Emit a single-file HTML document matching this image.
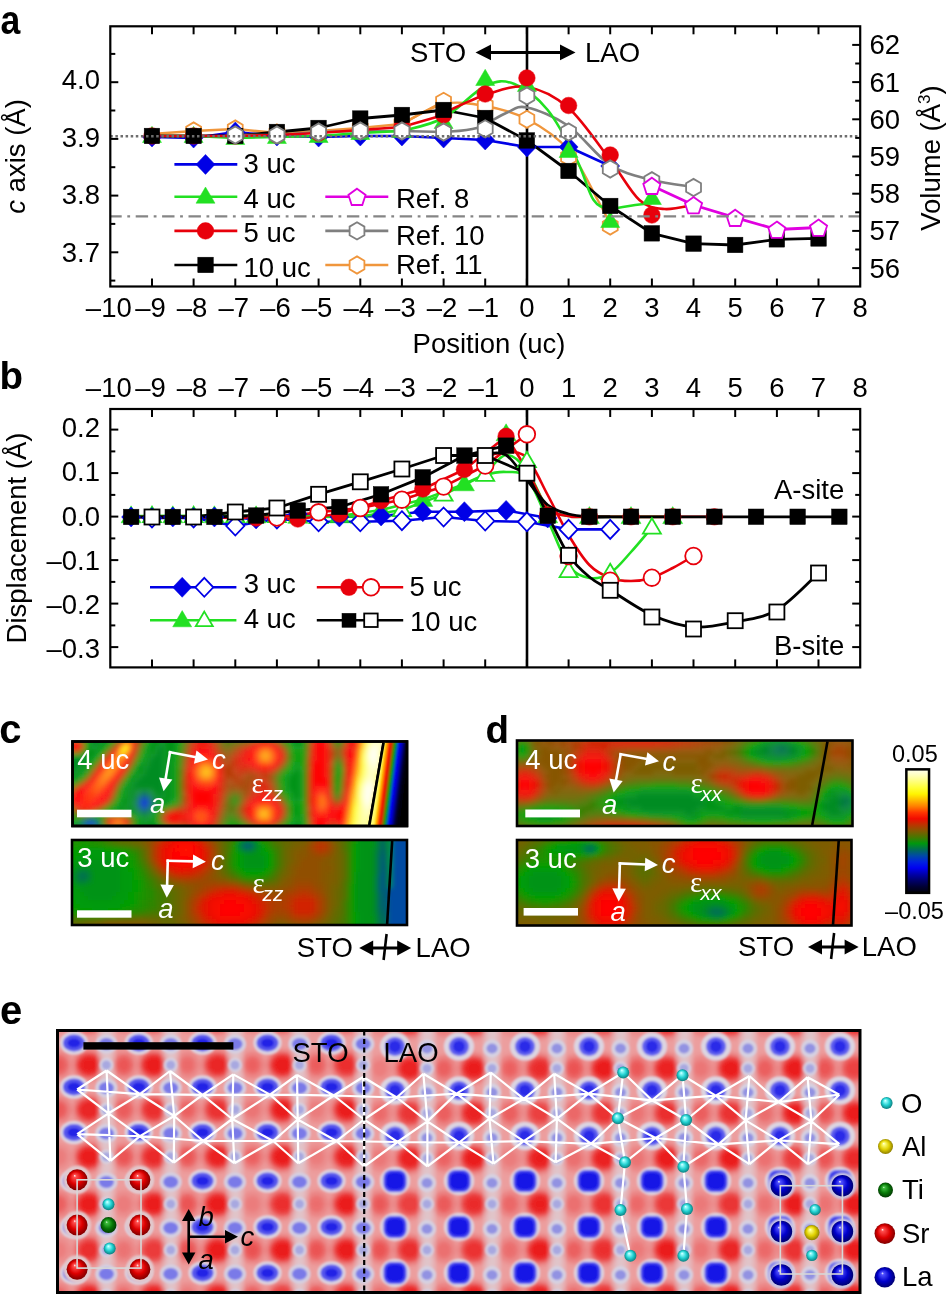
<!DOCTYPE html>
<html><head><meta charset="utf-8"><style>
html,body{margin:0;padding:0;background:#fff;overflow:hidden;}
svg{display:block;font-family:"Liberation Sans", sans-serif;will-change:transform;}
</style></head><body>
<svg width="946" height="1294" viewBox="0 0 946 1294">
<text transform="translate(0.6,34) scale(0.89,1)" font-size="40" font-weight="bold">a</text>
<line x1="527.0" y1="26.3" x2="527.0" y2="286.5" stroke="#000" stroke-width="2.6" />
<polyline points="152.0,134.0 193.6,131.0 235.3,129.0 276.9,133.0 318.6,131.0 360.3,128.0 401.9,124.0 443.6,101.3" fill="none" stroke="#f0963c" stroke-width="2.4" stroke-linejoin="round"/>
<path d="M401.9,124.0 C408.9,120.7 429.7,107.0 443.6,104.0 C457.5,101.0 471.4,103.5 485.2,106.0 C499.1,108.5 513.0,111.7 526.9,119.0 C540.8,126.3 556.8,136.5 568.6,150.0 C580.4,163.5 590.8,187.7 597.7,200.0 C604.7,212.3 608.1,220.0 610.2,224.0" fill="none" stroke="#f0963c" stroke-width="2.4" stroke-linejoin="round"/>
<polyline points="152.0,137.0 193.6,138.0 235.3,132.0 276.9,136.0 318.6,137.0 360.3,136.0 401.9,136.0 443.6,138.0 485.2,140.0 526.9,147.0 568.6,147.0 610.2,166.0" fill="none" stroke="#0000e6" stroke-width="2.6" stroke-linejoin="round"/>
<polyline points="152.0,136.0 193.6,136.0 235.3,136.0 276.9,132.0 318.6,128.0 360.3,118.5 401.9,115.0 443.6,110.0 485.2,118.0 526.9,140.4 568.6,171.0 610.2,206.0 651.9,233.3 693.5,243.7 735.2,245.0 776.9,239.3 818.5,238.4" fill="none" stroke="#000" stroke-width="2.8" stroke-linejoin="round"/>
<polyline points="235.3,135.0 276.9,135.0 318.6,132.0 360.3,131.0 401.9,131.0 443.6,132.0" fill="none" stroke="#7f7f7f" stroke-width="2.6" stroke-linejoin="round"/>
<path d="M443.6,132.0 C449.1,131.3 466.5,131.2 476.9,128.0 C487.3,124.8 497.7,116.4 506.1,113.0 C514.4,109.6 516.5,105.3 526.9,107.5 C537.3,109.7 554.7,116.4 568.6,126.0 C582.4,135.6 596.3,156.0 610.2,165.0 C624.1,174.0 638.0,176.3 651.9,180.0 C665.8,183.7 686.6,185.8 693.5,187.0" fill="none" stroke="#7f7f7f" stroke-width="2.6" stroke-linejoin="round"/>
<polyline points="152.0,136.0 193.6,136.0 235.3,138.0 276.9,137.0 318.6,136.0 360.3,133.0 401.9,131.0" fill="none" stroke="#22e022" stroke-width="2.6" stroke-linejoin="round"/>
<path d="M401.9,131.0 C408.9,128.8 429.7,125.5 443.6,118.0 C457.5,110.5 473.4,91.7 485.2,86.0 C497.0,80.3 504.0,80.0 514.4,84.0 C524.8,88.0 537.3,97.3 547.7,110.0 C558.1,122.7 569.3,145.0 576.9,160.0 C584.5,175.0 588.0,192.0 593.6,200.0 C599.1,208.0 603.3,207.2 610.2,208.0 C617.2,208.8 628.3,205.8 635.2,205.0 C642.2,204.2 649.1,203.3 651.9,203.0" fill="none" stroke="#22e022" stroke-width="2.6" stroke-linejoin="round"/>
<polyline points="152.0,136.0 193.6,136.0 235.3,136.0 276.9,135.0 318.6,133.0 360.3,130.0 401.9,127.0 443.6,115.0" fill="none" stroke="#e8000b" stroke-width="2.6" stroke-linejoin="round"/>
<path d="M443.6,113.0 C450.5,110.0 471.4,99.3 485.2,95.0 C499.1,90.7 513.0,84.8 526.9,87.0 C540.8,89.2 554.7,95.8 568.6,108.0 C582.4,120.2 598.4,144.7 610.2,160.0 C622.0,175.3 630.4,191.8 639.4,200.0 C648.4,208.2 655.4,208.2 664.4,209.0 C673.4,209.8 688.7,205.7 693.5,205.0" fill="none" stroke="#e8000b" stroke-width="2.6" stroke-linejoin="round"/>
<polyline points="651.9,185.7 693.5,205.0 735.2,217.7 776.9,229.5 818.5,227.5" fill="none" stroke="#e000e0" stroke-width="2.8" stroke-linejoin="round"/>
<polygon points="193.6,122.4 201.1,126.7 201.1,135.3 193.6,139.6 186.2,135.3 186.2,126.7" fill="#fff" stroke="#f0963c" stroke-width="1.8"/>
<polygon points="235.3,120.4 242.7,124.7 242.7,133.3 235.3,137.6 227.8,133.3 227.8,124.7" fill="#fff" stroke="#f0963c" stroke-width="1.8"/>
<polygon points="276.9,124.4 284.4,128.7 284.4,137.3 276.9,141.6 269.5,137.3 269.5,128.7" fill="#fff" stroke="#f0963c" stroke-width="1.8"/>
<polygon points="318.6,122.4 326.0,126.7 326.0,135.3 318.6,139.6 311.2,135.3 311.2,126.7" fill="#fff" stroke="#f0963c" stroke-width="1.8"/>
<polygon points="360.3,119.4 367.7,123.7 367.7,132.3 360.3,136.6 352.8,132.3 352.8,123.7" fill="#fff" stroke="#f0963c" stroke-width="1.8"/>
<polygon points="401.9,115.4 409.4,119.7 409.4,128.3 401.9,132.6 394.5,128.3 394.5,119.7" fill="#fff" stroke="#f0963c" stroke-width="1.8"/>
<polygon points="443.6,92.7 451.0,97.0 451.0,105.6 443.6,109.9 436.1,105.6 436.1,97.0" fill="#fff" stroke="#f0963c" stroke-width="1.8"/>
<polygon points="485.2,96.9 492.7,101.2 492.7,109.8 485.2,114.1 477.8,109.8 477.8,101.2" fill="#fff" stroke="#f0963c" stroke-width="1.8"/>
<polygon points="526.9,110.7 534.3,115.0 534.3,123.6 526.9,127.9 519.5,123.6 519.5,115.0" fill="#fff" stroke="#f0963c" stroke-width="1.8"/>
<polygon points="568.6,148.4 576.0,152.7 576.0,161.3 568.6,165.6 561.1,161.3 561.1,152.7" fill="#fff" stroke="#f0963c" stroke-width="1.8"/>
<polygon points="610.2,217.4 617.7,221.7 617.7,230.3 610.2,234.6 602.8,230.3 602.8,221.7" fill="#fff" stroke="#f0963c" stroke-width="1.8"/>
<polygon points="152.0,127.0 161.5,137.0 152.0,147.0 142.5,137.0" fill="#0000e6" stroke="#0000e6" stroke-width="0.5"/>
<polygon points="193.6,128.0 203.1,138.0 193.6,148.0 184.1,138.0" fill="#0000e6" stroke="#0000e6" stroke-width="0.5"/>
<polygon points="235.3,122.0 244.8,132.0 235.3,142.0 225.8,132.0" fill="#0000e6" stroke="#0000e6" stroke-width="0.5"/>
<polygon points="276.9,126.0 286.4,136.0 276.9,146.0 267.4,136.0" fill="#0000e6" stroke="#0000e6" stroke-width="0.5"/>
<polygon points="318.6,127.0 328.1,137.0 318.6,147.0 309.1,137.0" fill="#0000e6" stroke="#0000e6" stroke-width="0.5"/>
<polygon points="360.3,126.0 369.8,136.0 360.3,146.0 350.8,136.0" fill="#0000e6" stroke="#0000e6" stroke-width="0.5"/>
<polygon points="401.9,126.0 411.4,136.0 401.9,146.0 392.4,136.0" fill="#0000e6" stroke="#0000e6" stroke-width="0.5"/>
<polygon points="443.6,128.0 453.1,138.0 443.6,148.0 434.1,138.0" fill="#0000e6" stroke="#0000e6" stroke-width="0.5"/>
<polygon points="485.2,130.0 494.7,140.0 485.2,150.0 475.7,140.0" fill="#0000e6" stroke="#0000e6" stroke-width="0.5"/>
<polygon points="526.9,137.0 536.4,147.0 526.9,157.0 517.4,147.0" fill="#0000e6" stroke="#0000e6" stroke-width="0.5"/>
<polygon points="568.6,137.0 578.1,147.0 568.6,157.0 559.1,147.0" fill="#0000e6" stroke="#0000e6" stroke-width="0.5"/>
<polygon points="610.2,156.0 619.7,166.0 610.2,176.0 600.7,166.0" fill="#0000e6" stroke="#0000e6" stroke-width="0.5"/>
<polygon points="152.0,126.3 161.5,142.5 142.5,142.5" fill="#22e022" stroke="#22e022" stroke-width="0.5"/>
<polygon points="193.6,126.3 203.1,142.5 184.1,142.5" fill="#22e022" stroke="#22e022" stroke-width="0.5"/>
<polygon points="235.3,128.3 244.8,144.5 225.8,144.5" fill="#22e022" stroke="#22e022" stroke-width="0.5"/>
<polygon points="276.9,127.3 286.4,143.5 267.4,143.5" fill="#22e022" stroke="#22e022" stroke-width="0.5"/>
<polygon points="318.6,126.3 328.1,142.5 309.1,142.5" fill="#22e022" stroke="#22e022" stroke-width="0.5"/>
<polygon points="360.3,123.3 369.8,139.5 350.8,139.5" fill="#22e022" stroke="#22e022" stroke-width="0.5"/>
<polygon points="401.9,121.3 411.4,137.5 392.4,137.5" fill="#22e022" stroke="#22e022" stroke-width="0.5"/>
<polygon points="443.6,112.3 453.1,128.5 434.1,128.5" fill="#22e022" stroke="#22e022" stroke-width="0.5"/>
<polygon points="485.2,69.3 494.7,85.5 475.7,85.5" fill="#22e022" stroke="#22e022" stroke-width="0.5"/>
<polygon points="526.9,75.3 536.4,91.5 517.4,91.5" fill="#22e022" stroke="#22e022" stroke-width="0.5"/>
<polygon points="568.6,141.3 578.1,157.5 559.1,157.5" fill="#22e022" stroke="#22e022" stroke-width="0.5"/>
<polygon points="610.2,211.3 619.7,227.5 600.7,227.5" fill="#22e022" stroke="#22e022" stroke-width="0.5"/>
<polygon points="651.9,188.3 661.4,204.5 642.4,204.5" fill="#22e022" stroke="#22e022" stroke-width="0.5"/>
<circle cx="152.0" cy="136.0" r="8.3" fill="#e8000b" stroke="#e8000b" stroke-width="0.5"/>
<circle cx="193.6" cy="136.0" r="8.3" fill="#e8000b" stroke="#e8000b" stroke-width="0.5"/>
<circle cx="235.3" cy="136.0" r="8.3" fill="#e8000b" stroke="#e8000b" stroke-width="0.5"/>
<circle cx="276.9" cy="135.0" r="8.3" fill="#e8000b" stroke="#e8000b" stroke-width="0.5"/>
<circle cx="318.6" cy="133.0" r="8.3" fill="#e8000b" stroke="#e8000b" stroke-width="0.5"/>
<circle cx="360.3" cy="130.0" r="8.3" fill="#e8000b" stroke="#e8000b" stroke-width="0.5"/>
<circle cx="401.9" cy="127.0" r="8.3" fill="#e8000b" stroke="#e8000b" stroke-width="0.5"/>
<circle cx="443.6" cy="115.0" r="8.3" fill="#e8000b" stroke="#e8000b" stroke-width="0.5"/>
<circle cx="485.2" cy="94.0" r="8.3" fill="#e8000b" stroke="#e8000b" stroke-width="0.5"/>
<circle cx="526.9" cy="78.0" r="8.3" fill="#e8000b" stroke="#e8000b" stroke-width="0.5"/>
<circle cx="568.6" cy="105.5" r="8.3" fill="#e8000b" stroke="#e8000b" stroke-width="0.5"/>
<circle cx="610.2" cy="155.0" r="8.3" fill="#e8000b" stroke="#e8000b" stroke-width="0.5"/>
<circle cx="651.9" cy="215.0" r="8.3" fill="#e8000b" stroke="#e8000b" stroke-width="0.5"/>
<rect x="144.2" y="128.2" width="15.5" height="15.5" fill="#000" stroke="#000" stroke-width="0.5"/>
<rect x="185.9" y="128.2" width="15.5" height="15.5" fill="#000" stroke="#000" stroke-width="0.5"/>
<rect x="227.5" y="128.2" width="15.5" height="15.5" fill="#000" stroke="#000" stroke-width="0.5"/>
<rect x="269.2" y="124.2" width="15.5" height="15.5" fill="#000" stroke="#000" stroke-width="0.5"/>
<rect x="310.8" y="120.2" width="15.5" height="15.5" fill="#000" stroke="#000" stroke-width="0.5"/>
<rect x="352.5" y="110.8" width="15.5" height="15.5" fill="#000" stroke="#000" stroke-width="0.5"/>
<rect x="394.2" y="107.2" width="15.5" height="15.5" fill="#000" stroke="#000" stroke-width="0.5"/>
<rect x="435.8" y="102.2" width="15.5" height="15.5" fill="#000" stroke="#000" stroke-width="0.5"/>
<rect x="477.5" y="110.2" width="15.5" height="15.5" fill="#000" stroke="#000" stroke-width="0.5"/>
<rect x="519.1" y="132.7" width="15.5" height="15.5" fill="#000" stroke="#000" stroke-width="0.5"/>
<rect x="560.8" y="163.2" width="15.5" height="15.5" fill="#000" stroke="#000" stroke-width="0.5"/>
<rect x="602.5" y="198.2" width="15.5" height="15.5" fill="#000" stroke="#000" stroke-width="0.5"/>
<rect x="644.1" y="225.6" width="15.5" height="15.5" fill="#000" stroke="#000" stroke-width="0.5"/>
<rect x="685.8" y="235.9" width="15.5" height="15.5" fill="#000" stroke="#000" stroke-width="0.5"/>
<rect x="727.4" y="237.2" width="15.5" height="15.5" fill="#000" stroke="#000" stroke-width="0.5"/>
<rect x="769.1" y="231.6" width="15.5" height="15.5" fill="#000" stroke="#000" stroke-width="0.5"/>
<rect x="810.8" y="230.7" width="15.5" height="15.5" fill="#000" stroke="#000" stroke-width="0.5"/>
<polygon points="235.3,126.4 242.7,130.7 242.7,139.3 235.3,143.6 227.8,139.3 227.8,130.7" fill="#fff" stroke="#7f7f7f" stroke-width="1.8"/>
<polygon points="276.9,126.4 284.4,130.7 284.4,139.3 276.9,143.6 269.5,139.3 269.5,130.7" fill="#fff" stroke="#7f7f7f" stroke-width="1.8"/>
<polygon points="318.6,123.4 326.0,127.7 326.0,136.3 318.6,140.6 311.2,136.3 311.2,127.7" fill="#fff" stroke="#7f7f7f" stroke-width="1.8"/>
<polygon points="360.3,122.4 367.7,126.7 367.7,135.3 360.3,139.6 352.8,135.3 352.8,126.7" fill="#fff" stroke="#7f7f7f" stroke-width="1.8"/>
<polygon points="401.9,122.4 409.4,126.7 409.4,135.3 401.9,139.6 394.5,135.3 394.5,126.7" fill="#fff" stroke="#7f7f7f" stroke-width="1.8"/>
<polygon points="443.6,123.4 451.0,127.7 451.0,136.3 443.6,140.6 436.1,136.3 436.1,127.7" fill="#fff" stroke="#7f7f7f" stroke-width="1.8"/>
<polygon points="485.2,120.2 492.7,124.5 492.7,133.1 485.2,137.4 477.8,133.1 477.8,124.5" fill="#fff" stroke="#7f7f7f" stroke-width="1.8"/>
<polygon points="526.9,87.4 534.3,91.7 534.3,100.3 526.9,104.6 519.5,100.3 519.5,91.7" fill="#fff" stroke="#7f7f7f" stroke-width="1.8"/>
<polygon points="568.6,123.4 576.0,127.7 576.0,136.3 568.6,140.6 561.1,136.3 561.1,127.7" fill="#fff" stroke="#7f7f7f" stroke-width="1.8"/>
<polygon points="610.2,160.4 617.7,164.7 617.7,173.3 610.2,177.6 602.8,173.3 602.8,164.7" fill="#fff" stroke="#7f7f7f" stroke-width="1.8"/>
<polygon points="651.9,172.1 659.3,176.4 659.3,185.0 651.9,189.3 644.4,185.0 644.4,176.4" fill="#fff" stroke="#7f7f7f" stroke-width="1.8"/>
<polygon points="693.5,178.9 701.0,183.2 701.0,191.8 693.5,196.1 686.1,191.8 686.1,183.2" fill="#fff" stroke="#7f7f7f" stroke-width="1.8"/>
<polygon points="651.9,177.7 660.4,183.9 657.2,194.0 646.6,194.0 643.3,183.9" fill="#fff" stroke="#e000e0" stroke-width="1.8"/>
<polygon points="693.5,197.0 702.1,203.2 698.8,213.3 688.2,213.3 685.0,203.2" fill="#fff" stroke="#e000e0" stroke-width="1.8"/>
<polygon points="735.2,209.7 743.8,215.9 740.5,226.0 729.9,226.0 726.6,215.9" fill="#fff" stroke="#e000e0" stroke-width="1.8"/>
<polygon points="776.9,221.5 785.4,227.7 782.2,237.8 771.6,237.8 768.3,227.7" fill="#fff" stroke="#e000e0" stroke-width="1.8"/>
<polygon points="818.5,219.5 827.1,225.7 823.8,235.8 813.2,235.8 810.0,225.7" fill="#fff" stroke="#e000e0" stroke-width="1.8"/>
<line x1="110.3" y1="136.2" x2="860.2" y2="136.2" stroke="#6e6e6e" stroke-width="2.5" stroke-dasharray="2.5 2.6"/>
<line x1="110.3" y1="216.4" x2="860.2" y2="216.4" stroke="#858585" stroke-width="2.4" stroke-dasharray="12.4 5.6 2.8 5.6" stroke-dashoffset="1"/>
<rect x="110.3" y="26.3" width="749.9" height="260.2" fill="none" stroke="#000" stroke-width="2.2"/>
<line x1="152.0" y1="286.5" x2="152.0" y2="278.5" stroke="#000" stroke-width="2" />
<line x1="152.0" y1="26.3" x2="152.0" y2="34.3" stroke="#000" stroke-width="2" />
<line x1="193.6" y1="286.5" x2="193.6" y2="278.5" stroke="#000" stroke-width="2" />
<line x1="193.6" y1="26.3" x2="193.6" y2="34.3" stroke="#000" stroke-width="2" />
<line x1="235.3" y1="286.5" x2="235.3" y2="278.5" stroke="#000" stroke-width="2" />
<line x1="235.3" y1="26.3" x2="235.3" y2="34.3" stroke="#000" stroke-width="2" />
<line x1="276.9" y1="286.5" x2="276.9" y2="278.5" stroke="#000" stroke-width="2" />
<line x1="276.9" y1="26.3" x2="276.9" y2="34.3" stroke="#000" stroke-width="2" />
<line x1="318.6" y1="286.5" x2="318.6" y2="278.5" stroke="#000" stroke-width="2" />
<line x1="318.6" y1="26.3" x2="318.6" y2="34.3" stroke="#000" stroke-width="2" />
<line x1="360.3" y1="286.5" x2="360.3" y2="278.5" stroke="#000" stroke-width="2" />
<line x1="360.3" y1="26.3" x2="360.3" y2="34.3" stroke="#000" stroke-width="2" />
<line x1="401.9" y1="286.5" x2="401.9" y2="278.5" stroke="#000" stroke-width="2" />
<line x1="401.9" y1="26.3" x2="401.9" y2="34.3" stroke="#000" stroke-width="2" />
<line x1="443.6" y1="286.5" x2="443.6" y2="278.5" stroke="#000" stroke-width="2" />
<line x1="443.6" y1="26.3" x2="443.6" y2="34.3" stroke="#000" stroke-width="2" />
<line x1="485.2" y1="286.5" x2="485.2" y2="278.5" stroke="#000" stroke-width="2" />
<line x1="485.2" y1="26.3" x2="485.2" y2="34.3" stroke="#000" stroke-width="2" />
<line x1="526.9" y1="286.5" x2="526.9" y2="278.5" stroke="#000" stroke-width="2" />
<line x1="526.9" y1="26.3" x2="526.9" y2="34.3" stroke="#000" stroke-width="2" />
<line x1="568.6" y1="286.5" x2="568.6" y2="278.5" stroke="#000" stroke-width="2" />
<line x1="568.6" y1="26.3" x2="568.6" y2="34.3" stroke="#000" stroke-width="2" />
<line x1="610.2" y1="286.5" x2="610.2" y2="278.5" stroke="#000" stroke-width="2" />
<line x1="610.2" y1="26.3" x2="610.2" y2="34.3" stroke="#000" stroke-width="2" />
<line x1="651.9" y1="286.5" x2="651.9" y2="278.5" stroke="#000" stroke-width="2" />
<line x1="651.9" y1="26.3" x2="651.9" y2="34.3" stroke="#000" stroke-width="2" />
<line x1="693.5" y1="286.5" x2="693.5" y2="278.5" stroke="#000" stroke-width="2" />
<line x1="693.5" y1="26.3" x2="693.5" y2="34.3" stroke="#000" stroke-width="2" />
<line x1="735.2" y1="286.5" x2="735.2" y2="278.5" stroke="#000" stroke-width="2" />
<line x1="735.2" y1="26.3" x2="735.2" y2="34.3" stroke="#000" stroke-width="2" />
<line x1="776.9" y1="286.5" x2="776.9" y2="278.5" stroke="#000" stroke-width="2" />
<line x1="776.9" y1="26.3" x2="776.9" y2="34.3" stroke="#000" stroke-width="2" />
<line x1="818.5" y1="286.5" x2="818.5" y2="278.5" stroke="#000" stroke-width="2" />
<line x1="818.5" y1="26.3" x2="818.5" y2="34.3" stroke="#000" stroke-width="2" />
<text x="108.8" y="316.5" font-size="27.5" text-anchor="middle" fill="#000" >&#8211;10</text>
<text x="150.5" y="316.5" font-size="27.5" text-anchor="middle" fill="#000" >&#8211;9</text>
<text x="192.1" y="316.5" font-size="27.5" text-anchor="middle" fill="#000" >&#8211;8</text>
<text x="233.8" y="316.5" font-size="27.5" text-anchor="middle" fill="#000" >&#8211;7</text>
<text x="275.4" y="316.5" font-size="27.5" text-anchor="middle" fill="#000" >&#8211;6</text>
<text x="317.1" y="316.5" font-size="27.5" text-anchor="middle" fill="#000" >&#8211;5</text>
<text x="358.8" y="316.5" font-size="27.5" text-anchor="middle" fill="#000" >&#8211;4</text>
<text x="400.4" y="316.5" font-size="27.5" text-anchor="middle" fill="#000" >&#8211;3</text>
<text x="442.1" y="316.5" font-size="27.5" text-anchor="middle" fill="#000" >&#8211;2</text>
<text x="483.7" y="316.5" font-size="27.5" text-anchor="middle" fill="#000" >&#8211;1</text>
<text x="526.9" y="316.5" font-size="27.5" text-anchor="middle" fill="#000" >0</text>
<text x="568.6" y="316.5" font-size="27.5" text-anchor="middle" fill="#000" >1</text>
<text x="610.2" y="316.5" font-size="27.5" text-anchor="middle" fill="#000" >2</text>
<text x="651.9" y="316.5" font-size="27.5" text-anchor="middle" fill="#000" >3</text>
<text x="693.5" y="316.5" font-size="27.5" text-anchor="middle" fill="#000" >4</text>
<text x="735.2" y="316.5" font-size="27.5" text-anchor="middle" fill="#000" >5</text>
<text x="776.9" y="316.5" font-size="27.5" text-anchor="middle" fill="#000" >6</text>
<text x="818.5" y="316.5" font-size="27.5" text-anchor="middle" fill="#000" >7</text>
<text x="860.2" y="316.5" font-size="27.5" text-anchor="middle" fill="#000" >8</text>
<line x1="110.3" y1="82.2" x2="118.3" y2="82.2" stroke="#000" stroke-width="2" />
<text x="100.0" y="89.4" font-size="27.5" text-anchor="end" fill="#000" >4.0</text>
<line x1="110.3" y1="138.9" x2="118.3" y2="138.9" stroke="#000" stroke-width="2" />
<text x="100.0" y="146.6" font-size="27.5" text-anchor="end" fill="#000" >3.9</text>
<line x1="110.3" y1="195.6" x2="118.3" y2="195.6" stroke="#000" stroke-width="2" />
<text x="100.0" y="204.1" font-size="27.5" text-anchor="end" fill="#000" >3.8</text>
<line x1="110.3" y1="252.3" x2="118.3" y2="252.3" stroke="#000" stroke-width="2" />
<text x="100.0" y="261.8" font-size="27.5" text-anchor="end" fill="#000" >3.7</text>
<line x1="110.3" y1="53.9" x2="115.3" y2="53.9" stroke="#000" stroke-width="2" />
<line x1="110.3" y1="110.5" x2="115.3" y2="110.5" stroke="#000" stroke-width="2" />
<line x1="110.3" y1="167.2" x2="115.3" y2="167.2" stroke="#000" stroke-width="2" />
<line x1="110.3" y1="223.9" x2="115.3" y2="223.9" stroke="#000" stroke-width="2" />
<line x1="110.3" y1="280.6" x2="115.3" y2="280.6" stroke="#000" stroke-width="2" />
<line x1="860.2" y1="268.1" x2="852.2" y2="268.1" stroke="#000" stroke-width="2" />
<text x="869.5" y="277.6" font-size="27.5" text-anchor="start" fill="#000" >56</text>
<line x1="860.2" y1="230.9" x2="852.2" y2="230.9" stroke="#000" stroke-width="2" />
<text x="869.5" y="240.4" font-size="27.5" text-anchor="start" fill="#000" >57</text>
<line x1="860.2" y1="193.7" x2="852.2" y2="193.7" stroke="#000" stroke-width="2" />
<text x="869.5" y="203.2" font-size="27.5" text-anchor="start" fill="#000" >58</text>
<line x1="860.2" y1="156.5" x2="852.2" y2="156.5" stroke="#000" stroke-width="2" />
<text x="869.5" y="166.0" font-size="27.5" text-anchor="start" fill="#000" >59</text>
<line x1="860.2" y1="119.3" x2="852.2" y2="119.3" stroke="#000" stroke-width="2" />
<text x="869.5" y="128.8" font-size="27.5" text-anchor="start" fill="#000" >60</text>
<line x1="860.2" y1="82.1" x2="852.2" y2="82.1" stroke="#000" stroke-width="2" />
<text x="869.5" y="91.6" font-size="27.5" text-anchor="start" fill="#000" >61</text>
<line x1="860.2" y1="44.9" x2="852.2" y2="44.9" stroke="#000" stroke-width="2" />
<text x="869.5" y="54.4" font-size="27.5" text-anchor="start" fill="#000" >62</text>
<line x1="860.2" y1="249.5" x2="855.2" y2="249.5" stroke="#000" stroke-width="2" />
<line x1="860.2" y1="212.3" x2="855.2" y2="212.3" stroke="#000" stroke-width="2" />
<line x1="860.2" y1="175.1" x2="855.2" y2="175.1" stroke="#000" stroke-width="2" />
<line x1="860.2" y1="137.9" x2="855.2" y2="137.9" stroke="#000" stroke-width="2" />
<line x1="860.2" y1="100.7" x2="855.2" y2="100.7" stroke="#000" stroke-width="2" />
<line x1="860.2" y1="63.5" x2="855.2" y2="63.5" stroke="#000" stroke-width="2" />
<text x="489.0" y="352.5" font-size="27.5" text-anchor="middle" fill="#000" >Position (uc)</text>
<text transform="translate(25.2,156.5) rotate(-90)" font-size="27.5" text-anchor="middle"><tspan font-style="italic">c</tspan> axis (&#197;)</text>
<text transform="translate(939.5,158) rotate(-90)" font-size="27.5" text-anchor="middle">Volume (&#197;<tspan font-size="17" dy="-10">3</tspan><tspan dy="10">)</tspan></text>
<text x="410.0" y="61.7" font-size="27.5" text-anchor="start" fill="#000" >STO</text>
<text x="585.0" y="61.7" font-size="27.5" text-anchor="start" fill="#000" >LAO</text>
<line x1="488.0" y1="52.4" x2="563.0" y2="52.4" stroke="#000" stroke-width="3" />
<polygon points="475.5,52.4 491.0,44.5 491.0,60.3" fill="#000" stroke="none" stroke-width="1.8"/>
<polygon points="575.5,52.4 560.0,44.5 560.0,60.3" fill="#000" stroke="none" stroke-width="1.8"/>
<line x1="174.4" y1="164.4" x2="237.3" y2="164.4" stroke="#0000e6" stroke-width="2.6" />
<polygon points="205.5,154.4 215.0,164.4 205.5,174.4 196.0,164.4" fill="#0000e6" stroke="#0000e6" stroke-width="0.5"/>
<text x="243.5" y="173.4" font-size="27.5" text-anchor="start" fill="#000" >3 uc</text>
<line x1="174.4" y1="196.7" x2="237.3" y2="196.7" stroke="#22e022" stroke-width="2.6" />
<polygon points="205.5,187.0 215.0,203.2 196.0,203.2" fill="#22e022" stroke="#22e022" stroke-width="0.5"/>
<text x="243.5" y="207.5" font-size="27.5" text-anchor="start" fill="#000" >4 uc</text>
<line x1="174.4" y1="230.9" x2="237.3" y2="230.9" stroke="#e8000b" stroke-width="2.6" />
<circle cx="205.5" cy="230.9" r="8.3" fill="#e8000b" stroke="#e8000b" stroke-width="0.5"/>
<text x="243.5" y="241.8" font-size="27.5" text-anchor="start" fill="#000" >5 uc</text>
<line x1="174.4" y1="265.0" x2="237.3" y2="265.0" stroke="#000" stroke-width="2.6" />
<rect x="197.8" y="257.2" width="15.5" height="15.5" fill="#000" stroke="#000" stroke-width="0.5"/>
<text x="243.5" y="276.5" font-size="27.5" text-anchor="start" fill="#000" >10 uc</text>
<line x1="325.3" y1="196.7" x2="388.3" y2="196.7" stroke="#e000e0" stroke-width="2.6" />
<polygon points="357.0,188.7 365.6,194.9 362.3,205.0 351.7,205.0 348.4,194.9" fill="#fff" stroke="#e000e0" stroke-width="1.8"/>
<text x="396.0" y="207.5" font-size="27.5" text-anchor="start" fill="#000" >Ref. 8</text>
<line x1="325.3" y1="230.9" x2="388.3" y2="230.9" stroke="#7f7f7f" stroke-width="2.6" />
<polygon points="357.0,222.3 364.4,226.6 364.4,235.2 357.0,239.5 349.6,235.2 349.6,226.6" fill="#fff" stroke="#7f7f7f" stroke-width="1.8"/>
<text x="396.0" y="244.6" font-size="27.5" text-anchor="start" fill="#000" >Ref. 10</text>
<line x1="325.3" y1="265.0" x2="388.3" y2="265.0" stroke="#f0963c" stroke-width="2.6" />
<polygon points="357.0,256.4 364.4,260.7 364.4,269.3 357.0,273.6 349.6,269.3 349.6,260.7" fill="#fff" stroke="#f0963c" stroke-width="1.8"/>
<text x="396.0" y="273.5" font-size="27.5" text-anchor="start" fill="#000" >Ref. 11</text>
<text x="-0.5" y="388.8" font-size="38.5" text-anchor="start" fill="#000" font-weight="bold">b</text>
<line x1="527.0" y1="409.0" x2="527.0" y2="667.4" stroke="#000" stroke-width="2.6" />
<polyline points="152.0,518.0 193.6,518.0 235.3,526.0 276.9,519.0 318.6,521.8 360.3,521.8 401.9,520.7 443.6,517.0 485.2,521.0 526.9,521.8 568.6,529.4 610.2,529.4" fill="none" stroke="#0000e6" stroke-width="2.6" stroke-linejoin="round"/>
<polyline points="131.1,517.0 172.8,517.0 214.4,517.0 256.1,519.0 297.8,514.0 339.4,517.0 381.1,516.0 422.8,511.7 464.4,511.7 506.1,510.4 547.7,518.0" fill="none" stroke="#0000e6" stroke-width="2.6" stroke-linejoin="round"/>
<polyline points="152.0,516.0 193.6,516.0 235.3,516.0 276.9,516.0 318.6,517.0 360.3,516.5 401.9,510.0 443.6,494.6 485.2,474.7" fill="none" stroke="#22e022" stroke-width="2.6" stroke-linejoin="round"/>
<polyline points="131.1,516.0 172.8,516.0 214.4,516.0 256.1,516.0 297.8,516.5 339.4,516.0 381.1,510.0 422.8,499.6 464.4,484.0" fill="none" stroke="#22e022" stroke-width="2.6" stroke-linejoin="round"/>
<path d="M464.4,484.0 C467.9,482.5 478.3,477.0 485.2,475.0 C492.2,473.0 499.1,471.5 506.1,472.0 C513.0,472.5 520.0,470.0 526.9,478.0 C533.8,486.0 540.8,505.5 547.7,520.0 C554.7,534.5 561.6,555.3 568.6,565.0 C575.5,574.7 582.4,576.7 589.4,578.0 C596.3,579.3 603.3,577.3 610.2,573.0 C617.2,568.7 624.1,559.6 631.0,552.0 C638.0,544.4 648.4,531.6 651.9,527.5" fill="none" stroke="#22e022" stroke-width="2.6" stroke-linejoin="round"/>
<path d="M485.2,474.0 C488.7,470.8 499.1,455.7 506.1,455.0 C513.0,454.3 520.0,461.2 526.9,470.0 C533.8,478.8 540.8,500.3 547.7,508.0 C554.7,515.7 561.6,514.5 568.6,516.0 C575.5,517.5 572.0,516.7 589.4,516.8 C606.7,516.9 658.8,516.8 672.7,516.8" fill="none" stroke="#22e022" stroke-width="2.6" stroke-linejoin="round"/>
<polyline points="152.0,517.0 193.6,517.0 235.3,517.6 276.9,517.6 318.6,512.3 360.3,508.0 401.9,499.7 443.6,486.6 485.2,465.5 526.9,434.3" fill="none" stroke="#e8000b" stroke-width="2.6" stroke-linejoin="round"/>
<polyline points="131.1,517.0 172.8,517.0 214.4,517.0 256.1,518.0 297.8,519.0 339.4,514.0 381.1,500.7 422.8,489.0 464.4,469.5 506.1,436.4" fill="none" stroke="#e8000b" stroke-width="2.6" stroke-linejoin="round"/>
<path d="M485.2,457.0 C488.7,456.2 499.1,451.8 506.1,452.0 C513.0,452.2 520.0,450.8 526.9,458.0 C533.8,465.2 540.8,482.2 547.7,495.0 C554.7,507.8 561.6,523.3 568.6,535.0 C575.5,546.7 582.4,557.8 589.4,565.0 C596.3,572.2 603.3,575.3 610.2,578.0 C617.2,580.7 624.1,581.0 631.0,581.0 C638.0,581.0 644.9,579.9 651.9,577.7 C658.8,575.5 665.8,571.6 672.7,568.0 C679.7,564.4 690.1,558.0 693.5,556.0" fill="none" stroke="#e8000b" stroke-width="2.6" stroke-linejoin="round"/>
<path d="M506.1,436.0 C509.5,441.7 520.0,458.0 526.9,470.0 C533.8,482.0 540.8,500.3 547.7,508.0 C554.7,515.7 561.6,514.5 568.6,516.0 C575.5,517.5 565.1,516.7 589.4,516.8 C613.7,516.9 693.5,516.8 714.4,516.8" fill="none" stroke="#e8000b" stroke-width="2.6" stroke-linejoin="round"/>
<polyline points="152.0,517.0 193.6,517.0 235.3,512.0 276.9,508.0 318.6,494.3 360.3,481.8 401.9,469.0 443.6,455.5 485.2,455.5 526.9,473.2" fill="none" stroke="#000" stroke-width="2.8" stroke-linejoin="round"/>
<path d="M526.9,473.0 C530.4,480.0 540.8,501.3 547.7,515.0 C554.7,528.7 561.6,544.7 568.6,555.0 C575.5,565.3 582.4,571.2 589.4,577.0 C596.3,582.8 599.8,583.7 610.2,590.0 C620.6,596.3 638.0,608.8 651.9,615.0 C665.8,621.2 679.7,625.8 693.5,627.0 C707.4,628.2 721.3,624.8 735.2,622.0 C749.1,619.2 763.0,618.2 776.9,610.0 C790.7,601.8 811.6,579.2 818.5,573.0" fill="none" stroke="#000" stroke-width="2.8" stroke-linejoin="round"/>
<polyline points="131.1,517.0 172.8,517.0 214.4,517.0 256.1,515.5 297.8,510.5 339.4,507.0 381.1,494.3 422.8,477.4 464.4,455.5 506.1,445.7" fill="none" stroke="#000" stroke-width="2.8" stroke-linejoin="round"/>
<path d="M485.2,454.0 C488.7,454.2 499.1,450.7 506.1,455.0 C513.0,459.3 520.0,471.7 526.9,480.0 C533.8,488.3 540.8,499.3 547.7,505.0 C554.7,510.7 561.6,512.0 568.6,514.0 C575.5,516.0 582.4,516.3 589.4,516.8 C596.3,517.3 606.7,516.8 610.2,516.8" fill="none" stroke="#000" stroke-width="2.8" stroke-linejoin="round"/>
<line x1="589.4" y1="516.8" x2="839.3" y2="516.8" stroke="#000" stroke-width="2.8" />
<polygon points="131.1,505.8 141.1,522.8 121.1,522.8" fill="#22e022" stroke="#22e022" stroke-width="0.5"/>
<polygon points="172.8,505.8 182.8,522.8 162.8,522.8" fill="#22e022" stroke="#22e022" stroke-width="0.5"/>
<polygon points="214.4,505.8 224.4,522.8 204.4,522.8" fill="#22e022" stroke="#22e022" stroke-width="0.5"/>
<polygon points="256.1,505.8 266.1,522.8 246.1,522.8" fill="#22e022" stroke="#22e022" stroke-width="0.5"/>
<polygon points="297.8,506.3 307.8,523.3 287.8,523.3" fill="#22e022" stroke="#22e022" stroke-width="0.5"/>
<polygon points="339.4,505.8 349.4,522.8 329.4,522.8" fill="#22e022" stroke="#22e022" stroke-width="0.5"/>
<polygon points="381.1,499.8 391.1,516.8 371.1,516.8" fill="#22e022" stroke="#22e022" stroke-width="0.5"/>
<polygon points="422.8,489.4 432.8,506.4 412.8,506.4" fill="#22e022" stroke="#22e022" stroke-width="0.5"/>
<polygon points="464.4,473.8 474.4,490.8 454.4,490.8" fill="#22e022" stroke="#22e022" stroke-width="0.5"/>
<polygon points="506.1,423.8 516.1,440.8 496.1,440.8" fill="#22e022" stroke="#22e022" stroke-width="0.5"/>
<polygon points="547.7,505.8 557.7,522.8 537.7,522.8" fill="#22e022" stroke="#22e022" stroke-width="0.5"/>
<polygon points="589.4,506.6 599.4,523.6 579.4,523.6" fill="#22e022" stroke="#22e022" stroke-width="0.5"/>
<polygon points="631.0,506.6 641.0,523.6 621.0,523.6" fill="#22e022" stroke="#22e022" stroke-width="0.5"/>
<polygon points="672.7,506.6 682.7,523.6 662.7,523.6" fill="#22e022" stroke="#22e022" stroke-width="0.5"/>
<polygon points="152.0,506.8 161.0,522.1 143.0,522.1" fill="#fff" stroke="#22e022" stroke-width="1.8"/>
<polygon points="193.6,506.8 202.6,522.1 184.6,522.1" fill="#fff" stroke="#22e022" stroke-width="1.8"/>
<polygon points="235.3,506.8 244.3,522.1 226.3,522.1" fill="#fff" stroke="#22e022" stroke-width="1.8"/>
<polygon points="276.9,506.8 285.9,522.1 267.9,522.1" fill="#fff" stroke="#22e022" stroke-width="1.8"/>
<polygon points="318.6,507.8 327.6,523.1 309.6,523.1" fill="#fff" stroke="#22e022" stroke-width="1.8"/>
<polygon points="360.3,507.3 369.3,522.6 351.3,522.6" fill="#fff" stroke="#22e022" stroke-width="1.8"/>
<polygon points="401.9,500.8 410.9,516.1 392.9,516.1" fill="#fff" stroke="#22e022" stroke-width="1.8"/>
<polygon points="443.6,485.4 452.6,500.7 434.6,500.7" fill="#fff" stroke="#22e022" stroke-width="1.8"/>
<polygon points="485.2,465.5 494.2,480.8 476.2,480.8" fill="#fff" stroke="#22e022" stroke-width="1.8"/>
<polygon points="526.9,451.8 535.9,467.1 517.9,467.1" fill="#fff" stroke="#22e022" stroke-width="1.8"/>
<polygon points="568.6,561.8 577.6,577.1 559.6,577.1" fill="#fff" stroke="#22e022" stroke-width="1.8"/>
<polygon points="610.2,563.8 619.2,579.1 601.2,579.1" fill="#fff" stroke="#22e022" stroke-width="1.8"/>
<polygon points="651.9,518.3 660.9,533.6 642.9,533.6" fill="#fff" stroke="#22e022" stroke-width="1.8"/>
<polygon points="131.1,507.0 140.6,517.0 131.1,527.0 121.6,517.0" fill="#0000e6" stroke="#0000e6" stroke-width="0.5"/>
<polygon points="172.8,507.0 182.3,517.0 172.8,527.0 163.3,517.0" fill="#0000e6" stroke="#0000e6" stroke-width="0.5"/>
<polygon points="214.4,507.0 223.9,517.0 214.4,527.0 204.9,517.0" fill="#0000e6" stroke="#0000e6" stroke-width="0.5"/>
<polygon points="256.1,509.0 265.6,519.0 256.1,529.0 246.6,519.0" fill="#0000e6" stroke="#0000e6" stroke-width="0.5"/>
<polygon points="297.8,504.0 307.3,514.0 297.8,524.0 288.3,514.0" fill="#0000e6" stroke="#0000e6" stroke-width="0.5"/>
<polygon points="339.4,507.0 348.9,517.0 339.4,527.0 329.9,517.0" fill="#0000e6" stroke="#0000e6" stroke-width="0.5"/>
<polygon points="381.1,506.0 390.6,516.0 381.1,526.0 371.6,516.0" fill="#0000e6" stroke="#0000e6" stroke-width="0.5"/>
<polygon points="422.8,501.7 432.2,511.7 422.8,521.7 413.2,511.7" fill="#0000e6" stroke="#0000e6" stroke-width="0.5"/>
<polygon points="464.4,501.7 473.9,511.7 464.4,521.7 454.9,511.7" fill="#0000e6" stroke="#0000e6" stroke-width="0.5"/>
<polygon points="506.1,500.4 515.6,510.4 506.1,520.4 496.6,510.4" fill="#0000e6" stroke="#0000e6" stroke-width="0.5"/>
<polygon points="547.7,508.0 557.2,518.0 547.7,528.0 538.2,518.0" fill="#0000e6" stroke="#0000e6" stroke-width="0.5"/>
<polygon points="152.0,508.5 161.0,518.0 152.0,527.5 142.9,518.0" fill="#fff" stroke="#0000e6" stroke-width="1.8"/>
<polygon points="193.6,508.5 202.6,518.0 193.6,527.5 184.6,518.0" fill="#fff" stroke="#0000e6" stroke-width="1.8"/>
<polygon points="235.3,516.5 244.3,526.0 235.3,535.5 226.3,526.0" fill="#fff" stroke="#0000e6" stroke-width="1.8"/>
<polygon points="276.9,509.5 286.0,519.0 276.9,528.5 267.9,519.0" fill="#fff" stroke="#0000e6" stroke-width="1.8"/>
<polygon points="318.6,512.3 327.6,521.8 318.6,531.3 309.6,521.8" fill="#fff" stroke="#0000e6" stroke-width="1.8"/>
<polygon points="360.3,512.3 369.3,521.8 360.3,531.3 351.2,521.8" fill="#fff" stroke="#0000e6" stroke-width="1.8"/>
<polygon points="401.9,511.2 410.9,520.7 401.9,530.2 392.9,520.7" fill="#fff" stroke="#0000e6" stroke-width="1.8"/>
<polygon points="443.6,507.5 452.6,517.0 443.6,526.5 434.6,517.0" fill="#fff" stroke="#0000e6" stroke-width="1.8"/>
<polygon points="485.2,511.5 494.3,521.0 485.2,530.5 476.2,521.0" fill="#fff" stroke="#0000e6" stroke-width="1.8"/>
<polygon points="526.9,512.3 535.9,521.8 526.9,531.3 517.9,521.8" fill="#fff" stroke="#0000e6" stroke-width="1.8"/>
<polygon points="568.6,519.9 577.6,529.4 568.6,538.9 559.5,529.4" fill="#fff" stroke="#0000e6" stroke-width="1.8"/>
<polygon points="610.2,519.9 619.2,529.4 610.2,538.9 601.2,529.4" fill="#fff" stroke="#0000e6" stroke-width="1.8"/>
<circle cx="256.1" cy="518.0" r="8.3" fill="#e8000b" stroke="#e8000b" stroke-width="0.5"/>
<circle cx="297.8" cy="519.0" r="8.3" fill="#e8000b" stroke="#e8000b" stroke-width="0.5"/>
<circle cx="339.4" cy="514.0" r="8.3" fill="#e8000b" stroke="#e8000b" stroke-width="0.5"/>
<circle cx="381.1" cy="500.7" r="8.3" fill="#e8000b" stroke="#e8000b" stroke-width="0.5"/>
<circle cx="422.8" cy="489.0" r="8.3" fill="#e8000b" stroke="#e8000b" stroke-width="0.5"/>
<circle cx="464.4" cy="469.5" r="8.3" fill="#e8000b" stroke="#e8000b" stroke-width="0.5"/>
<circle cx="506.1" cy="436.4" r="8.3" fill="#e8000b" stroke="#e8000b" stroke-width="0.5"/>
<circle cx="547.7" cy="515.0" r="8.3" fill="#e8000b" stroke="#e8000b" stroke-width="0.5"/>
<circle cx="589.4" cy="516.8" r="8.3" fill="#e8000b" stroke="#e8000b" stroke-width="0.5"/>
<circle cx="631.0" cy="516.8" r="8.3" fill="#e8000b" stroke="#e8000b" stroke-width="0.5"/>
<circle cx="672.7" cy="516.8" r="8.3" fill="#e8000b" stroke="#e8000b" stroke-width="0.5"/>
<circle cx="714.4" cy="516.8" r="8.3" fill="#e8000b" stroke="#e8000b" stroke-width="0.5"/>
<circle cx="276.9" cy="517.6" r="8.3" fill="#fff" stroke="#e8000b" stroke-width="1.8"/>
<circle cx="318.6" cy="512.3" r="8.3" fill="#fff" stroke="#e8000b" stroke-width="1.8"/>
<circle cx="360.3" cy="508.0" r="8.3" fill="#fff" stroke="#e8000b" stroke-width="1.8"/>
<circle cx="401.9" cy="499.7" r="8.3" fill="#fff" stroke="#e8000b" stroke-width="1.8"/>
<circle cx="443.6" cy="486.6" r="8.3" fill="#fff" stroke="#e8000b" stroke-width="1.8"/>
<circle cx="485.2" cy="465.5" r="8.3" fill="#fff" stroke="#e8000b" stroke-width="1.8"/>
<circle cx="526.9" cy="434.3" r="8.3" fill="#fff" stroke="#e8000b" stroke-width="1.8"/>
<circle cx="568.6" cy="556.0" r="8.3" fill="#fff" stroke="#e8000b" stroke-width="1.8"/>
<circle cx="610.2" cy="580.7" r="8.3" fill="#fff" stroke="#e8000b" stroke-width="1.8"/>
<circle cx="651.9" cy="577.7" r="8.3" fill="#fff" stroke="#e8000b" stroke-width="1.8"/>
<circle cx="693.5" cy="556.0" r="8.3" fill="#fff" stroke="#e8000b" stroke-width="1.8"/>
<rect x="123.4" y="509.2" width="15.5" height="15.5" fill="#000" stroke="#000" stroke-width="0.5"/>
<rect x="165.0" y="509.2" width="15.5" height="15.5" fill="#000" stroke="#000" stroke-width="0.5"/>
<rect x="206.7" y="509.2" width="15.5" height="15.5" fill="#000" stroke="#000" stroke-width="0.5"/>
<rect x="248.4" y="507.8" width="15.5" height="15.5" fill="#000" stroke="#000" stroke-width="0.5"/>
<rect x="290.0" y="502.8" width="15.5" height="15.5" fill="#000" stroke="#000" stroke-width="0.5"/>
<rect x="331.7" y="499.2" width="15.5" height="15.5" fill="#000" stroke="#000" stroke-width="0.5"/>
<rect x="373.3" y="486.6" width="15.5" height="15.5" fill="#000" stroke="#000" stroke-width="0.5"/>
<rect x="415.0" y="469.6" width="15.5" height="15.5" fill="#000" stroke="#000" stroke-width="0.5"/>
<rect x="456.7" y="447.8" width="15.5" height="15.5" fill="#000" stroke="#000" stroke-width="0.5"/>
<rect x="498.3" y="437.9" width="15.5" height="15.5" fill="#000" stroke="#000" stroke-width="0.5"/>
<rect x="540.0" y="508.0" width="15.5" height="15.5" fill="#000" stroke="#000" stroke-width="0.5"/>
<rect x="581.6" y="509.0" width="15.5" height="15.5" fill="#000" stroke="#000" stroke-width="0.5"/>
<rect x="623.3" y="509.0" width="15.5" height="15.5" fill="#000" stroke="#000" stroke-width="0.5"/>
<rect x="665.0" y="509.0" width="15.5" height="15.5" fill="#000" stroke="#000" stroke-width="0.5"/>
<rect x="706.6" y="509.0" width="15.5" height="15.5" fill="#000" stroke="#000" stroke-width="0.5"/>
<rect x="748.3" y="509.0" width="15.5" height="15.5" fill="#000" stroke="#000" stroke-width="0.5"/>
<rect x="789.9" y="509.0" width="15.5" height="15.5" fill="#000" stroke="#000" stroke-width="0.5"/>
<rect x="831.6" y="509.0" width="15.5" height="15.5" fill="#000" stroke="#000" stroke-width="0.5"/>
<rect x="144.5" y="509.5" width="15" height="15" fill="#fff" stroke="#000" stroke-width="1.8"/>
<rect x="186.1" y="509.5" width="15" height="15" fill="#fff" stroke="#000" stroke-width="1.8"/>
<rect x="227.8" y="504.5" width="15" height="15" fill="#fff" stroke="#000" stroke-width="1.8"/>
<rect x="269.4" y="500.5" width="15" height="15" fill="#fff" stroke="#000" stroke-width="1.8"/>
<rect x="311.1" y="486.8" width="15" height="15" fill="#fff" stroke="#000" stroke-width="1.8"/>
<rect x="352.8" y="474.3" width="15" height="15" fill="#fff" stroke="#000" stroke-width="1.8"/>
<rect x="394.4" y="461.5" width="15" height="15" fill="#fff" stroke="#000" stroke-width="1.8"/>
<rect x="436.1" y="448.0" width="15" height="15" fill="#fff" stroke="#000" stroke-width="1.8"/>
<rect x="477.7" y="448.0" width="15" height="15" fill="#fff" stroke="#000" stroke-width="1.8"/>
<rect x="519.4" y="465.7" width="15" height="15" fill="#fff" stroke="#000" stroke-width="1.8"/>
<rect x="561.1" y="547.8" width="15" height="15" fill="#fff" stroke="#000" stroke-width="1.8"/>
<rect x="602.7" y="582.8" width="15" height="15" fill="#fff" stroke="#000" stroke-width="1.8"/>
<rect x="644.4" y="609.5" width="15" height="15" fill="#fff" stroke="#000" stroke-width="1.8"/>
<rect x="686.0" y="621.5" width="15" height="15" fill="#fff" stroke="#000" stroke-width="1.8"/>
<rect x="727.7" y="613.2" width="15" height="15" fill="#fff" stroke="#000" stroke-width="1.8"/>
<rect x="769.4" y="604.5" width="15" height="15" fill="#fff" stroke="#000" stroke-width="1.8"/>
<rect x="811.0" y="565.5" width="15" height="15" fill="#fff" stroke="#000" stroke-width="1.8"/>
<rect x="110.3" y="409.0" width="749.9" height="258.4" fill="none" stroke="#000" stroke-width="2.2"/>
<line x1="152.0" y1="667.4" x2="152.0" y2="659.4" stroke="#000" stroke-width="2" />
<line x1="152.0" y1="409.0" x2="152.0" y2="417.0" stroke="#000" stroke-width="2" />
<line x1="193.6" y1="667.4" x2="193.6" y2="659.4" stroke="#000" stroke-width="2" />
<line x1="193.6" y1="409.0" x2="193.6" y2="417.0" stroke="#000" stroke-width="2" />
<line x1="235.3" y1="667.4" x2="235.3" y2="659.4" stroke="#000" stroke-width="2" />
<line x1="235.3" y1="409.0" x2="235.3" y2="417.0" stroke="#000" stroke-width="2" />
<line x1="276.9" y1="667.4" x2="276.9" y2="659.4" stroke="#000" stroke-width="2" />
<line x1="276.9" y1="409.0" x2="276.9" y2="417.0" stroke="#000" stroke-width="2" />
<line x1="318.6" y1="667.4" x2="318.6" y2="659.4" stroke="#000" stroke-width="2" />
<line x1="318.6" y1="409.0" x2="318.6" y2="417.0" stroke="#000" stroke-width="2" />
<line x1="360.3" y1="667.4" x2="360.3" y2="659.4" stroke="#000" stroke-width="2" />
<line x1="360.3" y1="409.0" x2="360.3" y2="417.0" stroke="#000" stroke-width="2" />
<line x1="401.9" y1="667.4" x2="401.9" y2="659.4" stroke="#000" stroke-width="2" />
<line x1="401.9" y1="409.0" x2="401.9" y2="417.0" stroke="#000" stroke-width="2" />
<line x1="443.6" y1="667.4" x2="443.6" y2="659.4" stroke="#000" stroke-width="2" />
<line x1="443.6" y1="409.0" x2="443.6" y2="417.0" stroke="#000" stroke-width="2" />
<line x1="485.2" y1="667.4" x2="485.2" y2="659.4" stroke="#000" stroke-width="2" />
<line x1="485.2" y1="409.0" x2="485.2" y2="417.0" stroke="#000" stroke-width="2" />
<line x1="526.9" y1="667.4" x2="526.9" y2="659.4" stroke="#000" stroke-width="2" />
<line x1="526.9" y1="409.0" x2="526.9" y2="417.0" stroke="#000" stroke-width="2" />
<line x1="568.6" y1="667.4" x2="568.6" y2="659.4" stroke="#000" stroke-width="2" />
<line x1="568.6" y1="409.0" x2="568.6" y2="417.0" stroke="#000" stroke-width="2" />
<line x1="610.2" y1="667.4" x2="610.2" y2="659.4" stroke="#000" stroke-width="2" />
<line x1="610.2" y1="409.0" x2="610.2" y2="417.0" stroke="#000" stroke-width="2" />
<line x1="651.9" y1="667.4" x2="651.9" y2="659.4" stroke="#000" stroke-width="2" />
<line x1="651.9" y1="409.0" x2="651.9" y2="417.0" stroke="#000" stroke-width="2" />
<line x1="693.5" y1="667.4" x2="693.5" y2="659.4" stroke="#000" stroke-width="2" />
<line x1="693.5" y1="409.0" x2="693.5" y2="417.0" stroke="#000" stroke-width="2" />
<line x1="735.2" y1="667.4" x2="735.2" y2="659.4" stroke="#000" stroke-width="2" />
<line x1="735.2" y1="409.0" x2="735.2" y2="417.0" stroke="#000" stroke-width="2" />
<line x1="776.9" y1="667.4" x2="776.9" y2="659.4" stroke="#000" stroke-width="2" />
<line x1="776.9" y1="409.0" x2="776.9" y2="417.0" stroke="#000" stroke-width="2" />
<line x1="818.5" y1="667.4" x2="818.5" y2="659.4" stroke="#000" stroke-width="2" />
<line x1="818.5" y1="409.0" x2="818.5" y2="417.0" stroke="#000" stroke-width="2" />
<text x="108.8" y="396.5" font-size="27.5" text-anchor="middle" fill="#000" >&#8211;10</text>
<text x="150.5" y="396.5" font-size="27.5" text-anchor="middle" fill="#000" >&#8211;9</text>
<text x="192.1" y="396.5" font-size="27.5" text-anchor="middle" fill="#000" >&#8211;8</text>
<text x="233.8" y="396.5" font-size="27.5" text-anchor="middle" fill="#000" >&#8211;7</text>
<text x="275.4" y="396.5" font-size="27.5" text-anchor="middle" fill="#000" >&#8211;6</text>
<text x="317.1" y="396.5" font-size="27.5" text-anchor="middle" fill="#000" >&#8211;5</text>
<text x="358.8" y="396.5" font-size="27.5" text-anchor="middle" fill="#000" >&#8211;4</text>
<text x="400.4" y="396.5" font-size="27.5" text-anchor="middle" fill="#000" >&#8211;3</text>
<text x="442.1" y="396.5" font-size="27.5" text-anchor="middle" fill="#000" >&#8211;2</text>
<text x="483.7" y="396.5" font-size="27.5" text-anchor="middle" fill="#000" >&#8211;1</text>
<text x="526.9" y="396.5" font-size="27.5" text-anchor="middle" fill="#000" >0</text>
<text x="568.6" y="396.5" font-size="27.5" text-anchor="middle" fill="#000" >1</text>
<text x="610.2" y="396.5" font-size="27.5" text-anchor="middle" fill="#000" >2</text>
<text x="651.9" y="396.5" font-size="27.5" text-anchor="middle" fill="#000" >3</text>
<text x="693.5" y="396.5" font-size="27.5" text-anchor="middle" fill="#000" >4</text>
<text x="735.2" y="396.5" font-size="27.5" text-anchor="middle" fill="#000" >5</text>
<text x="776.9" y="396.5" font-size="27.5" text-anchor="middle" fill="#000" >6</text>
<text x="818.5" y="396.5" font-size="27.5" text-anchor="middle" fill="#000" >7</text>
<text x="860.2" y="396.5" font-size="27.5" text-anchor="middle" fill="#000" >8</text>
<line x1="110.3" y1="429.6" x2="118.3" y2="429.6" stroke="#000" stroke-width="2" />
<line x1="860.2" y1="429.6" x2="852.2" y2="429.6" stroke="#000" stroke-width="2" />
<text x="100.0" y="436.9" font-size="27.5" text-anchor="end" fill="#000" >0.2</text>
<line x1="110.3" y1="473.1" x2="118.3" y2="473.1" stroke="#000" stroke-width="2" />
<line x1="860.2" y1="473.1" x2="852.2" y2="473.1" stroke="#000" stroke-width="2" />
<text x="100.0" y="481.4" font-size="27.5" text-anchor="end" fill="#000" >0.1</text>
<line x1="110.3" y1="516.6" x2="118.3" y2="516.6" stroke="#000" stroke-width="2" />
<line x1="860.2" y1="516.6" x2="852.2" y2="516.6" stroke="#000" stroke-width="2" />
<text x="100.0" y="525.9" font-size="27.5" text-anchor="end" fill="#000" >0.0</text>
<line x1="110.3" y1="560.1" x2="118.3" y2="560.1" stroke="#000" stroke-width="2" />
<line x1="860.2" y1="560.1" x2="852.2" y2="560.1" stroke="#000" stroke-width="2" />
<text x="100.0" y="569.6" font-size="27.5" text-anchor="end" fill="#000" >&#8211;0.1</text>
<line x1="110.3" y1="603.6" x2="118.3" y2="603.6" stroke="#000" stroke-width="2" />
<line x1="860.2" y1="603.6" x2="852.2" y2="603.6" stroke="#000" stroke-width="2" />
<text x="100.0" y="613.6" font-size="27.5" text-anchor="end" fill="#000" >&#8211;0.2</text>
<line x1="110.3" y1="647.1" x2="118.3" y2="647.1" stroke="#000" stroke-width="2" />
<line x1="860.2" y1="647.1" x2="852.2" y2="647.1" stroke="#000" stroke-width="2" />
<text x="100.0" y="658.0" font-size="27.5" text-anchor="end" fill="#000" >&#8211;0.3</text>
<line x1="110.3" y1="451.4" x2="115.3" y2="451.4" stroke="#000" stroke-width="2" />
<line x1="860.2" y1="451.4" x2="855.2" y2="451.4" stroke="#000" stroke-width="2" />
<line x1="110.3" y1="494.9" x2="115.3" y2="494.9" stroke="#000" stroke-width="2" />
<line x1="860.2" y1="494.9" x2="855.2" y2="494.9" stroke="#000" stroke-width="2" />
<line x1="110.3" y1="538.4" x2="115.3" y2="538.4" stroke="#000" stroke-width="2" />
<line x1="860.2" y1="538.4" x2="855.2" y2="538.4" stroke="#000" stroke-width="2" />
<line x1="110.3" y1="581.9" x2="115.3" y2="581.9" stroke="#000" stroke-width="2" />
<line x1="860.2" y1="581.9" x2="855.2" y2="581.9" stroke="#000" stroke-width="2" />
<line x1="110.3" y1="625.4" x2="115.3" y2="625.4" stroke="#000" stroke-width="2" />
<line x1="860.2" y1="625.4" x2="855.2" y2="625.4" stroke="#000" stroke-width="2" />
<text transform="translate(25.5,538) rotate(-90)" font-size="27.5" text-anchor="middle">Displacement (&#197;)</text>
<text x="774.0" y="499.0" font-size="27.5" text-anchor="start" fill="#000" >A-site</text>
<text x="774.0" y="655.0" font-size="27.5" text-anchor="start" fill="#000" >B-site</text>
<line x1="150.0" y1="587.3" x2="236.4" y2="587.3" stroke="#0000e6" stroke-width="2.6" />
<polygon points="182.2,577.3 191.7,587.3 182.2,597.3 172.7,587.3" fill="#0000e6" stroke="#0000e6" stroke-width="0.5"/>
<polygon points="204.3,577.8 213.3,587.3 204.3,596.8 195.3,587.3" fill="#fff" stroke="#0000e6" stroke-width="1.8"/>
<text x="243.7" y="592.5" font-size="27.5" text-anchor="start" fill="#000" >3 uc</text>
<line x1="150.0" y1="620.3" x2="236.4" y2="620.3" stroke="#22e022" stroke-width="2.6" />
<polygon points="182.2,610.6 191.7,626.8 172.7,626.8" fill="#22e022" stroke="#22e022" stroke-width="0.5"/>
<polygon points="204.3,611.6 212.8,626.1 195.8,626.1" fill="#fff" stroke="#22e022" stroke-width="1.8"/>
<text x="243.7" y="628.1" font-size="27.5" text-anchor="start" fill="#000" >4 uc</text>
<line x1="316.8" y1="587.3" x2="403.2" y2="587.3" stroke="#e8000b" stroke-width="2.6" />
<circle cx="348.9" cy="587.3" r="8.3" fill="#e8000b" stroke="#e8000b" stroke-width="0.5"/>
<circle cx="371.0" cy="587.3" r="8.3" fill="#fff" stroke="#e8000b" stroke-width="1.8"/>
<text x="409.5" y="596.4" font-size="27.5" text-anchor="start" fill="#000" >5 uc</text>
<line x1="316.8" y1="620.3" x2="403.2" y2="620.3" stroke="#000" stroke-width="2.6" />
<rect x="342.0" y="613.3" width="14" height="14" fill="#000" stroke="#000" stroke-width="0.5"/>
<rect x="364.2" y="613.5" width="13.5" height="13.5" fill="#fff" stroke="#000" stroke-width="1.8"/>
<text x="410.0" y="630.8" font-size="27.5" text-anchor="start" fill="#000" >10 uc</text>
<defs>
<filter id="bl5" x="-20%" y="-50%" width="140%" height="200%"><feGaussianBlur stdDeviation="5"/></filter>
<filter id="bl3" x="-20%" y="-50%" width="140%" height="200%"><feGaussianBlur stdDeviation="3"/></filter>
<filter id="bl25" x="-10%" y="-20%" width="120%" height="140%"><feGaussianBlur stdDeviation="2.6"/></filter>
<filter id="bl2" x="-10%" y="-20%" width="120%" height="140%"><feGaussianBlur stdDeviation="2"/></filter>
<filter id="bl1" x="-5%" y="-5%" width="110%" height="110%"><feGaussianBlur stdDeviation="1.2"/></filter>
</defs>
<clipPath id="clp1"><rect x="72.5" y="741.5" width="334.5" height="84.5"/></clipPath>
<g clip-path="url(#clp1)"><g filter="url(#bl25)">
<path fill="#000022" d="M408.5 737.5h4v4h-4zM408.5 741.5h4v4h-4zM408.5 745.5h4v4h-4zM408.5 749.5h4v4h-4zM408.5 753.5h4v4h-4zM408.5 757.5h4v4h-4zM404.5 761.5h8v4h-8zM404.5 765.5h8v4h-8zM404.5 769.5h8v4h-8zM404.5 773.5h8v4h-8zM404.5 777.5h8v4h-8zM400.5 781.5h12v4h-12zM400.5 785.5h12v4h-12zM400.5 789.5h12v4h-12zM400.5 793.5h12v4h-12zM400.5 797.5h12v4h-12zM400.5 801.5h12v4h-12zM396.5 805.5h16v4h-16zM396.5 809.5h16v4h-16zM396.5 813.5h16v4h-16zM396.5 817.5h16v4h-16zM396.5 821.5h16v4h-16zM392.5 825.5h20v4h-20zM392.5 829.5h20v4h-20z"/>
<path fill="#00002b" d="M404.5 757.5h4v4h-4zM396.5 801.5h4v4h-4z"/>
<path fill="#000034" d="M400.5 777.5h4v4h-4z"/>
<path fill="#00003e" d="M404.5 753.5h4v4h-4zM392.5 821.5h4v4h-4z"/>
<path fill="#000047" d="M396.5 797.5h4v4h-4z"/>
<path fill="#000050" d="M400.5 773.5h4v4h-4zM392.5 817.5h4v4h-4z"/>
<path fill="#000059" d="M404.5 749.5h4v4h-4zM396.5 793.5h4v4h-4z"/>
<path fill="#000063" d="M400.5 769.5h4v4h-4z"/>
<path fill="#00006c" d="M392.5 813.5h4v4h-4z"/>
<path fill="#000075" d="M404.5 745.5h4v4h-4zM396.5 789.5h4v4h-4z"/>
<path fill="#00007e" d="M400.5 765.5h4v4h-4zM392.5 809.5h4v4h-4z"/>
<path fill="#000088" d="M404.5 741.5h4v4h-4zM396.5 785.5h4v4h-4z"/>
<path fill="#000092" d="M400.5 761.5h4v4h-4zM388.5 829.5h4v4h-4z"/>
<path fill="#00009e" d="M404.5 737.5h4v4h-4zM392.5 805.5h4v4h-4z"/>
<path fill="#0000ab" d="M396.5 781.5h4v4h-4zM388.5 825.5h4v4h-4z"/>
<path fill="#0000b7" d="M400.5 757.5h4v4h-4zM392.5 801.5h4v4h-4z"/>
<path fill="#0000c3" d="M396.5 777.5h4v4h-4zM388.5 821.5h4v4h-4z"/>
<path fill="#0000cf" d="M400.5 753.5h4v4h-4zM392.5 797.5h4v4h-4z"/>
<path fill="#0000db" d="M396.5 773.5h4v4h-4z"/>
<path fill="#0000e7" d="M400.5 749.5h4v4h-4zM388.5 817.5h4v4h-4z"/>
<path fill="#0000f3" d="M400.5 745.5h4v4h-4zM396.5 769.5h4v4h-4zM392.5 789.5h4v4h-4zM392.5 793.5h4v4h-4zM388.5 813.5h4v4h-4z"/>
<path fill="#0000ff" d="M400.5 737.5h4v4h-4zM400.5 741.5h4v4h-4zM396.5 761.5h4v4h-4zM396.5 765.5h4v4h-4zM392.5 781.5h4v4h-4zM392.5 785.5h4v4h-4zM388.5 805.5h4v4h-4zM388.5 809.5h4v4h-4zM384.5 829.5h4v4h-4z"/>
<path fill="#0007f8" d="M396.5 757.5h4v4h-4zM392.5 777.5h4v4h-4zM388.5 801.5h4v4h-4zM384.5 821.5h4v4h-4zM384.5 825.5h4v4h-4z"/>
<path fill="#000ef2" d="M396.5 753.5h4v4h-4zM388.5 797.5h4v4h-4z"/>
<path fill="#001de5" d="M392.5 773.5h4v4h-4z"/>
<path fill="#0024de" d="M384.5 817.5h4v4h-4z"/>
<path fill="#002bd7" d="M396.5 749.5h4v4h-4zM88.5 821.5h4v4h-4z"/>
<path fill="#0032d1" d="M388.5 793.5h4v4h-4zM140.5 801.5h8v4h-8z"/>
<path fill="#0040be" d="M392.5 769.5h4v4h-4zM140.5 797.5h8v4h-8zM84.5 821.5h4v4h-4zM92.5 821.5h4v4h-4z"/>
<path fill="#0045b0" d="M140.5 805.5h4v4h-4zM384.5 813.5h4v4h-4z"/>
<path fill="#004ba2" d="M396.5 745.5h4v4h-4zM144.5 805.5h4v4h-4z"/>
<path fill="#005194" d="M388.5 789.5h4v4h-4z"/>
<path fill="#005c78" d="M392.5 765.5h4v4h-4zM136.5 801.5h4v4h-4zM148.5 801.5h4v4h-4z"/>
<path fill="#00616a" d="M140.5 793.5h8v4h-8zM136.5 797.5h4v4h-4zM148.5 797.5h4v4h-4zM384.5 809.5h4v4h-4zM88.5 817.5h4v4h-4zM80.5 821.5h4v4h-4z"/>
<path fill="#00685e" d="M136.5 805.5h4v4h-4zM148.5 805.5h4v4h-4zM140.5 809.5h8v4h-8zM96.5 821.5h4v4h-4zM88.5 825.5h4v4h-4z"/>
<path fill="#006f52" d="M396.5 741.5h4v4h-4zM388.5 785.5h4v4h-4zM84.5 817.5h4v4h-4zM92.5 817.5h4v4h-4zM84.5 825.5h4v4h-4zM92.5 825.5h4v4h-4z"/>
<path fill="#007646" d="M136.5 793.5h4v4h-4zM148.5 793.5h4v4h-4zM380.5 829.5h4v4h-4z"/>
<path fill="#007d3a" d="M140.5 789.5h8v4h-8zM132.5 801.5h4v4h-4zM152.5 801.5h4v4h-4zM136.5 809.5h4v4h-4zM148.5 809.5h4v4h-4zM80.5 825.5h4v4h-4zM96.5 825.5h4v4h-4z"/>
<path fill="#00852d" d="M392.5 761.5h4v4h-4zM136.5 789.5h4v4h-4zM148.5 789.5h4v4h-4zM132.5 793.5h4v4h-4zM152.5 793.5h4v4h-4zM132.5 797.5h4v4h-4zM152.5 797.5h4v4h-4zM132.5 805.5h4v4h-4zM152.5 805.5h4v4h-4zM140.5 813.5h8v4h-8zM76.5 821.5h4v4h-4z"/>
<path fill="#008c21" d="M88.5 737.5h16v4h-16zM92.5 741.5h8v4h-8zM160.5 741.5h4v4h-4zM92.5 745.5h4v4h-4zM156.5 745.5h8v4h-8zM156.5 749.5h8v4h-8zM152.5 753.5h12v4h-12zM68.5 757.5h16v4h-16zM148.5 757.5h16v4h-16zM68.5 761.5h16v4h-16zM148.5 761.5h16v4h-16zM68.5 765.5h12v4h-12zM144.5 765.5h20v4h-20zM68.5 769.5h8v4h-8zM144.5 769.5h20v4h-20zM68.5 773.5h4v4h-4zM140.5 773.5h24v4h-24zM136.5 777.5h28v4h-28zM132.5 781.5h32v4h-32zM132.5 785.5h32v4h-32zM128.5 789.5h8v4h-8zM152.5 789.5h12v4h-12zM128.5 793.5h4v4h-4zM156.5 793.5h8v4h-8zM128.5 797.5h4v4h-4zM156.5 797.5h4v4h-4zM128.5 801.5h4v4h-4zM156.5 801.5h4v4h-4zM124.5 805.5h8v4h-8zM384.5 805.5h4v4h-4zM128.5 809.5h8v4h-8zM152.5 809.5h4v4h-4zM136.5 813.5h4v4h-4zM148.5 813.5h4v4h-4zM80.5 817.5h4v4h-4zM96.5 817.5h4v4h-4zM144.5 817.5h4v4h-4zM76.5 825.5h4v4h-4zM144.5 825.5h4v4h-4zM80.5 829.5h20v4h-20zM136.5 829.5h20v4h-20z"/>
<path fill="#009315" d="M84.5 737.5h4v4h-4zM104.5 737.5h8v4h-8zM152.5 737.5h24v4h-24zM288.5 737.5h12v4h-12zM396.5 737.5h4v4h-4zM88.5 741.5h4v4h-4zM100.5 741.5h8v4h-8zM148.5 741.5h12v4h-12zM164.5 741.5h12v4h-12zM292.5 741.5h8v4h-8zM88.5 745.5h4v4h-4zM96.5 745.5h8v4h-8zM148.5 745.5h8v4h-8zM164.5 745.5h12v4h-12zM296.5 745.5h4v4h-4zM84.5 749.5h16v4h-16zM148.5 749.5h8v4h-8zM164.5 749.5h12v4h-12zM68.5 753.5h4v4h-4zM80.5 753.5h16v4h-16zM144.5 753.5h8v4h-8zM164.5 753.5h8v4h-8zM84.5 757.5h8v4h-8zM144.5 757.5h4v4h-4zM164.5 757.5h8v4h-8zM84.5 761.5h8v4h-8zM140.5 761.5h8v4h-8zM164.5 761.5h8v4h-8zM80.5 765.5h8v4h-8zM136.5 765.5h8v4h-8zM164.5 765.5h8v4h-8zM296.5 765.5h4v4h-4zM76.5 769.5h8v4h-8zM136.5 769.5h8v4h-8zM164.5 769.5h8v4h-8zM292.5 769.5h8v4h-8zM72.5 773.5h8v4h-8zM132.5 773.5h8v4h-8zM164.5 773.5h8v4h-8zM288.5 773.5h12v4h-12zM68.5 777.5h8v4h-8zM128.5 777.5h8v4h-8zM164.5 777.5h8v4h-8zM288.5 777.5h12v4h-12zM128.5 781.5h4v4h-4zM164.5 781.5h8v4h-8zM284.5 781.5h16v4h-16zM124.5 785.5h8v4h-8zM164.5 785.5h8v4h-8zM288.5 785.5h12v4h-12zM124.5 789.5h4v4h-4zM164.5 789.5h8v4h-8zM288.5 789.5h12v4h-12zM124.5 793.5h4v4h-4zM164.5 793.5h8v4h-8zM292.5 793.5h8v4h-8zM120.5 797.5h8v4h-8zM160.5 797.5h12v4h-12zM292.5 797.5h8v4h-8zM120.5 801.5h8v4h-8zM160.5 801.5h8v4h-8zM116.5 805.5h8v4h-8zM156.5 805.5h4v4h-4zM116.5 809.5h12v4h-12zM132.5 813.5h4v4h-4zM140.5 817.5h4v4h-4zM148.5 817.5h4v4h-4zM296.5 817.5h4v4h-4zM72.5 821.5h4v4h-4zM140.5 821.5h16v4h-16zM292.5 821.5h8v4h-8zM68.5 825.5h8v4h-8zM100.5 825.5h4v4h-4zM136.5 825.5h8v4h-8zM148.5 825.5h12v4h-12zM288.5 825.5h12v4h-12zM68.5 829.5h12v4h-12zM100.5 829.5h36v4h-36zM156.5 829.5h12v4h-12zM236.5 829.5h4v4h-4zM280.5 829.5h24v4h-24z"/>
<path fill="#009a09" d="M148.5 737.5h4v4h-4zM176.5 737.5h4v4h-4zM284.5 737.5h4v4h-4zM300.5 737.5h4v4h-4zM176.5 741.5h4v4h-4zM288.5 741.5h4v4h-4zM300.5 741.5h4v4h-4zM144.5 745.5h4v4h-4zM292.5 745.5h4v4h-4zM300.5 745.5h4v4h-4zM144.5 749.5h4v4h-4zM296.5 749.5h4v4h-4zM72.5 753.5h8v4h-8zM96.5 753.5h4v4h-4zM172.5 753.5h4v4h-4zM296.5 753.5h4v4h-4zM392.5 753.5h4v4h-4zM92.5 757.5h4v4h-4zM140.5 757.5h4v4h-4zM172.5 757.5h4v4h-4zM296.5 757.5h4v4h-4zM392.5 757.5h4v4h-4zM136.5 761.5h4v4h-4zM172.5 761.5h4v4h-4zM292.5 761.5h8v4h-8zM172.5 765.5h4v4h-4zM292.5 765.5h4v4h-4zM84.5 769.5h4v4h-4zM132.5 769.5h4v4h-4zM172.5 769.5h4v4h-4zM288.5 769.5h4v4h-4zM300.5 769.5h4v4h-4zM80.5 773.5h4v4h-4zM172.5 773.5h4v4h-4zM284.5 773.5h4v4h-4zM300.5 773.5h4v4h-4zM76.5 777.5h4v4h-4zM172.5 777.5h4v4h-4zM284.5 777.5h4v4h-4zM300.5 777.5h4v4h-4zM388.5 777.5h4v4h-4zM68.5 781.5h4v4h-4zM124.5 781.5h4v4h-4zM172.5 781.5h4v4h-4zM300.5 781.5h4v4h-4zM388.5 781.5h4v4h-4zM172.5 785.5h4v4h-4zM284.5 785.5h4v4h-4zM300.5 785.5h4v4h-4zM120.5 789.5h4v4h-4zM172.5 789.5h4v4h-4zM284.5 789.5h4v4h-4zM300.5 789.5h4v4h-4zM120.5 793.5h4v4h-4zM172.5 793.5h4v4h-4zM288.5 793.5h4v4h-4zM300.5 793.5h4v4h-4zM172.5 797.5h4v4h-4zM288.5 797.5h4v4h-4zM300.5 797.5h4v4h-4zM116.5 801.5h4v4h-4zM168.5 801.5h4v4h-4zM292.5 801.5h8v4h-8zM384.5 801.5h4v4h-4zM112.5 805.5h4v4h-4zM160.5 805.5h4v4h-4zM292.5 805.5h8v4h-8zM108.5 809.5h8v4h-8zM292.5 809.5h8v4h-8zM152.5 813.5h4v4h-4zM292.5 813.5h12v4h-12zM68.5 817.5h4v4h-4zM76.5 817.5h4v4h-4zM136.5 817.5h4v4h-4zM152.5 817.5h4v4h-4zM292.5 817.5h4v4h-4zM300.5 817.5h4v4h-4zM68.5 821.5h4v4h-4zM136.5 821.5h4v4h-4zM288.5 821.5h4v4h-4zM300.5 821.5h4v4h-4zM380.5 821.5h4v4h-4zM132.5 825.5h4v4h-4zM232.5 825.5h8v4h-8zM284.5 825.5h4v4h-4zM300.5 825.5h4v4h-4zM380.5 825.5h4v4h-4zM168.5 829.5h4v4h-4zM228.5 829.5h8v4h-8zM240.5 829.5h12v4h-12zM276.5 829.5h4v4h-4z"/>
<path fill="#039e00" d="M112.5 737.5h4v4h-4zM336.5 737.5h4v4h-4zM84.5 741.5h4v4h-4zM108.5 741.5h4v4h-4zM144.5 741.5h4v4h-4zM84.5 745.5h4v4h-4zM104.5 745.5h4v4h-4zM176.5 745.5h4v4h-4zM100.5 749.5h4v4h-4zM176.5 749.5h4v4h-4zM292.5 749.5h4v4h-4zM300.5 749.5h4v4h-4zM392.5 749.5h4v4h-4zM140.5 753.5h4v4h-4zM176.5 753.5h4v4h-4zM292.5 753.5h4v4h-4zM300.5 753.5h4v4h-4zM292.5 757.5h4v4h-4zM300.5 757.5h4v4h-4zM300.5 761.5h4v4h-4zM88.5 765.5h4v4h-4zM288.5 765.5h4v4h-4zM300.5 765.5h4v4h-4zM284.5 769.5h4v4h-4zM336.5 769.5h4v4h-4zM388.5 769.5h4v4h-4zM128.5 773.5h4v4h-4zM336.5 773.5h4v4h-4zM388.5 773.5h4v4h-4zM280.5 777.5h4v4h-4zM336.5 777.5h4v4h-4zM72.5 781.5h4v4h-4zM280.5 781.5h4v4h-4zM336.5 781.5h4v4h-4zM120.5 785.5h4v4h-4zM336.5 785.5h4v4h-4zM336.5 789.5h4v4h-4zM284.5 793.5h4v4h-4zM384.5 793.5h4v4h-4zM116.5 797.5h4v4h-4zM384.5 797.5h4v4h-4zM288.5 801.5h4v4h-4zM300.5 801.5h4v4h-4zM108.5 805.5h4v4h-4zM300.5 805.5h4v4h-4zM104.5 809.5h4v4h-4zM156.5 809.5h4v4h-4zM300.5 809.5h4v4h-4zM128.5 813.5h4v4h-4zM380.5 813.5h4v4h-4zM72.5 817.5h4v4h-4zM288.5 817.5h4v4h-4zM380.5 817.5h4v4h-4zM156.5 821.5h4v4h-4zM160.5 825.5h4v4h-4zM228.5 825.5h4v4h-4zM240.5 825.5h4v4h-4zM280.5 825.5h4v4h-4zM172.5 829.5h4v4h-4zM224.5 829.5h4v4h-4zM252.5 829.5h4v4h-4zM272.5 829.5h4v4h-4z"/>
<path fill="#129600" d="M80.5 737.5h4v4h-4zM144.5 737.5h4v4h-4zM180.5 737.5h4v4h-4zM280.5 737.5h4v4h-4zM288.5 745.5h4v4h-4zM392.5 745.5h4v4h-4zM140.5 749.5h4v4h-4zM136.5 757.5h4v4h-4zM176.5 757.5h4v4h-4zM92.5 761.5h4v4h-4zM176.5 761.5h4v4h-4zM288.5 761.5h4v4h-4zM132.5 765.5h4v4h-4zM336.5 765.5h4v4h-4zM388.5 765.5h4v4h-4zM280.5 773.5h4v4h-4zM124.5 777.5h4v4h-4zM280.5 785.5h4v4h-4zM280.5 789.5h4v4h-4zM384.5 789.5h4v4h-4zM116.5 793.5h4v4h-4zM112.5 801.5h4v4h-4zM172.5 801.5h4v4h-4zM164.5 805.5h4v4h-4zM68.5 813.5h4v4h-4zM92.5 813.5h12v4h-12zM288.5 813.5h4v4h-4zM228.5 821.5h12v4h-12zM284.5 821.5h4v4h-4zM128.5 825.5h4v4h-4zM224.5 825.5h4v4h-4zM244.5 825.5h4v4h-4zM176.5 829.5h4v4h-4zM256.5 829.5h4v4h-4zM268.5 829.5h4v4h-4z"/>
<path fill="#208d00" d="M68.5 737.5h4v4h-4zM304.5 737.5h4v4h-4zM180.5 741.5h4v4h-4zM284.5 741.5h4v4h-4zM288.5 749.5h4v4h-4zM96.5 757.5h4v4h-4zM336.5 761.5h4v4h-4zM176.5 765.5h4v4h-4zM176.5 769.5h4v4h-4zM84.5 773.5h4v4h-4zM176.5 773.5h4v4h-4zM80.5 777.5h4v4h-4zM176.5 777.5h4v4h-4zM176.5 781.5h4v4h-4zM176.5 785.5h4v4h-4zM176.5 789.5h4v4h-4zM176.5 793.5h4v4h-4zM232.5 797.5h4v4h-4zM284.5 797.5h4v4h-4zM288.5 805.5h4v4h-4zM100.5 809.5h4v4h-4zM288.5 809.5h4v4h-4zM380.5 809.5h4v4h-4zM88.5 813.5h4v4h-4zM104.5 813.5h4v4h-4zM124.5 813.5h4v4h-4zM156.5 813.5h4v4h-4zM132.5 817.5h4v4h-4zM228.5 817.5h4v4h-4zM100.5 821.5h4v4h-4zM224.5 821.5h4v4h-4zM104.5 825.5h4v4h-4zM164.5 825.5h4v4h-4zM304.5 825.5h4v4h-4zM260.5 829.5h8v4h-8zM304.5 829.5h4v4h-4z"/>
<path fill="#2f8500" d="M224.5 737.5h8v4h-8zM332.5 737.5h4v4h-4zM340.5 737.5h4v4h-4zM304.5 741.5h4v4h-4zM336.5 741.5h4v4h-4zM392.5 741.5h4v4h-4zM140.5 745.5h4v4h-4zM180.5 745.5h4v4h-4zM80.5 749.5h4v4h-4zM100.5 753.5h4v4h-4zM288.5 753.5h4v4h-4zM288.5 757.5h4v4h-4zM284.5 765.5h4v4h-4zM128.5 769.5h4v4h-4zM280.5 769.5h4v4h-4zM340.5 769.5h4v4h-4zM332.5 773.5h4v4h-4zM276.5 777.5h4v4h-4zM332.5 777.5h4v4h-4zM120.5 781.5h4v4h-4zM332.5 781.5h4v4h-4zM68.5 785.5h4v4h-4zM116.5 789.5h4v4h-4zM176.5 797.5h4v4h-4zM232.5 801.5h4v4h-4zM68.5 809.5h4v4h-4zM72.5 813.5h4v4h-4zM100.5 817.5h4v4h-4zM156.5 817.5h4v4h-4zM232.5 817.5h4v4h-4zM132.5 821.5h4v4h-4zM240.5 821.5h4v4h-4zM304.5 821.5h4v4h-4zM276.5 825.5h4v4h-4zM220.5 829.5h4v4h-4z"/>
<path fill="#3e7d00" d="M116.5 737.5h4v4h-4zM232.5 737.5h8v4h-8zM276.5 737.5h4v4h-4zM112.5 741.5h4v4h-4zM304.5 745.5h4v4h-4zM104.5 749.5h4v4h-4zM180.5 749.5h4v4h-4zM304.5 749.5h4v4h-4zM332.5 765.5h4v4h-4zM340.5 765.5h4v4h-4zM88.5 769.5h4v4h-4zM332.5 769.5h4v4h-4zM276.5 773.5h4v4h-4zM276.5 781.5h4v4h-4zM332.5 785.5h4v4h-4zM384.5 785.5h4v4h-4zM332.5 789.5h4v4h-4zM280.5 793.5h4v4h-4zM236.5 797.5h4v4h-4zM176.5 801.5h4v4h-4zM104.5 805.5h4v4h-4zM168.5 805.5h4v4h-4zM160.5 809.5h4v4h-4zM84.5 813.5h4v4h-4zM108.5 813.5h4v4h-4zM120.5 813.5h4v4h-4zM228.5 813.5h4v4h-4zM224.5 817.5h4v4h-4zM284.5 817.5h4v4h-4zM304.5 817.5h4v4h-4zM220.5 825.5h4v4h-4zM248.5 825.5h4v4h-4zM180.5 829.5h4v4h-4z"/>
<path fill="#4b7600" d="M220.5 737.5h4v4h-4zM240.5 737.5h8v4h-8zM140.5 741.5h4v4h-4zM108.5 745.5h4v4h-4zM136.5 753.5h4v4h-4zM180.5 753.5h4v4h-4zM304.5 753.5h4v4h-4zM304.5 757.5h4v4h-4zM336.5 757.5h4v4h-4zM132.5 761.5h4v4h-4zM76.5 781.5h4v4h-4zM276.5 785.5h4v4h-4zM232.5 793.5h4v4h-4zM336.5 793.5h4v4h-4zM112.5 797.5h4v4h-4zM228.5 797.5h4v4h-4zM228.5 801.5h4v4h-4zM236.5 801.5h4v4h-4zM284.5 801.5h4v4h-4zM96.5 809.5h4v4h-4zM304.5 809.5h4v4h-4zM76.5 813.5h8v4h-8zM112.5 813.5h8v4h-8zM232.5 813.5h4v4h-4zM304.5 813.5h4v4h-4zM236.5 817.5h4v4h-4zM280.5 821.5h4v4h-4zM124.5 825.5h4v4h-4z"/>
<path fill="#557100" d="M140.5 737.5h4v4h-4zM184.5 737.5h4v4h-4zM248.5 737.5h4v4h-4zM224.5 741.5h8v4h-8zM280.5 741.5h4v4h-4zM332.5 741.5h4v4h-4zM284.5 745.5h4v4h-4zM68.5 749.5h4v4h-4zM180.5 757.5h4v4h-4zM304.5 761.5h4v4h-4zM332.5 761.5h4v4h-4zM304.5 765.5h4v4h-4zM304.5 769.5h4v4h-4zM124.5 773.5h4v4h-4zM304.5 773.5h4v4h-4zM340.5 773.5h4v4h-4zM304.5 777.5h4v4h-4zM304.5 781.5h4v4h-4zM304.5 785.5h4v4h-4zM276.5 789.5h4v4h-4zM304.5 789.5h4v4h-4zM236.5 793.5h4v4h-4zM304.5 793.5h4v4h-4zM332.5 793.5h4v4h-4zM304.5 797.5h4v4h-4zM304.5 801.5h4v4h-4zM228.5 805.5h8v4h-8zM304.5 805.5h4v4h-4zM228.5 809.5h4v4h-4zM224.5 813.5h4v4h-4zM160.5 821.5h4v4h-4zM220.5 821.5h4v4h-4zM108.5 825.5h4v4h-4zM168.5 825.5h4v4h-4zM376.5 829.5h4v4h-4z"/>
<path fill="#5f6c00" d="M272.5 737.5h4v4h-4zM232.5 741.5h4v4h-4zM340.5 741.5h4v4h-4zM336.5 745.5h4v4h-4zM180.5 761.5h4v4h-4zM284.5 761.5h4v4h-4zM340.5 761.5h4v4h-4zM388.5 761.5h4v4h-4zM92.5 765.5h4v4h-4zM340.5 777.5h4v4h-4zM116.5 785.5h4v4h-4zM228.5 793.5h4v4h-4zM336.5 797.5h4v4h-4zM108.5 801.5h4v4h-4zM172.5 805.5h4v4h-4zM224.5 809.5h4v4h-4zM232.5 809.5h4v4h-4zM244.5 821.5h4v4h-4zM252.5 825.5h4v4h-4zM272.5 825.5h4v4h-4zM216.5 829.5h4v4h-4z"/>
<path fill="#696700" d="M76.5 737.5h4v4h-4zM252.5 737.5h4v4h-4zM184.5 741.5h4v4h-4zM220.5 741.5h4v4h-4zM224.5 745.5h4v4h-4zM136.5 749.5h4v4h-4zM180.5 765.5h4v4h-4zM280.5 797.5h4v4h-4zM68.5 805.5h4v4h-4zM284.5 805.5h4v4h-4zM380.5 805.5h4v4h-4zM72.5 809.5h4v4h-4zM236.5 813.5h4v4h-4zM284.5 813.5h4v4h-4zM220.5 817.5h4v4h-4zM172.5 825.5h4v4h-4zM184.5 829.5h4v4h-4z"/>
<path fill="#736200" d="M216.5 737.5h4v4h-4zM236.5 741.5h4v4h-4zM228.5 745.5h4v4h-4zM336.5 753.5h4v4h-4zM332.5 757.5h4v4h-4zM96.5 761.5h4v4h-4zM128.5 765.5h4v4h-4zM280.5 765.5h4v4h-4zM180.5 769.5h4v4h-4zM276.5 769.5h4v4h-4zM180.5 773.5h4v4h-4zM120.5 777.5h4v4h-4zM272.5 777.5h4v4h-4zM340.5 781.5h4v4h-4zM180.5 793.5h4v4h-4zM180.5 797.5h4v4h-4zM224.5 801.5h4v4h-4zM224.5 805.5h4v4h-4zM236.5 805.5h4v4h-4zM284.5 809.5h4v4h-4zM240.5 817.5h4v4h-4zM120.5 825.5h4v4h-4zM176.5 825.5h4v4h-4z"/>
<path fill="#7d5d00" d="M72.5 737.5h4v4h-4zM120.5 737.5h4v4h-4zM256.5 737.5h4v4h-4zM392.5 737.5h4v4h-4zM240.5 741.5h4v4h-4zM184.5 745.5h4v4h-4zM220.5 745.5h4v4h-4zM332.5 745.5h4v4h-4zM224.5 749.5h4v4h-4zM284.5 749.5h4v4h-4zM336.5 749.5h4v4h-4zM132.5 757.5h4v4h-4zM272.5 773.5h4v4h-4zM180.5 777.5h4v4h-4zM180.5 781.5h4v4h-4zM272.5 781.5h4v4h-4zM72.5 785.5h4v4h-4zM180.5 785.5h4v4h-4zM340.5 785.5h4v4h-4zM180.5 789.5h4v4h-4zM232.5 789.5h4v4h-4zM112.5 793.5h4v4h-4zM276.5 793.5h4v4h-4zM224.5 797.5h4v4h-4zM240.5 797.5h4v4h-4zM332.5 797.5h4v4h-4zM92.5 809.5h4v4h-4zM220.5 813.5h4v4h-4zM128.5 817.5h4v4h-4zM112.5 825.5h4v4h-4zM216.5 825.5h4v4h-4zM256.5 825.5h4v4h-4zM268.5 825.5h4v4h-4zM332.5 829.5h4v4h-4z"/>
<path fill="#875700" d="M268.5 737.5h4v4h-4zM232.5 745.5h4v4h-4zM184.5 749.5h4v4h-4zM228.5 749.5h4v4h-4zM284.5 757.5h4v4h-4zM340.5 757.5h4v4h-4zM84.5 777.5h4v4h-4zM384.5 781.5h4v4h-4zM228.5 789.5h4v4h-4zM236.5 789.5h4v4h-4zM240.5 793.5h4v4h-4zM180.5 801.5h4v4h-4zM176.5 805.5h4v4h-4zM236.5 809.5h4v4h-4zM116.5 825.5h4v4h-4zM180.5 825.5h4v4h-4z"/>
<path fill="#905000" d="M188.5 737.5h4v4h-4zM260.5 737.5h8v4h-8zM328.5 737.5h4v4h-4zM216.5 741.5h4v4h-4zM244.5 741.5h4v4h-4zM136.5 745.5h4v4h-4zM340.5 745.5h4v4h-4zM220.5 749.5h4v4h-4zM332.5 749.5h4v4h-4zM224.5 753.5h4v4h-4zM284.5 753.5h4v4h-4zM332.5 753.5h4v4h-4zM100.5 757.5h4v4h-4zM88.5 773.5h4v4h-4zM272.5 785.5h4v4h-4zM240.5 789.5h4v4h-4zM340.5 789.5h4v4h-4zM224.5 793.5h4v4h-4zM100.5 805.5h4v4h-4zM164.5 809.5h4v4h-4zM220.5 809.5h4v4h-4zM160.5 813.5h4v4h-4zM280.5 817.5h4v4h-4zM128.5 821.5h4v4h-4zM216.5 821.5h4v4h-4zM276.5 821.5h4v4h-4zM332.5 825.5h4v4h-4zM376.5 825.5h4v4h-4zM308.5 829.5h4v4h-4z"/>
<path fill="#9a4a00" d="M136.5 737.5h4v4h-4zM308.5 737.5h4v4h-4zM116.5 741.5h4v4h-4zM136.5 741.5h4v4h-4zM276.5 741.5h4v4h-4zM104.5 753.5h4v4h-4zM184.5 753.5h4v4h-4zM388.5 757.5h4v4h-4zM116.5 781.5h4v4h-4zM228.5 785.5h8v4h-8zM68.5 789.5h4v4h-4zM272.5 789.5h4v4h-4zM240.5 801.5h4v4h-4zM380.5 801.5h4v4h-4zM104.5 817.5h4v4h-4zM160.5 817.5h4v4h-4zM248.5 821.5h4v4h-4zM184.5 825.5h4v4h-4zM260.5 825.5h8v4h-8zM188.5 829.5h4v4h-4zM212.5 829.5h4v4h-4zM328.5 829.5h4v4h-4z"/>
<path fill="#a34400" d="M212.5 737.5h4v4h-4zM80.5 741.5h4v4h-4zM308.5 741.5h4v4h-4zM112.5 745.5h4v4h-4zM216.5 745.5h4v4h-4zM236.5 745.5h4v4h-4zM280.5 745.5h4v4h-4zM108.5 749.5h4v4h-4zM232.5 749.5h4v4h-4zM220.5 753.5h4v4h-4zM228.5 753.5h4v4h-4zM340.5 753.5h4v4h-4zM224.5 757.5h4v4h-4zM124.5 769.5h4v4h-4zM248.5 773.5h4v4h-4zM268.5 773.5h4v4h-4zM244.5 777.5h8v4h-8zM268.5 777.5h4v4h-4zM80.5 781.5h4v4h-4zM228.5 781.5h4v4h-4zM244.5 781.5h4v4h-4zM236.5 785.5h12v4h-12zM224.5 789.5h4v4h-4zM244.5 789.5h4v4h-4zM244.5 793.5h4v4h-4zM340.5 793.5h4v4h-4zM280.5 801.5h4v4h-4zM220.5 805.5h4v4h-4zM76.5 809.5h4v4h-4zM240.5 813.5h4v4h-4zM216.5 817.5h4v4h-4zM104.5 821.5h4v4h-4zM164.5 821.5h4v4h-4zM308.5 825.5h4v4h-4z"/>
<path fill="#ad3d00" d="M344.5 737.5h4v4h-4zM188.5 741.5h4v4h-4zM248.5 741.5h4v4h-4zM328.5 741.5h4v4h-4zM76.5 749.5h4v4h-4zM340.5 749.5h4v4h-4zM132.5 753.5h4v4h-4zM184.5 757.5h4v4h-4zM228.5 757.5h4v4h-4zM224.5 761.5h4v4h-4zM92.5 769.5h4v4h-4zM272.5 769.5h4v4h-4zM244.5 773.5h4v4h-4zM252.5 773.5h4v4h-4zM228.5 777.5h4v4h-4zM240.5 777.5h4v4h-4zM252.5 777.5h4v4h-4zM384.5 777.5h4v4h-4zM224.5 781.5h4v4h-4zM232.5 781.5h12v4h-12zM248.5 781.5h4v4h-4zM224.5 785.5h4v4h-4zM248.5 785.5h4v4h-4zM112.5 789.5h4v4h-4zM340.5 797.5h4v4h-4zM220.5 801.5h4v4h-4zM180.5 805.5h4v4h-4zM88.5 809.5h4v4h-4zM244.5 817.5h4v4h-4zM308.5 821.5h4v4h-4z"/>
<path fill="#b63700" d="M240.5 745.5h4v4h-4zM308.5 745.5h4v4h-4zM216.5 749.5h4v4h-4zM220.5 757.5h4v4h-4zM128.5 761.5h4v4h-4zM184.5 761.5h4v4h-4zM228.5 761.5h4v4h-4zM280.5 761.5h4v4h-4zM224.5 765.5h8v4h-8zM224.5 769.5h8v4h-8zM224.5 773.5h12v4h-12zM240.5 773.5h4v4h-4zM256.5 773.5h4v4h-4zM224.5 777.5h4v4h-4zM232.5 777.5h8v4h-8zM268.5 781.5h4v4h-4zM248.5 789.5h4v4h-4zM108.5 797.5h4v4h-4zM220.5 797.5h4v4h-4zM276.5 797.5h4v4h-4zM68.5 801.5h4v4h-4zM240.5 805.5h4v4h-4zM240.5 809.5h4v4h-4zM216.5 813.5h4v4h-4zM376.5 821.5h4v4h-4zM212.5 825.5h4v4h-4z"/>
<path fill="#c03100" d="M192.5 737.5h4v4h-4zM212.5 741.5h4v4h-4zM80.5 745.5h4v4h-4zM188.5 745.5h4v4h-4zM72.5 749.5h4v4h-4zM236.5 749.5h4v4h-4zM308.5 749.5h4v4h-4zM232.5 753.5h4v4h-4zM388.5 753.5h4v4h-4zM220.5 761.5h4v4h-4zM184.5 765.5h4v4h-4zM276.5 765.5h4v4h-4zM328.5 765.5h4v4h-4zM232.5 769.5h4v4h-4zM244.5 769.5h8v4h-8zM328.5 769.5h4v4h-4zM236.5 773.5h4v4h-4zM260.5 773.5h8v4h-8zM328.5 773.5h4v4h-4zM256.5 777.5h4v4h-4zM264.5 777.5h4v4h-4zM328.5 777.5h4v4h-4zM252.5 781.5h4v4h-4zM328.5 781.5h4v4h-4zM252.5 785.5h4v4h-4zM268.5 785.5h4v4h-4zM328.5 785.5h4v4h-4zM220.5 793.5h4v4h-4zM248.5 793.5h4v4h-4zM272.5 793.5h4v4h-4zM244.5 797.5h4v4h-4zM104.5 801.5h4v4h-4zM332.5 801.5h8v4h-8zM72.5 805.5h4v4h-4zM80.5 809.5h8v4h-8zM168.5 809.5h4v4h-4zM280.5 813.5h4v4h-4zM308.5 817.5h4v4h-4zM188.5 825.5h4v4h-4zM192.5 829.5h4v4h-4z"/>
<path fill="#c92a00" d="M252.5 741.5h4v4h-4zM328.5 745.5h4v4h-4zM216.5 753.5h4v4h-4zM308.5 753.5h4v4h-4zM232.5 757.5h4v4h-4zM232.5 761.5h4v4h-4zM328.5 761.5h4v4h-4zM96.5 765.5h4v4h-4zM232.5 765.5h4v4h-4zM184.5 769.5h4v4h-4zM236.5 769.5h8v4h-8zM252.5 769.5h4v4h-4zM120.5 773.5h4v4h-4zM260.5 777.5h4v4h-4zM220.5 785.5h4v4h-4zM220.5 789.5h4v4h-4zM252.5 789.5h4v4h-4zM268.5 789.5h4v4h-4zM328.5 789.5h4v4h-4zM184.5 793.5h4v4h-4zM184.5 797.5h4v4h-4zM380.5 797.5h4v4h-4zM184.5 801.5h4v4h-4zM280.5 805.5h4v4h-4zM216.5 809.5h4v4h-4zM308.5 809.5h4v4h-4zM308.5 813.5h4v4h-4zM212.5 821.5h4v4h-4zM252.5 821.5h4v4h-4zM272.5 821.5h4v4h-4zM328.5 825.5h4v4h-4zM336.5 825.5h4v4h-4zM208.5 829.5h4v4h-4z"/>
<path fill="#d22300" d="M124.5 737.5h4v4h-4zM132.5 737.5h4v4h-4zM208.5 737.5h4v4h-4zM68.5 741.5h4v4h-4zM192.5 741.5h4v4h-4zM272.5 741.5h4v4h-4zM344.5 741.5h4v4h-4zM212.5 745.5h4v4h-4zM244.5 745.5h4v4h-4zM132.5 749.5h4v4h-4zM188.5 749.5h4v4h-4zM280.5 749.5h4v4h-4zM328.5 749.5h4v4h-4zM236.5 753.5h4v4h-4zM328.5 753.5h4v4h-4zM308.5 757.5h4v4h-4zM328.5 757.5h4v4h-4zM308.5 761.5h4v4h-4zM220.5 765.5h4v4h-4zM236.5 765.5h4v4h-4zM308.5 765.5h4v4h-4zM220.5 769.5h4v4h-4zM256.5 769.5h4v4h-4zM268.5 769.5h4v4h-4zM344.5 769.5h4v4h-4zM184.5 773.5h4v4h-4zM344.5 773.5h4v4h-4zM384.5 773.5h4v4h-4zM184.5 777.5h4v4h-4zM220.5 777.5h4v4h-4zM184.5 781.5h4v4h-4zM220.5 781.5h4v4h-4zM256.5 781.5h4v4h-4zM264.5 781.5h4v4h-4zM76.5 785.5h4v4h-4zM112.5 785.5h4v4h-4zM184.5 785.5h4v4h-4zM256.5 785.5h4v4h-4zM184.5 789.5h4v4h-4zM68.5 793.5h4v4h-4zM328.5 793.5h4v4h-4zM244.5 801.5h4v4h-4zM96.5 805.5h4v4h-4zM216.5 805.5h4v4h-4zM308.5 805.5h4v4h-4zM280.5 809.5h4v4h-4zM168.5 821.5h4v4h-4zM180.5 821.5h8v4h-8zM336.5 829.5h4v4h-4z"/>
<path fill="#db1c00" d="M196.5 737.5h4v4h-4zM204.5 737.5h4v4h-4zM208.5 741.5h4v4h-4zM240.5 749.5h4v4h-4zM188.5 753.5h4v4h-4zM216.5 757.5h4v4h-4zM236.5 757.5h4v4h-4zM280.5 757.5h4v4h-4zM100.5 761.5h4v4h-4zM236.5 761.5h4v4h-4zM344.5 761.5h4v4h-4zM124.5 765.5h4v4h-4zM240.5 765.5h8v4h-8zM344.5 765.5h4v4h-4zM260.5 769.5h8v4h-8zM308.5 769.5h4v4h-4zM220.5 773.5h4v4h-4zM308.5 773.5h4v4h-4zM116.5 777.5h4v4h-4zM308.5 777.5h4v4h-4zM344.5 777.5h4v4h-4zM260.5 781.5h4v4h-4zM308.5 781.5h4v4h-4zM344.5 781.5h4v4h-4zM260.5 785.5h8v4h-8zM308.5 785.5h4v4h-4zM344.5 785.5h4v4h-4zM256.5 789.5h4v4h-4zM264.5 789.5h4v4h-4zM308.5 789.5h4v4h-4zM252.5 793.5h4v4h-4zM308.5 793.5h4v4h-4zM68.5 797.5h4v4h-4zM248.5 797.5h4v4h-4zM308.5 797.5h4v4h-4zM216.5 801.5h4v4h-4zM308.5 801.5h4v4h-4zM184.5 805.5h4v4h-4zM172.5 809.5h12v4h-12zM164.5 813.5h4v4h-4zM244.5 813.5h4v4h-4zM124.5 817.5h4v4h-4zM212.5 817.5h4v4h-4zM276.5 817.5h4v4h-4zM376.5 817.5h4v4h-4zM176.5 821.5h4v4h-4zM332.5 821.5h4v4h-4zM192.5 825.5h4v4h-4zM208.5 825.5h4v4h-4zM196.5 829.5h4v4h-4zM204.5 829.5h4v4h-4z"/>
<path fill="#e41500" d="M200.5 737.5h4v4h-4zM324.5 737.5h4v4h-4zM352.5 737.5h4v4h-4zM256.5 741.5h4v4h-4zM68.5 745.5h4v4h-4zM132.5 745.5h4v4h-4zM192.5 745.5h4v4h-4zM248.5 745.5h4v4h-4zM276.5 745.5h4v4h-4zM344.5 745.5h4v4h-4zM212.5 749.5h4v4h-4zM388.5 749.5h4v4h-4zM240.5 753.5h4v4h-4zM280.5 753.5h4v4h-4zM128.5 757.5h4v4h-4zM188.5 757.5h4v4h-4zM344.5 757.5h4v4h-4zM240.5 761.5h4v4h-4zM248.5 765.5h4v4h-4zM88.5 777.5h4v4h-4zM84.5 781.5h4v4h-4zM72.5 789.5h4v4h-4zM260.5 789.5h4v4h-4zM344.5 789.5h4v4h-4zM108.5 793.5h4v4h-4zM216.5 793.5h4v4h-4zM256.5 793.5h4v4h-4zM268.5 793.5h4v4h-4zM216.5 797.5h4v4h-4zM272.5 797.5h4v4h-4zM328.5 797.5h4v4h-4zM276.5 801.5h4v4h-4zM244.5 805.5h4v4h-4zM184.5 809.5h4v4h-4zM244.5 809.5h4v4h-4zM164.5 817.5h4v4h-4zM248.5 817.5h4v4h-4zM172.5 821.5h4v4h-4zM188.5 821.5h4v4h-4zM328.5 821.5h4v4h-4zM200.5 829.5h4v4h-4zM312.5 829.5h4v4h-4zM324.5 829.5h4v4h-4z"/>
<path fill="#ed0e00" d="M312.5 737.5h4v4h-4zM348.5 737.5h4v4h-4zM132.5 741.5h4v4h-4zM196.5 741.5h12v4h-12zM268.5 741.5h4v4h-4zM312.5 741.5h4v4h-4zM324.5 741.5h4v4h-4zM352.5 741.5h4v4h-4zM208.5 745.5h4v4h-4zM352.5 745.5h4v4h-4zM192.5 749.5h4v4h-4zM244.5 749.5h4v4h-4zM344.5 749.5h4v4h-4zM108.5 753.5h4v4h-4zM212.5 753.5h4v4h-4zM344.5 753.5h4v4h-4zM104.5 757.5h4v4h-4zM240.5 757.5h4v4h-4zM188.5 761.5h4v4h-4zM216.5 761.5h4v4h-4zM244.5 761.5h4v4h-4zM276.5 761.5h4v4h-4zM252.5 765.5h4v4h-4zM272.5 765.5h4v4h-4zM92.5 773.5h4v4h-4zM112.5 781.5h4v4h-4zM216.5 785.5h4v4h-4zM216.5 789.5h4v4h-4zM260.5 793.5h8v4h-8zM380.5 793.5h4v4h-4zM252.5 797.5h4v4h-4zM188.5 801.5h4v4h-4zM340.5 801.5h4v4h-4zM332.5 805.5h4v4h-4zM212.5 809.5h4v4h-4zM212.5 813.5h4v4h-4zM180.5 817.5h8v4h-8zM208.5 821.5h4v4h-4zM336.5 821.5h4v4h-4zM196.5 825.5h4v4h-4zM204.5 825.5h4v4h-4zM312.5 825.5h4v4h-4zM324.5 825.5h4v4h-4z"/>
<path fill="#f60700" d="M128.5 737.5h4v4h-4zM316.5 737.5h8v4h-8zM76.5 741.5h4v4h-4zM260.5 741.5h8v4h-8zM348.5 741.5h4v4h-4zM196.5 745.5h12v4h-12zM312.5 745.5h4v4h-4zM324.5 745.5h4v4h-4zM348.5 745.5h4v4h-4zM388.5 745.5h4v4h-4zM112.5 749.5h4v4h-4zM196.5 749.5h4v4h-4zM208.5 749.5h4v4h-4zM312.5 749.5h4v4h-4zM324.5 749.5h4v4h-4zM352.5 749.5h4v4h-4zM192.5 753.5h4v4h-4zM244.5 753.5h4v4h-4zM312.5 753.5h4v4h-4zM324.5 753.5h4v4h-4zM244.5 757.5h4v4h-4zM312.5 757.5h4v4h-4zM324.5 757.5h4v4h-4zM248.5 761.5h4v4h-4zM324.5 761.5h4v4h-4zM188.5 765.5h4v4h-4zM324.5 765.5h4v4h-4zM384.5 765.5h4v4h-4zM120.5 769.5h4v4h-4zM324.5 769.5h4v4h-4zM384.5 769.5h4v4h-4zM324.5 773.5h4v4h-4zM188.5 781.5h4v4h-4zM216.5 781.5h4v4h-4zM80.5 785.5h4v4h-4zM188.5 785.5h4v4h-4zM108.5 789.5h4v4h-4zM188.5 789.5h4v4h-4zM380.5 789.5h4v4h-4zM72.5 793.5h4v4h-4zM188.5 793.5h4v4h-4zM212.5 793.5h4v4h-4zM344.5 793.5h4v4h-4zM104.5 797.5h4v4h-4zM188.5 797.5h4v4h-4zM212.5 797.5h4v4h-4zM268.5 797.5h4v4h-4zM72.5 801.5h4v4h-4zM100.5 801.5h4v4h-4zM212.5 801.5h4v4h-4zM248.5 801.5h4v4h-4zM328.5 801.5h4v4h-4zM76.5 805.5h4v4h-4zM92.5 805.5h4v4h-4zM188.5 805.5h4v4h-4zM212.5 805.5h4v4h-4zM276.5 805.5h4v4h-4zM336.5 805.5h4v4h-4zM188.5 809.5h4v4h-4zM332.5 809.5h4v4h-4zM376.5 809.5h4v4h-4zM168.5 813.5h20v4h-20zM276.5 813.5h4v4h-4zM376.5 813.5h4v4h-4zM108.5 817.5h4v4h-4zM168.5 817.5h12v4h-12zM188.5 817.5h4v4h-4zM312.5 817.5h4v4h-4zM328.5 817.5h8v4h-8zM192.5 821.5h4v4h-4zM256.5 821.5h4v4h-4zM268.5 821.5h4v4h-4zM312.5 821.5h4v4h-4zM324.5 821.5h4v4h-4zM200.5 825.5h4v4h-4zM316.5 829.5h8v4h-8z"/>
<path fill="#ff0100" d="M388.5 737.5h4v4h-4zM72.5 741.5h4v4h-4zM316.5 741.5h8v4h-8zM388.5 741.5h4v4h-4zM72.5 745.5h8v4h-8zM116.5 745.5h4v4h-4zM252.5 745.5h4v4h-4zM316.5 745.5h8v4h-8zM200.5 749.5h8v4h-8zM248.5 749.5h4v4h-4zM276.5 749.5h4v4h-4zM316.5 749.5h8v4h-8zM348.5 749.5h4v4h-4zM128.5 753.5h4v4h-4zM196.5 753.5h4v4h-4zM208.5 753.5h4v4h-4zM248.5 753.5h4v4h-4zM316.5 753.5h8v4h-8zM348.5 753.5h8v4h-8zM192.5 757.5h4v4h-4zM212.5 757.5h4v4h-4zM248.5 757.5h4v4h-4zM276.5 757.5h4v4h-4zM316.5 757.5h8v4h-8zM348.5 757.5h4v4h-4zM124.5 761.5h4v4h-4zM312.5 761.5h12v4h-12zM348.5 761.5h4v4h-4zM384.5 761.5h4v4h-4zM216.5 765.5h4v4h-4zM256.5 765.5h4v4h-4zM268.5 765.5h4v4h-4zM312.5 765.5h12v4h-12zM348.5 765.5h4v4h-4zM96.5 769.5h4v4h-4zM188.5 769.5h4v4h-4zM312.5 769.5h12v4h-12zM348.5 769.5h4v4h-4zM116.5 773.5h4v4h-4zM188.5 773.5h4v4h-4zM312.5 773.5h12v4h-12zM348.5 773.5h4v4h-4zM188.5 777.5h4v4h-4zM216.5 777.5h4v4h-4zM312.5 777.5h16v4h-16zM312.5 781.5h16v4h-16zM380.5 781.5h4v4h-4zM108.5 785.5h4v4h-4zM192.5 785.5h4v4h-4zM212.5 785.5h4v4h-4zM312.5 785.5h4v4h-4zM324.5 785.5h4v4h-4zM380.5 785.5h4v4h-4zM76.5 789.5h8v4h-8zM192.5 789.5h24v4h-24zM312.5 789.5h4v4h-4zM76.5 793.5h4v4h-4zM104.5 793.5h4v4h-4zM192.5 793.5h20v4h-20zM72.5 797.5h8v4h-8zM100.5 797.5h4v4h-4zM192.5 797.5h20v4h-20zM256.5 797.5h12v4h-12zM344.5 797.5h4v4h-4zM96.5 801.5h4v4h-4zM192.5 801.5h20v4h-20zM252.5 801.5h4v4h-4zM272.5 801.5h4v4h-4zM88.5 805.5h4v4h-4zM192.5 805.5h4v4h-4zM208.5 805.5h4v4h-4zM248.5 805.5h4v4h-4zM328.5 805.5h4v4h-4zM340.5 805.5h4v4h-4zM376.5 805.5h4v4h-4zM208.5 809.5h4v4h-4zM248.5 809.5h4v4h-4zM276.5 809.5h4v4h-4zM312.5 809.5h4v4h-4zM328.5 809.5h4v4h-4zM336.5 809.5h8v4h-8zM188.5 813.5h4v4h-4zM248.5 813.5h4v4h-4zM312.5 813.5h4v4h-4zM328.5 813.5h16v4h-16zM208.5 817.5h4v4h-4zM316.5 817.5h12v4h-12zM336.5 817.5h8v4h-8zM124.5 821.5h4v4h-4zM316.5 821.5h8v4h-8zM316.5 825.5h8v4h-8zM372.5 825.5h4v4h-4zM372.5 829.5h4v4h-4z"/>
<path fill="#ff0d00" d="M120.5 741.5h4v4h-4zM272.5 745.5h4v4h-4zM200.5 753.5h8v4h-8zM276.5 753.5h4v4h-4zM384.5 757.5h4v4h-4zM192.5 761.5h4v4h-4zM252.5 761.5h4v4h-4zM100.5 765.5h4v4h-4zM120.5 765.5h4v4h-4zM260.5 765.5h8v4h-8zM216.5 769.5h4v4h-4zM216.5 773.5h4v4h-4zM92.5 777.5h4v4h-4zM112.5 777.5h4v4h-4zM348.5 777.5h4v4h-4zM88.5 781.5h4v4h-4zM108.5 781.5h4v4h-4zM192.5 781.5h4v4h-4zM84.5 785.5h4v4h-4zM196.5 785.5h8v4h-8zM208.5 785.5h4v4h-4zM316.5 785.5h8v4h-8zM104.5 789.5h4v4h-4zM324.5 789.5h4v4h-4zM80.5 793.5h4v4h-4zM100.5 793.5h4v4h-4zM312.5 793.5h4v4h-4zM80.5 797.5h4v4h-4zM96.5 797.5h4v4h-4zM312.5 797.5h4v4h-4zM76.5 801.5h4v4h-4zM92.5 801.5h4v4h-4zM312.5 801.5h4v4h-4zM344.5 801.5h4v4h-4zM376.5 801.5h4v4h-4zM80.5 805.5h8v4h-8zM196.5 805.5h12v4h-12zM312.5 805.5h4v4h-4zM208.5 813.5h4v4h-4zM316.5 813.5h12v4h-12zM272.5 817.5h4v4h-4zM196.5 821.5h4v4h-4zM204.5 821.5h4v4h-4zM340.5 821.5h4v4h-4z"/>
<path fill="#ff1900" d="M256.5 745.5h4v4h-4zM252.5 749.5h4v4h-4zM108.5 757.5h4v4h-4zM124.5 757.5h4v4h-4zM196.5 757.5h4v4h-4zM208.5 757.5h4v4h-4zM252.5 757.5h4v4h-4zM352.5 757.5h4v4h-4zM104.5 761.5h4v4h-4zM272.5 761.5h4v4h-4zM116.5 769.5h4v4h-4zM192.5 777.5h4v4h-4zM196.5 781.5h4v4h-4zM212.5 781.5h4v4h-4zM348.5 781.5h4v4h-4zM104.5 785.5h4v4h-4zM204.5 785.5h4v4h-4zM84.5 789.5h4v4h-4zM100.5 789.5h4v4h-4zM316.5 789.5h4v4h-4zM96.5 793.5h4v4h-4zM92.5 797.5h4v4h-4zM80.5 801.5h12v4h-12zM256.5 801.5h4v4h-4zM268.5 801.5h4v4h-4zM272.5 805.5h4v4h-4zM192.5 809.5h4v4h-4zM204.5 809.5h4v4h-4zM324.5 809.5h4v4h-4zM192.5 817.5h4v4h-4zM252.5 817.5h4v4h-4zM108.5 821.5h4v4h-4zM200.5 821.5h4v4h-4zM260.5 821.5h8v4h-8zM340.5 825.5h4v4h-4z"/>
<path fill="#ff2500" d="M356.5 737.5h4v4h-4zM268.5 745.5h4v4h-4zM128.5 749.5h4v4h-4zM272.5 749.5h4v4h-4zM252.5 753.5h4v4h-4zM200.5 757.5h8v4h-8zM212.5 761.5h4v4h-4zM256.5 761.5h4v4h-4zM352.5 761.5h4v4h-4zM192.5 765.5h4v4h-4zM96.5 773.5h4v4h-4zM112.5 773.5h4v4h-4zM192.5 773.5h4v4h-4zM380.5 777.5h4v4h-4zM88.5 785.5h4v4h-4zM320.5 789.5h4v4h-4zM84.5 793.5h4v4h-4zM324.5 793.5h4v4h-4zM84.5 797.5h8v4h-8zM260.5 801.5h8v4h-8zM252.5 805.5h4v4h-4zM344.5 805.5h4v4h-4zM196.5 809.5h4v4h-4zM272.5 809.5h4v4h-4zM316.5 809.5h4v4h-4zM192.5 813.5h4v4h-4zM272.5 813.5h4v4h-4zM204.5 817.5h4v4h-4zM372.5 821.5h4v4h-4zM340.5 829.5h4v4h-4z"/>
<path fill="#ff3100" d="M260.5 745.5h4v4h-4zM112.5 753.5h4v4h-4zM384.5 753.5h4v4h-4zM272.5 757.5h4v4h-4zM120.5 761.5h4v4h-4zM196.5 761.5h4v4h-4zM100.5 769.5h4v4h-4zM192.5 769.5h4v4h-4zM108.5 777.5h4v4h-4zM212.5 777.5h4v4h-4zM92.5 781.5h4v4h-4zM200.5 781.5h12v4h-12zM348.5 785.5h4v4h-4zM88.5 789.5h4v4h-4zM88.5 793.5h8v4h-8zM316.5 793.5h4v4h-4zM324.5 797.5h4v4h-4zM324.5 805.5h4v4h-4zM200.5 809.5h4v4h-4zM252.5 809.5h4v4h-4zM320.5 809.5h4v4h-4zM344.5 809.5h4v4h-4zM204.5 813.5h4v4h-4zM252.5 813.5h4v4h-4zM120.5 817.5h4v4h-4z"/>
<path fill="#ff3d00" d="M356.5 741.5h4v4h-4zM264.5 745.5h4v4h-4zM256.5 749.5h4v4h-4zM272.5 753.5h4v4h-4zM268.5 761.5h4v4h-4zM352.5 765.5h4v4h-4zM196.5 777.5h4v4h-4zM104.5 781.5h4v4h-4zM100.5 785.5h4v4h-4zM96.5 789.5h4v4h-4zM348.5 789.5h4v4h-4zM376.5 797.5h4v4h-4zM324.5 801.5h4v4h-4zM268.5 805.5h4v4h-4zM316.5 805.5h4v4h-4zM112.5 817.5h4v4h-4zM196.5 817.5h4v4h-4z"/>
<path fill="#ff4900" d="M356.5 745.5h4v4h-4zM256.5 757.5h4v4h-4zM208.5 761.5h4v4h-4zM260.5 761.5h8v4h-8zM104.5 765.5h4v4h-4zM116.5 765.5h4v4h-4zM212.5 765.5h4v4h-4zM352.5 769.5h4v4h-4zM96.5 777.5h4v4h-4zM92.5 785.5h4v4h-4zM92.5 789.5h4v4h-4zM320.5 793.5h4v4h-4zM316.5 797.5h4v4h-4zM316.5 801.5h4v4h-4zM256.5 805.5h4v4h-4zM196.5 813.5h8v4h-8zM344.5 813.5h4v4h-4zM200.5 817.5h4v4h-4zM268.5 817.5h4v4h-4z"/>
<path fill="#ff5600" d="M124.5 753.5h4v4h-4zM256.5 753.5h4v4h-4zM108.5 761.5h4v4h-4zM200.5 761.5h4v4h-4zM196.5 765.5h4v4h-4zM212.5 773.5h4v4h-4zM352.5 773.5h4v4h-4zM380.5 773.5h4v4h-4zM348.5 793.5h4v4h-4zM320.5 805.5h4v4h-4zM116.5 817.5h4v4h-4zM256.5 817.5h4v4h-4zM344.5 817.5h4v4h-4z"/>
<path fill="#ff6200" d="M268.5 749.5h4v4h-4zM356.5 749.5h4v4h-4zM112.5 757.5h4v4h-4zM120.5 757.5h4v4h-4zM204.5 761.5h4v4h-4zM112.5 769.5h4v4h-4zM212.5 769.5h4v4h-4zM100.5 773.5h4v4h-4zM196.5 773.5h4v4h-4zM200.5 777.5h4v4h-4zM208.5 777.5h4v4h-4zM96.5 781.5h4v4h-4zM96.5 785.5h4v4h-4zM348.5 797.5h4v4h-4zM372.5 817.5h4v4h-4zM120.5 821.5h4v4h-4zM344.5 821.5h4v4h-4z"/>
<path fill="#ff6e00" d="M128.5 741.5h4v4h-4zM128.5 745.5h4v4h-4zM116.5 749.5h4v4h-4zM384.5 749.5h4v4h-4zM356.5 753.5h4v4h-4zM268.5 757.5h4v4h-4zM116.5 761.5h4v4h-4zM196.5 769.5h4v4h-4zM108.5 773.5h4v4h-4zM104.5 777.5h4v4h-4zM204.5 777.5h4v4h-4zM352.5 777.5h4v4h-4zM100.5 781.5h4v4h-4zM320.5 797.5h4v4h-4zM320.5 801.5h4v4h-4zM348.5 801.5h4v4h-4zM260.5 805.5h8v4h-8zM268.5 809.5h4v4h-4zM268.5 813.5h4v4h-4zM112.5 821.5h4v4h-4z"/>
<path fill="#ff7a00" d="M260.5 749.5h4v4h-4zM268.5 753.5h4v4h-4zM104.5 769.5h4v4h-4zM100.5 777.5h4v4h-4zM352.5 781.5h4v4h-4zM376.5 793.5h4v4h-4zM256.5 809.5h4v4h-4zM260.5 817.5h8v4h-8zM116.5 821.5h4v4h-4zM344.5 825.5h4v4h-4z"/>
<path fill="#ff8600" d="M264.5 749.5h4v4h-4zM116.5 757.5h4v4h-4zM260.5 757.5h4v4h-4zM356.5 757.5h4v4h-4zM112.5 761.5h4v4h-4zM108.5 765.5h8v4h-8zM208.5 765.5h4v4h-4zM348.5 805.5h4v4h-4zM256.5 813.5h4v4h-4z"/>
<path fill="#ff9100" d="M360.5 737.5h4v4h-4zM116.5 753.5h4v4h-4zM264.5 757.5h4v4h-4zM356.5 761.5h4v4h-4zM200.5 765.5h4v4h-4zM108.5 769.5h4v4h-4zM380.5 769.5h4v4h-4zM104.5 773.5h4v4h-4zM208.5 773.5h4v4h-4zM372.5 813.5h4v4h-4zM344.5 829.5h4v4h-4z"/>
<path fill="#ff9b00" d="M124.5 741.5h4v4h-4zM384.5 745.5h4v4h-4zM260.5 753.5h4v4h-4zM200.5 773.5h4v4h-4zM352.5 785.5h4v4h-4zM348.5 809.5h4v4h-4z"/>
<path fill="#ffa400" d="M264.5 753.5h4v4h-4zM204.5 765.5h4v4h-4zM356.5 765.5h4v4h-4zM200.5 769.5h4v4h-4zM208.5 769.5h4v4h-4zM376.5 789.5h4v4h-4zM264.5 809.5h4v4h-4z"/>
<path fill="#ffae00" d="M360.5 741.5h4v4h-4zM120.5 753.5h4v4h-4zM204.5 773.5h4v4h-4zM352.5 789.5h4v4h-4zM260.5 809.5h4v4h-4zM264.5 813.5h4v4h-4zM348.5 813.5h4v4h-4z"/>
<path fill="#ffb800" d="M124.5 749.5h4v4h-4zM380.5 765.5h4v4h-4zM356.5 769.5h4v4h-4zM260.5 813.5h4v4h-4z"/>
<path fill="#ffc100" d="M120.5 745.5h4v4h-4zM204.5 769.5h4v4h-4zM352.5 793.5h4v4h-4zM372.5 809.5h4v4h-4zM348.5 817.5h4v4h-4z"/>
<path fill="#ffcb00" d="M384.5 741.5h4v4h-4zM360.5 745.5h4v4h-4zM356.5 773.5h4v4h-4zM376.5 785.5h4v4h-4z"/>
<path fill="#ffd500" d="M352.5 797.5h4v4h-4zM348.5 821.5h4v4h-4zM368.5 829.5h4v4h-4z"/>
<path fill="#ffde00" d="M380.5 761.5h4v4h-4z"/>
<path fill="#ffe800" d="M360.5 749.5h4v4h-4zM356.5 777.5h4v4h-4zM352.5 801.5h4v4h-4zM372.5 805.5h4v4h-4z"/>
<path fill="#fff200" d="M384.5 737.5h4v4h-4zM120.5 749.5h4v4h-4zM376.5 781.5h4v4h-4zM348.5 825.5h4v4h-4z"/>
<path fill="#fffb00" d="M360.5 753.5h4v4h-4zM380.5 757.5h4v4h-4zM352.5 805.5h4v4h-4zM368.5 825.5h4v4h-4zM348.5 829.5h4v4h-4z"/>
<path fill="#ffff07" d="M124.5 745.5h4v4h-4zM356.5 781.5h4v4h-4zM372.5 801.5h4v4h-4zM352.5 809.5h4v4h-4z"/>
<path fill="#ffff12" d="M364.5 737.5h4v4h-4zM380.5 753.5h4v4h-4zM360.5 757.5h4v4h-4zM376.5 777.5h4v4h-4zM352.5 813.5h4v4h-4zM368.5 821.5h4v4h-4z"/>
<path fill="#ffff1d" d="M360.5 761.5h4v4h-4zM360.5 765.5h4v4h-4zM356.5 785.5h4v4h-4zM372.5 797.5h4v4h-4z"/>
<path fill="#ffff28" d="M360.5 769.5h4v4h-4zM376.5 773.5h4v4h-4zM352.5 817.5h4v4h-4zM368.5 817.5h4v4h-4z"/>
<path fill="#ffff34" d="M380.5 749.5h4v4h-4zM356.5 789.5h4v4h-4zM372.5 793.5h4v4h-4zM352.5 821.5h4v4h-4z"/>
<path fill="#ffff3f" d="M364.5 741.5h4v4h-4zM360.5 773.5h4v4h-4zM356.5 793.5h4v4h-4zM352.5 825.5h4v4h-4z"/>
<path fill="#ffff4a" d="M356.5 797.5h4v4h-4zM356.5 801.5h4v4h-4z"/>
<path fill="#ffff55" d="M356.5 805.5h4v4h-4zM352.5 829.5h4v4h-4z"/>
<path fill="#ffff60" d="M364.5 745.5h4v4h-4zM360.5 777.5h4v4h-4zM356.5 809.5h4v4h-4z"/>
<path fill="#ffff6c" d="M356.5 813.5h4v4h-4zM356.5 817.5h4v4h-4z"/>
<path fill="#ffff77" d="M368.5 737.5h4v4h-4zM356.5 821.5h4v4h-4z"/>
<path fill="#ffff82" d="M364.5 749.5h4v4h-4zM360.5 781.5h4v4h-4zM356.5 825.5h4v4h-4z"/>
<path fill="#ffff8d" d="M364.5 761.5h4v4h-4zM364.5 765.5h4v4h-4zM364.5 769.5h4v4h-4zM356.5 829.5h4v4h-4z"/>
<path fill="#ffff98" d="M364.5 753.5h4v4h-4zM364.5 757.5h4v4h-4zM364.5 773.5h4v4h-4z"/>
<path fill="#ffffa4" d="M380.5 737.5h4v4h-4zM368.5 741.5h4v4h-4zM360.5 785.5h4v4h-4zM360.5 805.5h4v4h-4zM360.5 809.5h4v4h-4zM360.5 813.5h4v4h-4zM368.5 813.5h4v4h-4zM360.5 817.5h8v4h-8zM360.5 821.5h8v4h-8zM360.5 825.5h8v4h-8zM360.5 829.5h8v4h-8z"/>
<path fill="#ffffaf" d="M372.5 737.5h4v4h-4zM380.5 741.5h4v4h-4zM380.5 745.5h4v4h-4zM376.5 769.5h4v4h-4zM364.5 777.5h4v4h-4zM360.5 801.5h4v4h-4zM368.5 809.5h4v4h-4zM364.5 813.5h4v4h-4z"/>
<path fill="#ffffba" d="M376.5 737.5h4v4h-4zM376.5 765.5h4v4h-4zM372.5 769.5h4v4h-4zM372.5 773.5h4v4h-4zM372.5 777.5h4v4h-4zM372.5 781.5h4v4h-4zM360.5 789.5h4v4h-4zM360.5 797.5h4v4h-4zM364.5 809.5h4v4h-4z"/>
<path fill="#ffffc5" d="M376.5 741.5h4v4h-4zM376.5 761.5h4v4h-4zM368.5 769.5h4v4h-4zM368.5 773.5h4v4h-4zM372.5 785.5h4v4h-4zM372.5 789.5h4v4h-4zM360.5 793.5h4v4h-4zM368.5 805.5h4v4h-4z"/>
<path fill="#ffffce" d="M372.5 741.5h4v4h-4zM368.5 745.5h4v4h-4zM376.5 745.5h4v4h-4zM376.5 757.5h4v4h-4zM368.5 765.5h8v4h-8zM368.5 777.5h4v4h-4zM364.5 805.5h4v4h-4z"/>
<path fill="#ffffd7" d="M376.5 749.5h4v4h-4zM376.5 753.5h4v4h-4zM368.5 761.5h4v4h-4zM364.5 781.5h4v4h-4zM368.5 801.5h4v4h-4z"/>
<path fill="#ffffdf" d="M372.5 761.5h4v4h-4zM368.5 781.5h4v4h-4zM364.5 801.5h4v4h-4z"/>
<path fill="#ffffe8" d="M372.5 745.5h4v4h-4zM368.5 749.5h4v4h-4zM368.5 757.5h4v4h-4zM368.5 797.5h4v4h-4z"/>
<path fill="#fffff0" d="M372.5 749.5h4v4h-4zM368.5 753.5h8v4h-8zM372.5 757.5h4v4h-4zM364.5 785.5h8v4h-8zM364.5 789.5h8v4h-8zM364.5 793.5h8v4h-8zM364.5 797.5h4v4h-4z"/>
</g></g>
<line x1="383.6" y1="742.5" x2="369.4" y2="825.0" stroke="#000" stroke-width="2.6" />
<rect x="72.5" y="741.5" width="334.5" height="84.5" fill="none" stroke="#000" stroke-width="2.6"/>
<defs><linearGradient id="ctr" gradientUnits="userSpaceOnUse" x1="384" y1="0" x2="414" y2="0" gradientTransform="translate(0,742) skewX(-7.4) translate(0,-742)"><stop offset="0.000" stop-color="#ffff78"/><stop offset="0.033" stop-color="#fff000"/><stop offset="0.117" stop-color="#ff9600"/><stop offset="0.183" stop-color="#ff1400"/><stop offset="0.267" stop-color="#dc1400"/><stop offset="0.310" stop-color="#825a00"/><stop offset="0.353" stop-color="#00a000"/><stop offset="0.417" stop-color="#009614"/><stop offset="0.460" stop-color="#003cc8"/><stop offset="0.517" stop-color="#0000ff"/><stop offset="0.617" stop-color="#0000aa"/><stop offset="0.700" stop-color="#00003c"/><stop offset="0.800" stop-color="#00000a"/><stop offset="1.000" stop-color="#000000"/></linearGradient><clipPath id="ctrc"><polygon points="383.6,742 407,742 407,826 369.2,826"/></clipPath></defs>
<g clip-path="url(#ctrc)"><rect x="360" y="742" width="48" height="84" fill="url(#ctr)" filter="url(#bl1)"/></g>
<line x1="383.6" y1="742.5" x2="369.4" y2="825.0" stroke="#000" stroke-width="2.6" />
<rect x="72.5" y="741.5" width="334.5" height="84.5" fill="none" stroke="#000" stroke-width="2.6"/>
<text x="77.3" y="769.0" font-size="27.5" text-anchor="start" fill="#fff" >4 uc</text>
<rect x="77" y="809.7" width="54.5" height="7.6" fill="#fff"/>
<line x1="168.7" y1="752.0" x2="196.2" y2="757.3" stroke="#fff" stroke-width="2.6" />
<polygon points="208.0,759.6 193.9,763.8 196.5,750.4" fill="#fff" stroke="none" stroke-width="0"/>
<line x1="170.2" y1="750.9" x2="165.5" y2="779.5" stroke="#fff" stroke-width="2.6" />
<polygon points="163.6,791.3 159.0,777.4 172.4,779.6" fill="#fff" stroke="none" stroke-width="0"/>
<text x="212.0" y="769.0" font-size="27.5" text-anchor="start" fill="#fff" font-style="italic">c</text>
<text x="150.0" y="812.5" font-size="27.5" text-anchor="start" fill="#fff" font-style="italic">a</text>
<text x="251.5" y="792.8" font-size="29" text-anchor="start" fill="#fff" font-family="Liberation Serif">&#949;</text>
<text x="262.0" y="801.0" font-size="21" text-anchor="start" fill="#fff" font-style="italic">zz</text>
<clipPath id="clp2"><rect x="72" y="840" width="335" height="85"/></clipPath>
<g clip-path="url(#clp2)"><g filter="url(#bl25)">
<path fill="#004ba2" d="M392 836h20v4h-20zM392 840h20v4h-20zM392 844h20v4h-20zM392 848h20v4h-20zM392 852h20v4h-20zM392 856h20v4h-20zM392 860h20v4h-20zM392 864h20v4h-20zM392 868h20v4h-20zM392 872h20v4h-20zM392 876h20v4h-20zM392 880h20v4h-20zM392 884h20v4h-20zM388 888h24v4h-24zM388 892h24v4h-24zM388 896h24v4h-24zM388 900h24v4h-24zM388 904h24v4h-24zM388 908h24v4h-24zM388 912h24v4h-24zM388 916h24v4h-24zM388 920h24v4h-24zM388 924h24v4h-24zM388 928h24v4h-24z"/>
<path fill="#005686" d="M380 872h4v4h-4zM380 876h4v4h-4zM380 880h4v4h-4zM380 884h4v4h-4zM380 888h4v4h-4z"/>
<path fill="#005c78" d="M244 844h8v4h-8zM380 856h4v4h-4zM380 860h4v4h-4zM380 864h4v4h-4zM380 868h4v4h-4zM380 892h4v4h-4zM380 896h4v4h-4zM380 900h4v4h-4zM380 904h4v4h-4z"/>
<path fill="#00616a" d="M380 848h4v4h-4zM380 852h4v4h-4zM384 864h4v4h-4zM384 868h4v4h-4zM384 872h4v4h-4zM384 876h4v4h-4zM384 880h4v4h-4zM384 884h4v4h-4zM384 888h4v4h-4zM384 892h4v4h-4zM384 896h4v4h-4zM380 908h4v4h-4zM380 912h4v4h-4z"/>
<path fill="#00685e" d="M380 840h4v4h-4zM380 844h4v4h-4zM384 852h4v4h-4zM384 856h4v4h-4zM384 860h4v4h-4zM384 900h4v4h-4zM384 904h4v4h-4zM384 908h4v4h-4zM380 916h4v4h-4zM380 920h4v4h-4z"/>
<path fill="#006f52" d="M380 836h4v4h-4zM240 844h4v4h-4zM384 844h4v4h-4zM384 848h4v4h-4zM80 872h4v4h-4zM80 876h4v4h-4zM376 876h4v4h-4zM376 880h4v4h-4zM376 884h4v4h-4zM376 888h4v4h-4zM384 912h4v4h-4zM384 916h4v4h-4zM380 924h4v4h-4z"/>
<path fill="#007646" d="M384 836h4v4h-4zM244 840h8v4h-8zM384 840h4v4h-4zM252 844h4v4h-4zM244 848h8v4h-8zM376 852h4v4h-4zM376 856h4v4h-4zM376 860h4v4h-4zM376 864h4v4h-4zM376 868h4v4h-4zM84 872h4v4h-4zM376 872h4v4h-4zM84 876h4v4h-4zM376 892h4v4h-4zM376 896h4v4h-4zM376 900h4v4h-4zM376 904h4v4h-4zM376 908h4v4h-4zM384 920h4v4h-4zM384 924h4v4h-4zM380 928h4v4h-4z"/>
<path fill="#007d3a" d="M376 840h4v4h-4zM376 844h4v4h-4zM376 848h4v4h-4zM76 872h4v4h-4zM76 876h4v4h-4zM80 880h4v4h-4zM376 912h4v4h-4zM376 916h4v4h-4zM376 920h4v4h-4zM384 928h4v4h-4z"/>
<path fill="#00852d" d="M376 836h4v4h-4zM240 840h4v4h-4zM252 840h4v4h-4zM240 848h4v4h-4zM252 848h4v4h-4zM80 868h8v4h-8zM88 872h4v4h-4zM88 876h4v4h-4zM76 880h4v4h-4zM84 880h4v4h-4zM376 924h4v4h-4zM376 928h4v4h-4z"/>
<path fill="#008c21" d="M236 844h4v4h-4zM256 844h4v4h-4zM372 848h4v4h-4zM372 852h4v4h-4zM372 856h4v4h-4zM372 860h4v4h-4zM372 864h4v4h-4zM76 868h4v4h-4zM88 868h4v4h-4zM372 868h4v4h-4zM72 872h4v4h-4zM372 872h4v4h-4zM72 876h4v4h-4zM372 876h4v4h-4zM88 880h4v4h-4zM372 880h4v4h-4zM372 884h4v4h-4zM372 888h4v4h-4zM372 892h4v4h-4zM372 896h4v4h-4zM372 900h4v4h-4zM372 904h4v4h-4zM372 908h4v4h-4zM372 912h4v4h-4z"/>
<path fill="#009315" d="M360 836h16v4h-16zM360 840h16v4h-16zM360 844h16v4h-16zM256 848h4v4h-4zM360 848h12v4h-12zM244 852h16v4h-16zM360 852h12v4h-12zM244 856h20v4h-20zM360 856h12v4h-12zM84 860h28v4h-28zM244 860h20v4h-20zM360 860h12v4h-12zM76 864h40v4h-40zM244 864h20v4h-20zM360 864h12v4h-12zM72 868h4v4h-4zM92 868h28v4h-28zM360 868h12v4h-12zM388 868h4v4h-4zM92 872h28v4h-28zM356 872h16v4h-16zM388 872h4v4h-4zM92 876h28v4h-28zM356 876h16v4h-16zM388 876h4v4h-4zM72 880h4v4h-4zM92 880h28v4h-28zM356 880h16v4h-16zM388 880h4v4h-4zM76 884h44v4h-44zM356 884h16v4h-16zM388 884h4v4h-4zM80 888h40v4h-40zM356 888h16v4h-16zM84 892h32v4h-32zM356 892h16v4h-16zM88 896h24v4h-24zM356 896h16v4h-16zM356 900h16v4h-16zM356 904h16v4h-16zM356 908h16v4h-16zM360 912h12v4h-12zM360 916h16v4h-16zM360 920h16v4h-16zM360 924h16v4h-16zM360 928h16v4h-16z"/>
<path fill="#009a09" d="M356 836h4v4h-4zM236 840h4v4h-4zM256 840h4v4h-4zM356 840h4v4h-4zM260 844h4v4h-4zM356 844h4v4h-4zM388 844h4v4h-4zM88 848h16v4h-16zM236 848h4v4h-4zM260 848h4v4h-4zM356 848h4v4h-4zM388 848h4v4h-4zM80 852h40v4h-40zM240 852h4v4h-4zM260 852h8v4h-8zM356 852h4v4h-4zM388 852h4v4h-4zM76 856h48v4h-48zM240 856h4v4h-4zM264 856h4v4h-4zM356 856h4v4h-4zM388 856h4v4h-4zM72 860h12v4h-12zM112 860h12v4h-12zM240 860h4v4h-4zM264 860h4v4h-4zM356 860h4v4h-4zM388 860h4v4h-4zM68 864h8v4h-8zM116 864h12v4h-12zM240 864h4v4h-4zM264 864h4v4h-4zM356 864h4v4h-4zM388 864h4v4h-4zM68 868h4v4h-4zM120 868h8v4h-8zM244 868h20v4h-20zM356 868h4v4h-4zM68 872h4v4h-4zM120 872h12v4h-12zM68 876h4v4h-4zM120 876h12v4h-12zM68 880h4v4h-4zM120 880h12v4h-12zM68 884h8v4h-8zM120 884h12v4h-12zM68 888h12v4h-12zM120 888h12v4h-12zM72 892h12v4h-12zM116 892h12v4h-12zM72 896h16v4h-16zM112 896h16v4h-16zM76 900h48v4h-48zM80 904h40v4h-40zM92 908h16v4h-16zM356 912h4v4h-4zM356 916h4v4h-4zM356 920h4v4h-4zM356 924h4v4h-4zM356 928h4v4h-4z"/>
<path fill="#039e00" d="M248 836h4v4h-4zM388 836h4v4h-4zM388 840h4v4h-4zM84 844h4v4h-4zM352 844h4v4h-4zM72 848h16v4h-16zM104 848h16v4h-16zM264 848h4v4h-4zM352 848h4v4h-4zM68 852h12v4h-12zM120 852h8v4h-8zM236 852h4v4h-4zM268 852h4v4h-4zM352 852h4v4h-4zM68 856h8v4h-8zM124 856h4v4h-4zM236 856h4v4h-4zM268 856h4v4h-4zM352 856h4v4h-4zM68 860h4v4h-4zM124 860h8v4h-8zM236 860h4v4h-4zM268 860h4v4h-4zM352 860h4v4h-4zM128 864h4v4h-4zM236 864h4v4h-4zM268 864h4v4h-4zM352 864h4v4h-4zM128 868h8v4h-8zM240 868h4v4h-4zM264 868h4v4h-4zM352 868h4v4h-4zM132 872h4v4h-4zM244 872h20v4h-20zM352 872h4v4h-4zM132 876h4v4h-4zM352 876h4v4h-4zM132 880h8v4h-8zM352 880h4v4h-4zM132 884h8v4h-8zM352 884h4v4h-4zM132 888h8v4h-8zM352 888h4v4h-4zM68 892h4v4h-4zM128 892h8v4h-8zM352 892h4v4h-4zM68 896h4v4h-4zM128 896h8v4h-8zM352 896h4v4h-4zM68 900h8v4h-8zM124 900h12v4h-12zM352 900h4v4h-4zM68 904h12v4h-12zM120 904h12v4h-12zM352 904h4v4h-4zM76 908h16v4h-16zM108 908h16v4h-16zM352 908h4v4h-4zM352 912h4v4h-4zM352 916h4v4h-4zM352 920h4v4h-4zM352 924h4v4h-4zM352 928h4v4h-4z"/>
<path fill="#129600" d="M240 836h8v4h-8zM252 836h4v4h-4zM352 836h4v4h-4zM76 840h12v4h-12zM260 840h4v4h-4zM352 840h4v4h-4zM68 844h16v4h-16zM88 844h16v4h-16zM232 844h4v4h-4zM264 844h4v4h-4zM68 848h4v4h-4zM120 848h8v4h-8zM232 848h4v4h-4zM268 848h4v4h-4zM128 852h4v4h-4zM232 852h4v4h-4zM128 856h8v4h-8zM232 856h4v4h-4zM132 860h4v4h-4zM232 860h4v4h-4zM132 864h4v4h-4zM232 864h4v4h-4zM136 868h4v4h-4zM236 868h4v4h-4zM268 868h4v4h-4zM136 872h4v4h-4zM240 872h4v4h-4zM264 872h4v4h-4zM136 876h8v4h-8zM252 876h4v4h-4zM140 880h4v4h-4zM140 884h4v4h-4zM140 888h4v4h-4zM136 892h8v4h-8zM136 896h8v4h-8zM136 900h4v4h-4zM132 904h8v4h-8zM68 908h8v4h-8zM124 908h8v4h-8zM76 912h40v4h-40z"/>
<path fill="#208d00" d="M68 836h32v4h-32zM256 836h4v4h-4zM68 840h8v4h-8zM88 840h8v4h-8zM232 840h4v4h-4zM264 840h4v4h-4zM104 844h8v4h-8zM268 844h4v4h-4zM128 848h4v4h-4zM132 852h4v4h-4zM272 852h4v4h-4zM272 856h4v4h-4zM136 860h4v4h-4zM272 860h4v4h-4zM136 864h4v4h-4zM272 864h4v4h-4zM140 868h4v4h-4zM232 868h4v4h-4zM140 872h4v4h-4zM236 872h4v4h-4zM268 872h4v4h-4zM244 876h8v4h-8zM256 876h8v4h-8zM144 880h4v4h-4zM144 884h4v4h-4zM348 884h4v4h-4zM144 888h8v4h-8zM348 888h4v4h-4zM144 892h8v4h-8zM348 892h4v4h-4zM144 896h8v4h-8zM348 896h4v4h-4zM140 900h8v4h-8zM348 900h4v4h-4zM140 904h8v4h-8zM348 904h4v4h-4zM132 908h12v4h-12zM348 908h4v4h-4zM68 912h8v4h-8zM116 912h12v4h-12zM348 912h4v4h-4zM348 916h4v4h-4zM348 920h4v4h-4zM348 924h4v4h-4zM348 928h4v4h-4z"/>
<path fill="#2f8500" d="M100 836h8v4h-8zM236 836h4v4h-4zM260 836h4v4h-4zM348 836h4v4h-4zM96 840h8v4h-8zM268 840h4v4h-4zM348 840h4v4h-4zM112 844h8v4h-8zM348 844h4v4h-4zM132 848h4v4h-4zM272 848h4v4h-4zM348 848h4v4h-4zM136 852h4v4h-4zM228 852h4v4h-4zM348 852h4v4h-4zM136 856h4v4h-4zM228 856h4v4h-4zM348 856h4v4h-4zM228 860h4v4h-4zM348 860h4v4h-4zM140 864h4v4h-4zM228 864h4v4h-4zM348 864h4v4h-4zM272 868h4v4h-4zM348 868h4v4h-4zM144 872h4v4h-4zM348 872h4v4h-4zM144 876h4v4h-4zM240 876h4v4h-4zM264 876h4v4h-4zM348 876h4v4h-4zM148 880h4v4h-4zM348 880h4v4h-4zM148 884h4v4h-4zM152 888h4v4h-4zM152 892h4v4h-4zM152 896h4v4h-4zM148 900h8v4h-8zM148 904h8v4h-8zM144 908h8v4h-8zM128 912h12v4h-12z"/>
<path fill="#3e7d00" d="M108 836h8v4h-8zM232 836h4v4h-4zM264 836h8v4h-8zM104 840h4v4h-4zM120 844h8v4h-8zM228 844h4v4h-4zM272 844h4v4h-4zM136 848h4v4h-4zM228 848h4v4h-4zM276 848h4v4h-4zM276 852h4v4h-4zM276 856h4v4h-4zM140 860h4v4h-4zM276 860h4v4h-4zM276 864h4v4h-4zM144 868h4v4h-4zM228 868h4v4h-4zM232 872h4v4h-4zM272 872h4v4h-4zM148 876h4v4h-4zM268 876h4v4h-4zM152 880h4v4h-4zM256 880h4v4h-4zM152 884h4v4h-4zM156 888h4v4h-4zM156 892h8v4h-8zM156 896h8v4h-8zM156 900h8v4h-8zM344 900h4v4h-4zM156 904h4v4h-4zM344 904h4v4h-4zM152 908h8v4h-8zM344 908h4v4h-4zM140 912h8v4h-8zM344 912h4v4h-4zM68 916h36v4h-36zM344 916h4v4h-4zM344 920h4v4h-4zM344 924h4v4h-4zM344 928h4v4h-4z"/>
<path fill="#4b7600" d="M116 836h8v4h-8zM228 836h4v4h-4zM272 836h4v4h-4zM344 836h4v4h-4zM108 840h4v4h-4zM228 840h4v4h-4zM272 840h4v4h-4zM344 840h4v4h-4zM128 844h4v4h-4zM276 844h4v4h-4zM344 844h4v4h-4zM344 848h4v4h-4zM140 852h4v4h-4zM140 856h4v4h-4zM224 856h4v4h-4zM224 860h4v4h-4zM144 864h4v4h-4zM224 864h4v4h-4zM276 868h4v4h-4zM148 872h4v4h-4zM228 872h4v4h-4zM152 876h4v4h-4zM236 876h4v4h-4zM272 876h4v4h-4zM248 880h8v4h-8zM260 880h8v4h-8zM344 880h4v4h-4zM156 884h4v4h-4zM344 884h4v4h-4zM160 888h4v4h-4zM344 888h4v4h-4zM164 892h4v4h-4zM344 892h4v4h-4zM164 896h4v4h-4zM344 896h4v4h-4zM164 900h4v4h-4zM160 904h8v4h-8zM160 908h8v4h-8zM148 912h12v4h-12zM104 916h16v4h-16zM340 916h4v4h-4zM340 920h4v4h-4zM340 924h4v4h-4zM340 928h4v4h-4z"/>
<path fill="#557100" d="M124 836h12v4h-12zM224 836h4v4h-4zM276 836h4v4h-4zM340 836h4v4h-4zM112 840h4v4h-4zM224 840h4v4h-4zM276 840h4v4h-4zM132 844h4v4h-4zM224 844h4v4h-4zM280 844h4v4h-4zM140 848h4v4h-4zM224 848h4v4h-4zM280 848h4v4h-4zM224 852h4v4h-4zM280 852h4v4h-4zM344 852h4v4h-4zM280 856h4v4h-4zM344 856h4v4h-4zM144 860h4v4h-4zM280 860h4v4h-4zM344 860h4v4h-4zM280 864h4v4h-4zM344 864h4v4h-4zM148 868h4v4h-4zM224 868h4v4h-4zM344 868h4v4h-4zM276 872h4v4h-4zM344 872h4v4h-4zM232 876h4v4h-4zM344 876h4v4h-4zM156 880h4v4h-4zM244 880h4v4h-4zM268 880h4v4h-4zM160 884h4v4h-4zM164 888h4v4h-4zM168 892h4v4h-4zM168 896h4v4h-4zM168 900h4v4h-4zM340 900h4v4h-4zM168 904h4v4h-4zM340 904h4v4h-4zM168 908h4v4h-4zM340 908h4v4h-4zM160 912h8v4h-8zM340 912h4v4h-4zM120 916h16v4h-16zM336 920h4v4h-4zM332 924h8v4h-8zM68 928h16v4h-16zM332 928h8v4h-8z"/>
<path fill="#5f6c00" d="M136 836h4v4h-4zM220 836h4v4h-4zM280 836h8v4h-8zM116 840h4v4h-4zM280 840h4v4h-4zM340 840h4v4h-4zM136 844h4v4h-4zM340 844h4v4h-4zM340 848h4v4h-4zM144 856h4v4h-4zM220 864h4v4h-4zM280 868h4v4h-4zM152 872h4v4h-4zM224 872h4v4h-4zM156 876h4v4h-4zM228 876h4v4h-4zM276 876h4v4h-4zM160 880h4v4h-4zM240 880h4v4h-4zM272 880h4v4h-4zM340 880h4v4h-4zM164 884h4v4h-4zM340 884h4v4h-4zM168 888h8v4h-8zM340 888h4v4h-4zM172 892h4v4h-4zM340 892h4v4h-4zM172 896h4v4h-4zM340 896h4v4h-4zM172 900h4v4h-4zM172 904h4v4h-4zM172 908h4v4h-4zM336 908h4v4h-4zM168 912h8v4h-8zM336 912h4v4h-4zM136 916h36v4h-36zM332 916h8v4h-8zM68 920h16v4h-16zM332 920h4v4h-4zM68 924h4v4h-4zM328 924h4v4h-4zM84 928h20v4h-20zM156 928h24v4h-24zM320 928h12v4h-12z"/>
<path fill="#696700" d="M140 836h4v4h-4zM288 836h8v4h-8zM336 836h4v4h-4zM120 840h12v4h-12zM220 840h4v4h-4zM284 840h8v4h-8zM336 840h4v4h-4zM140 844h4v4h-4zM220 844h4v4h-4zM284 844h8v4h-8zM144 848h4v4h-4zM220 848h4v4h-4zM284 848h4v4h-4zM144 852h4v4h-4zM220 852h4v4h-4zM284 852h4v4h-4zM340 852h4v4h-4zM220 856h4v4h-4zM284 856h4v4h-4zM340 856h4v4h-4zM220 860h4v4h-4zM284 860h4v4h-4zM340 860h4v4h-4zM148 864h4v4h-4zM284 864h4v4h-4zM340 864h4v4h-4zM220 868h4v4h-4zM340 868h4v4h-4zM220 872h4v4h-4zM280 872h4v4h-4zM340 872h4v4h-4zM340 876h4v4h-4zM164 880h4v4h-4zM276 880h4v4h-4zM168 884h4v4h-4zM256 884h12v4h-12zM176 888h4v4h-4zM336 888h4v4h-4zM176 892h4v4h-4zM336 892h4v4h-4zM176 896h4v4h-4zM336 896h4v4h-4zM176 900h4v4h-4zM336 900h4v4h-4zM176 904h4v4h-4zM336 904h4v4h-4zM176 908h4v4h-4zM332 908h4v4h-4zM176 912h4v4h-4zM332 912h4v4h-4zM172 916h4v4h-4zM84 920h12v4h-12zM160 920h16v4h-16zM328 920h4v4h-4zM72 924h12v4h-12zM160 924h20v4h-20zM324 924h4v4h-4zM104 928h52v4h-52zM180 928h8v4h-8zM276 928h16v4h-16zM312 928h8v4h-8z"/>
<path fill="#736200" d="M144 836h4v4h-4zM216 836h4v4h-4zM296 836h12v4h-12zM332 836h4v4h-4zM132 840h8v4h-8zM292 840h12v4h-12zM292 844h4v4h-4zM336 844h4v4h-4zM288 848h4v4h-4zM336 848h4v4h-4zM288 852h4v4h-4zM336 852h4v4h-4zM288 856h4v4h-4zM336 856h4v4h-4zM288 860h4v4h-4zM336 860h4v4h-4zM336 864h4v4h-4zM152 868h4v4h-4zM284 868h4v4h-4zM336 868h4v4h-4zM284 872h4v4h-4zM336 872h4v4h-4zM160 876h4v4h-4zM224 876h4v4h-4zM280 876h4v4h-4zM336 876h4v4h-4zM236 880h4v4h-4zM336 880h4v4h-4zM172 884h8v4h-8zM252 884h4v4h-4zM268 884h8v4h-8zM332 884h8v4h-8zM180 888h4v4h-4zM332 888h4v4h-4zM180 892h4v4h-4zM332 892h4v4h-4zM180 896h4v4h-4zM332 896h4v4h-4zM180 900h4v4h-4zM332 900h4v4h-4zM180 904h4v4h-4zM332 904h4v4h-4zM180 908h4v4h-4zM180 912h4v4h-4zM328 912h4v4h-4zM176 916h4v4h-4zM328 916h4v4h-4zM96 920h8v4h-8zM148 920h12v4h-12zM176 920h8v4h-8zM324 920h4v4h-4zM84 924h8v4h-8zM152 924h8v4h-8zM180 924h8v4h-8zM276 924h12v4h-12zM316 924h8v4h-8zM188 928h4v4h-4zM268 928h8v4h-8zM292 928h20v4h-20z"/>
<path fill="#7d5d00" d="M148 836h4v4h-4zM212 836h4v4h-4zM308 836h4v4h-4zM328 836h4v4h-4zM140 840h4v4h-4zM216 840h4v4h-4zM304 840h4v4h-4zM332 840h4v4h-4zM144 844h4v4h-4zM216 844h4v4h-4zM296 844h8v4h-8zM292 848h8v4h-8zM292 852h4v4h-4zM332 852h4v4h-4zM292 856h4v4h-4zM332 856h4v4h-4zM148 860h4v4h-4zM292 860h4v4h-4zM328 860h8v4h-8zM216 864h4v4h-4zM288 864h4v4h-4zM332 864h4v4h-4zM216 868h4v4h-4zM288 868h4v4h-4zM332 868h4v4h-4zM156 872h4v4h-4zM216 872h4v4h-4zM288 872h4v4h-4zM328 872h8v4h-8zM220 876h4v4h-4zM284 876h4v4h-4zM328 876h8v4h-8zM168 880h4v4h-4zM232 880h4v4h-4zM280 880h4v4h-4zM328 880h8v4h-8zM180 884h4v4h-4zM248 884h4v4h-4zM276 884h4v4h-4zM328 884h4v4h-4zM184 888h4v4h-4zM328 888h4v4h-4zM184 892h4v4h-4zM328 892h4v4h-4zM184 896h4v4h-4zM328 896h4v4h-4zM328 900h4v4h-4zM328 904h4v4h-4zM328 908h4v4h-4zM180 916h4v4h-4zM324 916h4v4h-4zM104 920h44v4h-44zM184 920h4v4h-4zM320 920h4v4h-4zM92 924h12v4h-12zM140 924h12v4h-12zM188 924h4v4h-4zM272 924h4v4h-4zM288 924h8v4h-8zM312 924h4v4h-4zM192 928h4v4h-4zM264 928h4v4h-4z"/>
<path fill="#875700" d="M312 836h8v4h-8zM324 836h4v4h-4zM144 840h4v4h-4zM308 840h4v4h-4zM304 844h4v4h-4zM332 844h4v4h-4zM148 848h4v4h-4zM216 848h4v4h-4zM300 848h8v4h-8zM332 848h4v4h-4zM148 852h4v4h-4zM216 852h4v4h-4zM296 852h12v4h-12zM148 856h4v4h-4zM216 856h4v4h-4zM296 856h8v4h-8zM324 856h8v4h-8zM216 860h4v4h-4zM296 860h4v4h-4zM320 860h8v4h-8zM152 864h4v4h-4zM292 864h8v4h-8zM320 864h12v4h-12zM292 868h4v4h-4zM320 868h12v4h-12zM212 872h4v4h-4zM292 872h4v4h-4zM320 872h8v4h-8zM164 876h4v4h-4zM212 876h8v4h-8zM288 876h4v4h-4zM320 876h8v4h-8zM172 880h4v4h-4zM228 880h4v4h-4zM284 880h8v4h-8zM320 880h8v4h-8zM184 884h8v4h-8zM244 884h4v4h-4zM280 884h8v4h-8zM324 884h4v4h-4zM188 888h4v4h-4zM264 888h16v4h-16zM324 888h4v4h-4zM188 892h4v4h-4zM324 892h4v4h-4zM184 900h4v4h-4zM184 904h4v4h-4zM184 908h4v4h-4zM184 912h4v4h-4zM324 912h4v4h-4zM184 916h4v4h-4zM276 920h12v4h-12zM316 920h4v4h-4zM104 924h36v4h-36zM192 924h4v4h-4zM268 924h4v4h-4zM296 924h16v4h-16zM196 928h4v4h-4zM260 928h4v4h-4z"/>
<path fill="#905000" d="M152 836h4v4h-4zM208 836h4v4h-4zM320 836h4v4h-4zM148 840h4v4h-4zM212 840h4v4h-4zM328 840h4v4h-4zM148 844h4v4h-4zM308 852h4v4h-4zM328 852h4v4h-4zM304 856h20v4h-20zM300 860h20v4h-20zM300 864h20v4h-20zM156 868h4v4h-4zM212 868h4v4h-4zM296 868h24v4h-24zM160 872h4v4h-4zM296 872h24v4h-24zM208 876h4v4h-4zM292 876h28v4h-28zM176 880h8v4h-8zM216 880h12v4h-12zM292 880h4v4h-4zM312 880h8v4h-8zM192 884h8v4h-8zM240 884h4v4h-4zM288 884h4v4h-4zM316 884h8v4h-8zM192 888h4v4h-4zM260 888h4v4h-4zM280 888h4v4h-4zM320 888h4v4h-4zM188 896h4v4h-4zM324 896h4v4h-4zM324 900h4v4h-4zM324 904h4v4h-4zM324 908h4v4h-4zM188 916h4v4h-4zM276 916h8v4h-8zM320 916h4v4h-4zM188 920h4v4h-4zM272 920h4v4h-4zM288 920h4v4h-4zM312 920h4v4h-4zM264 924h4v4h-4zM200 928h4v4h-4zM256 928h4v4h-4z"/>
<path fill="#9a4a00" d="M312 840h4v4h-4zM212 844h4v4h-4zM308 844h4v4h-4zM308 848h4v4h-4zM328 848h4v4h-4zM312 852h4v4h-4zM324 852h4v4h-4zM152 860h4v4h-4zM212 864h4v4h-4zM208 872h4v4h-4zM168 876h4v4h-4zM204 876h4v4h-4zM184 880h32v4h-32zM296 880h16v4h-16zM200 884h4v4h-4zM292 884h4v4h-4zM312 884h4v4h-4zM196 888h4v4h-4zM256 888h4v4h-4zM284 888h8v4h-8zM316 888h4v4h-4zM192 892h4v4h-4zM268 892h16v4h-16zM320 892h4v4h-4zM188 900h4v4h-4zM188 904h4v4h-4zM188 908h4v4h-4zM188 912h4v4h-4zM320 912h4v4h-4zM272 916h4v4h-4zM284 916h4v4h-4zM316 916h4v4h-4zM192 920h4v4h-4zM268 920h4v4h-4zM292 920h8v4h-8zM308 920h4v4h-4zM196 924h4v4h-4zM204 928h4v4h-4z"/>
<path fill="#a34400" d="M156 836h4v4h-4zM204 836h4v4h-4zM152 840h4v4h-4zM208 840h4v4h-4zM328 844h4v4h-4zM212 848h4v4h-4zM312 848h4v4h-4zM212 852h4v4h-4zM316 852h8v4h-8zM212 856h4v4h-4zM212 860h4v4h-4zM208 868h4v4h-4zM164 872h4v4h-4zM204 872h4v4h-4zM172 876h4v4h-4zM200 876h4v4h-4zM204 884h8v4h-8zM236 884h4v4h-4zM296 884h16v4h-16zM200 888h4v4h-4zM252 888h4v4h-4zM292 888h4v4h-4zM312 888h4v4h-4zM196 892h4v4h-4zM264 892h4v4h-4zM284 892h4v4h-4zM316 892h4v4h-4zM192 896h4v4h-4zM272 896h12v4h-12zM320 896h4v4h-4zM276 900h4v4h-4zM320 900h4v4h-4zM320 904h4v4h-4zM276 908h8v4h-8zM320 908h4v4h-4zM272 912h16v4h-16zM192 916h4v4h-4zM268 916h4v4h-4zM288 916h4v4h-4zM264 920h4v4h-4zM300 920h8v4h-8zM200 924h4v4h-4zM260 924h4v4h-4zM208 928h4v4h-4zM252 928h4v4h-4z"/>
<path fill="#ad3d00" d="M316 840h12v4h-12zM152 844h4v4h-4zM312 844h4v4h-4zM152 848h4v4h-4zM324 848h4v4h-4zM152 852h4v4h-4zM152 856h4v4h-4zM156 864h4v4h-4zM208 864h4v4h-4zM160 868h4v4h-4zM176 876h4v4h-4zM192 876h8v4h-8zM212 884h24v4h-24zM204 888h4v4h-4zM248 888h4v4h-4zM296 888h16v4h-16zM260 892h4v4h-4zM288 892h8v4h-8zM312 892h4v4h-4zM268 896h4v4h-4zM284 896h4v4h-4zM316 896h4v4h-4zM192 900h4v4h-4zM272 900h4v4h-4zM280 900h8v4h-8zM192 904h4v4h-4zM272 904h12v4h-12zM272 908h4v4h-4zM284 908h4v4h-4zM192 912h4v4h-4zM268 912h4v4h-4zM288 912h4v4h-4zM316 912h4v4h-4zM292 916h4v4h-4zM312 916h4v4h-4zM196 920h4v4h-4zM256 924h4v4h-4zM212 928h4v4h-4zM248 928h4v4h-4z"/>
<path fill="#b63700" d="M160 836h4v4h-4zM200 836h4v4h-4zM156 840h4v4h-4zM204 840h4v4h-4zM208 844h4v4h-4zM324 844h4v4h-4zM316 848h8v4h-8zM208 860h4v4h-4zM204 868h4v4h-4zM168 872h4v4h-4zM200 872h4v4h-4zM180 876h12v4h-12zM208 888h4v4h-4zM244 888h4v4h-4zM200 892h4v4h-4zM256 892h4v4h-4zM296 892h4v4h-4zM308 892h4v4h-4zM196 896h4v4h-4zM264 896h4v4h-4zM288 896h4v4h-4zM268 900h4v4h-4zM288 900h4v4h-4zM316 900h4v4h-4zM268 904h4v4h-4zM284 904h4v4h-4zM316 904h4v4h-4zM192 908h4v4h-4zM268 908h4v4h-4zM288 908h4v4h-4zM316 908h4v4h-4zM312 912h4v4h-4zM196 916h4v4h-4zM264 916h4v4h-4zM296 916h16v4h-16zM260 920h4v4h-4zM204 924h4v4h-4zM216 928h4v4h-4zM244 928h4v4h-4z"/>
<path fill="#c03100" d="M164 836h4v4h-4zM316 844h8v4h-8zM208 848h4v4h-4zM208 852h4v4h-4zM208 856h4v4h-4zM156 860h4v4h-4zM196 872h4v4h-4zM212 888h4v4h-4zM240 888h4v4h-4zM204 892h4v4h-4zM300 892h8v4h-8zM260 896h4v4h-4zM292 896h4v4h-4zM312 896h4v4h-4zM196 900h4v4h-4zM264 900h4v4h-4zM288 904h4v4h-4zM196 912h4v4h-4zM264 912h4v4h-4zM292 912h4v4h-4zM200 920h4v4h-4zM208 924h4v4h-4zM252 924h4v4h-4zM220 928h8v4h-8zM232 928h12v4h-12z"/>
<path fill="#c92a00" d="M196 836h4v4h-4zM160 840h4v4h-4zM156 844h4v4h-4zM204 844h4v4h-4zM156 848h4v4h-4zM156 852h4v4h-4zM156 856h4v4h-4zM160 864h4v4h-4zM204 864h4v4h-4zM164 868h4v4h-4zM200 868h4v4h-4zM172 872h4v4h-4zM192 872h4v4h-4zM216 888h4v4h-4zM236 888h4v4h-4zM252 892h4v4h-4zM200 896h4v4h-4zM296 896h16v4h-16zM292 900h4v4h-4zM312 900h4v4h-4zM196 904h4v4h-4zM264 904h4v4h-4zM292 904h4v4h-4zM312 904h4v4h-4zM196 908h4v4h-4zM264 908h4v4h-4zM292 908h4v4h-4zM312 908h4v4h-4zM296 912h16v4h-16zM200 916h4v4h-4zM260 916h4v4h-4zM204 920h4v4h-4zM256 920h4v4h-4zM212 924h4v4h-4zM248 924h4v4h-4zM228 928h4v4h-4z"/>
<path fill="#d22300" d="M168 836h4v4h-4zM192 836h4v4h-4zM200 840h4v4h-4zM204 848h4v4h-4zM204 860h4v4h-4zM168 868h4v4h-4zM196 868h4v4h-4zM176 872h16v4h-16zM220 888h16v4h-16zM208 892h4v4h-4zM248 892h4v4h-4zM204 896h4v4h-4zM256 896h4v4h-4zM200 900h4v4h-4zM260 900h4v4h-4zM296 900h16v4h-16zM260 904h4v4h-4zM296 904h16v4h-16zM296 908h16v4h-16zM200 912h4v4h-4zM260 912h4v4h-4zM256 916h4v4h-4zM252 920h4v4h-4zM216 924h4v4h-4zM244 924h4v4h-4z"/>
<path fill="#db1c00" d="M172 836h8v4h-8zM188 836h4v4h-4zM164 840h4v4h-4zM196 840h4v4h-4zM160 844h4v4h-4zM204 852h4v4h-4zM204 856h4v4h-4zM160 860h4v4h-4zM164 864h4v4h-4zM200 864h4v4h-4zM192 868h4v4h-4zM212 892h4v4h-4zM244 892h4v4h-4zM252 896h4v4h-4zM256 900h4v4h-4zM200 904h4v4h-4zM200 908h4v4h-4zM260 908h4v4h-4zM204 916h4v4h-4zM208 920h4v4h-4zM248 920h4v4h-4zM220 924h8v4h-8zM236 924h8v4h-8z"/>
<path fill="#e41500" d="M180 836h8v4h-8zM168 840h4v4h-4zM164 844h4v4h-4zM200 844h4v4h-4zM160 848h4v4h-4zM160 852h4v4h-4zM160 856h4v4h-4zM200 860h4v4h-4zM196 864h4v4h-4zM172 868h8v4h-8zM184 868h8v4h-8zM216 892h8v4h-8zM236 892h8v4h-8zM208 896h4v4h-4zM248 896h4v4h-4zM204 900h4v4h-4zM252 900h4v4h-4zM204 904h4v4h-4zM256 904h4v4h-4zM204 908h4v4h-4zM256 908h4v4h-4zM204 912h4v4h-4zM256 912h4v4h-4zM208 916h4v4h-4zM252 916h4v4h-4zM212 920h4v4h-4zM244 920h4v4h-4zM228 924h8v4h-8z"/>
<path fill="#ed0e00" d="M172 840h4v4h-4zM192 840h4v4h-4zM168 844h4v4h-4zM196 844h4v4h-4zM164 848h4v4h-4zM200 848h4v4h-4zM164 852h4v4h-4zM200 852h4v4h-4zM164 856h4v4h-4zM200 856h4v4h-4zM164 860h4v4h-4zM196 860h4v4h-4zM168 864h8v4h-8zM192 864h4v4h-4zM180 868h4v4h-4zM224 892h12v4h-12zM212 896h8v4h-8zM244 896h4v4h-4zM208 900h4v4h-4zM248 900h4v4h-4zM208 904h4v4h-4zM252 904h4v4h-4zM208 908h4v4h-4zM252 908h4v4h-4zM208 912h4v4h-4zM252 912h4v4h-4zM212 916h4v4h-4zM248 916h4v4h-4zM216 920h28v4h-28z"/>
<path fill="#f60700" d="M176 840h16v4h-16zM172 844h4v4h-4zM168 848h4v4h-4zM196 848h4v4h-4zM168 852h4v4h-4zM196 852h4v4h-4zM168 856h4v4h-4zM192 856h8v4h-8zM168 860h12v4h-12zM188 860h8v4h-8zM176 864h16v4h-16zM220 896h24v4h-24zM212 900h12v4h-12zM236 900h12v4h-12zM212 904h8v4h-8zM244 904h8v4h-8zM212 908h8v4h-8zM244 908h8v4h-8zM212 912h8v4h-8zM240 912h12v4h-12zM216 916h32v4h-32z"/>
<path fill="#ff0100" d="M176 844h4v4h-4zM192 844h4v4h-4zM172 848h4v4h-4zM192 848h4v4h-4zM172 852h8v4h-8zM192 852h4v4h-4zM172 856h20v4h-20zM180 860h8v4h-8zM224 900h12v4h-12zM220 904h24v4h-24zM220 908h24v4h-24zM220 912h20v4h-20z"/>
<path fill="#ff0d00" d="M180 844h12v4h-12zM176 848h8v4h-8zM188 848h4v4h-4zM180 852h12v4h-12z"/>
<path fill="#ff1900" d="M184 848h4v4h-4z"/>
</g></g>
<line x1="392.2" y1="840.5" x2="387.1" y2="924.5" stroke="#000" stroke-width="2.6" />
<rect x="72" y="840" width="335" height="85" fill="none" stroke="#000" stroke-width="2.6"/>
<text x="77.3" y="867.0" font-size="27.5" text-anchor="start" fill="#fff" >3 uc</text>
<rect x="77" y="910.3" width="54.5" height="7.4" fill="#fff"/>
<line x1="166.5" y1="860.7" x2="193.9" y2="861.4" stroke="#fff" stroke-width="2.6" />
<polygon points="205.9,861.7 192.7,868.2 193.1,854.6" fill="#fff" stroke="none" stroke-width="0"/>
<line x1="167.8" y1="859.4" x2="167.1" y2="885.7" stroke="#fff" stroke-width="2.6" />
<polygon points="166.8,897.7 160.4,884.5 173.9,884.9" fill="#fff" stroke="none" stroke-width="0"/>
<text x="211.0" y="870.0" font-size="27.5" text-anchor="start" fill="#fff" font-style="italic">c</text>
<text x="158.3" y="917.7" font-size="27.5" text-anchor="start" fill="#fff" font-style="italic">a</text>
<text x="252.5" y="893.4" font-size="29" text-anchor="start" fill="#fff" font-family="Liberation Serif">&#949;</text>
<text x="262.5" y="901.0" font-size="21" text-anchor="start" fill="#fff" font-style="italic">zz</text>
<text x="296.8" y="956.8" font-size="27.5" text-anchor="start" fill="#000" >STO</text>
<text x="415.6" y="956.8" font-size="27.5" text-anchor="start" fill="#000" >LAO</text>
<line x1="369.2" y1="948.0" x2="401.2" y2="948.0" stroke="#000" stroke-width="3" />
<polygon points="359.2,948.0 373.2,940.5 373.2,955.5" fill="#000" stroke="none" stroke-width="1.8"/>
<polygon points="411.2,948.0 397.2,940.5 397.2,955.5" fill="#000" stroke="none" stroke-width="1.8"/>
<line x1="386.6" y1="934.0" x2="383.6" y2="960.0" stroke="#000" stroke-width="2.6" />
<text x="-0.7" y="743.4" font-size="40" text-anchor="start" fill="#000" font-weight="bold">c</text>
<text x="485.5" y="743.3" font-size="38.5" text-anchor="start" fill="#000" font-weight="bold">d</text>
<clipPath id="clp3"><rect x="517" y="740.5" width="335.5" height="85.5"/></clipPath>
<g clip-path="url(#clp3)"><g filter="url(#bl25)">
<path fill="#006f52" d="M777 748.5h4v4h-4z"/>
<path fill="#007646" d="M777 744.5h8v4h-8zM773 748.5h4v4h-4zM781 748.5h8v4h-8zM845 796.5h4v4h-4zM845 800.5h4v4h-4z"/>
<path fill="#007d3a" d="M773 744.5h4v4h-4zM785 744.5h4v4h-4zM769 748.5h4v4h-4zM773 752.5h16v4h-16zM841 796.5h4v4h-4zM841 800.5h4v4h-4zM849 800.5h4v4h-4zM841 804.5h8v4h-8z"/>
<path fill="#00852d" d="M777 740.5h4v4h-4zM765 744.5h8v4h-8zM789 744.5h4v4h-4zM765 748.5h4v4h-4zM789 748.5h4v4h-4zM765 752.5h8v4h-8zM789 752.5h4v4h-4zM777 756.5h4v4h-4zM841 792.5h8v4h-8zM837 796.5h4v4h-4zM849 796.5h4v4h-4zM837 800.5h4v4h-4zM837 804.5h4v4h-4zM849 804.5h4v4h-4zM841 808.5h8v4h-8z"/>
<path fill="#008c21" d="M769 740.5h8v4h-8zM781 740.5h8v4h-8zM761 744.5h4v4h-4zM793 744.5h4v4h-4zM757 748.5h8v4h-8zM793 748.5h8v4h-8zM757 752.5h8v4h-8zM793 752.5h4v4h-4zM765 756.5h12v4h-12zM781 756.5h8v4h-8zM637 792.5h56v4h-56zM833 792.5h8v4h-8zM625 796.5h76v4h-76zM829 796.5h8v4h-8zM625 800.5h80v4h-80zM825 800.5h12v4h-12zM629 804.5h76v4h-76zM825 804.5h12v4h-12zM641 808.5h56v4h-56zM741 808.5h44v4h-44zM825 808.5h16v4h-16zM849 808.5h4v4h-4zM685 812.5h8v4h-8zM741 812.5h44v4h-44zM829 812.5h16v4h-16z"/>
<path fill="#009315" d="M765 740.5h4v4h-4zM789 740.5h4v4h-4zM757 744.5h4v4h-4zM797 744.5h4v4h-4zM753 748.5h4v4h-4zM801 748.5h4v4h-4zM753 752.5h4v4h-4zM797 752.5h4v4h-4zM761 756.5h4v4h-4zM789 756.5h8v4h-8zM641 788.5h48v4h-48zM829 788.5h20v4h-20zM625 792.5h12v4h-12zM693 792.5h12v4h-12zM825 792.5h8v4h-8zM849 792.5h4v4h-4zM617 796.5h8v4h-8zM701 796.5h12v4h-12zM825 796.5h4v4h-4zM617 800.5h8v4h-8zM705 800.5h12v4h-12zM821 800.5h4v4h-4zM617 804.5h12v4h-12zM705 804.5h20v4h-20zM733 804.5h48v4h-48zM821 804.5h4v4h-4zM625 808.5h16v4h-16zM697 808.5h44v4h-44zM785 808.5h12v4h-12zM821 808.5h4v4h-4zM533 812.5h24v4h-24zM649 812.5h36v4h-36zM693 812.5h8v4h-8zM725 812.5h16v4h-16zM785 812.5h12v4h-12zM825 812.5h4v4h-4zM845 812.5h4v4h-4zM537 816.5h16v4h-16zM685 816.5h12v4h-12zM741 816.5h48v4h-48zM829 816.5h16v4h-16z"/>
<path fill="#009a09" d="M761 740.5h4v4h-4zM793 740.5h4v4h-4zM521 744.5h4v4h-4zM753 744.5h4v4h-4zM801 744.5h4v4h-4zM517 748.5h8v4h-8zM749 748.5h4v4h-4zM749 752.5h4v4h-4zM801 752.5h4v4h-4zM757 756.5h4v4h-4zM797 756.5h4v4h-4zM773 760.5h8v4h-8zM837 784.5h4v4h-4zM629 788.5h12v4h-12zM689 788.5h8v4h-8zM617 792.5h8v4h-8zM705 792.5h4v4h-4zM613 796.5h4v4h-4zM713 796.5h4v4h-4zM821 796.5h4v4h-4zM853 796.5h4v4h-4zM609 800.5h8v4h-8zM717 800.5h8v4h-8zM853 800.5h4v4h-4zM613 804.5h4v4h-4zM725 804.5h8v4h-8zM781 804.5h8v4h-8zM853 804.5h4v4h-4zM533 808.5h28v4h-28zM621 808.5h4v4h-4zM797 808.5h4v4h-4zM817 808.5h4v4h-4zM525 812.5h8v4h-8zM557 812.5h8v4h-8zM637 812.5h12v4h-12zM701 812.5h24v4h-24zM797 812.5h4v4h-4zM821 812.5h4v4h-4zM849 812.5h4v4h-4zM529 816.5h8v4h-8zM553 816.5h8v4h-8zM677 816.5h8v4h-8zM697 816.5h4v4h-4zM733 816.5h8v4h-8zM789 816.5h4v4h-4zM825 816.5h4v4h-4zM845 816.5h4v4h-4z"/>
<path fill="#039e00" d="M773 736.5h8v4h-8zM757 740.5h4v4h-4zM797 740.5h4v4h-4zM517 744.5h4v4h-4zM749 744.5h4v4h-4zM805 748.5h4v4h-4zM517 752.5h8v4h-8zM805 752.5h4v4h-4zM753 756.5h4v4h-4zM765 760.5h8v4h-8zM781 760.5h8v4h-8zM649 784.5h28v4h-28zM829 784.5h8v4h-8zM841 784.5h4v4h-4zM625 788.5h4v4h-4zM697 788.5h8v4h-8zM825 788.5h4v4h-4zM849 788.5h4v4h-4zM613 792.5h4v4h-4zM709 792.5h4v4h-4zM821 792.5h4v4h-4zM609 796.5h4v4h-4zM717 796.5h4v4h-4zM605 800.5h4v4h-4zM725 800.5h8v4h-8zM817 800.5h4v4h-4zM609 804.5h4v4h-4zM789 804.5h8v4h-8zM817 804.5h4v4h-4zM529 808.5h4v4h-4zM561 808.5h8v4h-8zM613 808.5h8v4h-8zM801 808.5h8v4h-8zM813 808.5h4v4h-4zM853 808.5h4v4h-4zM521 812.5h4v4h-4zM565 812.5h4v4h-4zM629 812.5h8v4h-8zM801 812.5h8v4h-8zM817 812.5h4v4h-4zM525 816.5h4v4h-4zM561 816.5h4v4h-4zM673 816.5h4v4h-4zM701 816.5h4v4h-4zM725 816.5h8v4h-8zM793 816.5h8v4h-8zM821 816.5h4v4h-4zM537 820.5h16v4h-16zM685 820.5h12v4h-12zM753 820.5h20v4h-20zM829 820.5h16v4h-16z"/>
<path fill="#129600" d="M769 736.5h4v4h-4zM781 736.5h8v4h-8zM753 740.5h4v4h-4zM801 740.5h4v4h-4zM525 744.5h4v4h-4zM805 744.5h4v4h-4zM525 748.5h4v4h-4zM745 748.5h4v4h-4zM745 752.5h4v4h-4zM749 756.5h4v4h-4zM801 756.5h4v4h-4zM761 760.5h4v4h-4zM789 760.5h4v4h-4zM641 784.5h8v4h-8zM677 784.5h12v4h-12zM845 784.5h4v4h-4zM621 788.5h4v4h-4zM705 788.5h4v4h-4zM609 792.5h4v4h-4zM713 792.5h4v4h-4zM853 792.5h4v4h-4zM605 796.5h4v4h-4zM721 796.5h4v4h-4zM601 800.5h4v4h-4zM733 800.5h8v4h-8zM541 804.5h16v4h-16zM605 804.5h4v4h-4zM797 804.5h4v4h-4zM813 804.5h4v4h-4zM525 808.5h4v4h-4zM569 808.5h4v4h-4zM609 808.5h4v4h-4zM809 808.5h4v4h-4zM517 812.5h4v4h-4zM569 812.5h4v4h-4zM625 812.5h4v4h-4zM809 812.5h8v4h-8zM521 816.5h4v4h-4zM565 816.5h4v4h-4zM669 816.5h4v4h-4zM705 816.5h4v4h-4zM717 816.5h8v4h-8zM801 816.5h4v4h-4zM849 816.5h4v4h-4zM529 820.5h8v4h-8zM553 820.5h8v4h-8zM681 820.5h4v4h-4zM745 820.5h8v4h-8zM773 820.5h12v4h-12z"/>
<path fill="#208d00" d="M761 736.5h8v4h-8zM789 736.5h4v4h-4zM521 740.5h4v4h-4zM745 744.5h4v4h-4zM809 744.5h4v4h-4zM809 748.5h4v4h-4zM525 752.5h4v4h-4zM809 752.5h4v4h-4zM805 756.5h4v4h-4zM757 760.5h4v4h-4zM793 760.5h4v4h-4zM833 780.5h8v4h-8zM633 784.5h8v4h-8zM689 784.5h8v4h-8zM825 784.5h4v4h-4zM617 788.5h4v4h-4zM709 788.5h4v4h-4zM821 788.5h4v4h-4zM717 792.5h4v4h-4zM601 796.5h4v4h-4zM725 796.5h4v4h-4zM817 796.5h4v4h-4zM597 800.5h4v4h-4zM741 800.5h4v4h-4zM537 804.5h4v4h-4zM557 804.5h8v4h-8zM601 804.5h4v4h-4zM801 804.5h12v4h-12zM521 808.5h4v4h-4zM573 808.5h4v4h-4zM605 808.5h4v4h-4zM513 812.5h4v4h-4zM573 812.5h4v4h-4zM621 812.5h4v4h-4zM853 812.5h4v4h-4zM517 816.5h4v4h-4zM569 816.5h4v4h-4zM661 816.5h8v4h-8zM709 816.5h8v4h-8zM805 816.5h16v4h-16zM525 820.5h4v4h-4zM561 820.5h4v4h-4zM697 820.5h4v4h-4zM737 820.5h8v4h-8zM785 820.5h8v4h-8zM825 820.5h4v4h-4zM845 820.5h4v4h-4z"/>
<path fill="#2f8500" d="M793 736.5h4v4h-4zM517 740.5h4v4h-4zM749 740.5h4v4h-4zM805 740.5h4v4h-4zM513 744.5h4v4h-4zM513 748.5h4v4h-4zM741 748.5h4v4h-4zM741 752.5h4v4h-4zM521 756.5h4v4h-4zM745 756.5h4v4h-4zM797 760.5h4v4h-4zM829 780.5h4v4h-4zM841 780.5h4v4h-4zM625 784.5h8v4h-8zM697 784.5h4v4h-4zM849 784.5h4v4h-4zM613 788.5h4v4h-4zM853 788.5h4v4h-4zM605 792.5h4v4h-4zM721 792.5h4v4h-4zM817 792.5h4v4h-4zM597 796.5h4v4h-4zM729 796.5h4v4h-4zM593 800.5h4v4h-4zM745 800.5h4v4h-4zM765 800.5h24v4h-24zM813 800.5h4v4h-4zM533 804.5h4v4h-4zM565 804.5h8v4h-8zM593 804.5h8v4h-8zM517 808.5h4v4h-4zM577 808.5h4v4h-4zM601 808.5h4v4h-4zM577 812.5h4v4h-4zM613 812.5h8v4h-8zM513 816.5h4v4h-4zM573 816.5h4v4h-4zM649 816.5h12v4h-12zM853 816.5h4v4h-4zM521 820.5h4v4h-4zM565 820.5h4v4h-4zM701 820.5h4v4h-4zM729 820.5h8v4h-8zM793 820.5h4v4h-4zM821 820.5h4v4h-4zM849 820.5h4v4h-4zM833 824.5h12v4h-12z"/>
<path fill="#3e7d00" d="M757 736.5h4v4h-4zM797 736.5h4v4h-4zM525 740.5h4v4h-4zM745 740.5h4v4h-4zM741 744.5h4v4h-4zM813 748.5h4v4h-4zM513 752.5h4v4h-4zM813 752.5h4v4h-4zM517 756.5h4v4h-4zM809 756.5h4v4h-4zM753 760.5h4v4h-4zM801 760.5h4v4h-4zM653 780.5h24v4h-24zM845 780.5h4v4h-4zM621 784.5h4v4h-4zM701 784.5h4v4h-4zM821 784.5h4v4h-4zM609 788.5h4v4h-4zM713 788.5h4v4h-4zM601 792.5h4v4h-4zM593 796.5h4v4h-4zM813 796.5h4v4h-4zM589 800.5h4v4h-4zM749 800.5h16v4h-16zM789 800.5h8v4h-8zM529 804.5h4v4h-4zM573 804.5h20v4h-20zM513 808.5h4v4h-4zM581 808.5h20v4h-20zM581 812.5h4v4h-4zM609 812.5h4v4h-4zM577 816.5h4v4h-4zM645 816.5h4v4h-4zM517 820.5h4v4h-4zM677 820.5h4v4h-4zM725 820.5h4v4h-4zM797 820.5h4v4h-4zM817 820.5h4v4h-4zM533 824.5h20v4h-20zM689 824.5h4v4h-4zM829 824.5h4v4h-4zM845 824.5h4v4h-4z"/>
<path fill="#4b7600" d="M753 736.5h4v4h-4zM801 736.5h4v4h-4zM809 740.5h4v4h-4zM813 744.5h4v4h-4zM529 748.5h4v4h-4zM737 748.5h4v4h-4zM737 752.5h4v4h-4zM525 756.5h4v4h-4zM741 756.5h4v4h-4zM749 760.5h4v4h-4zM805 760.5h4v4h-4zM769 764.5h24v4h-24zM833 776.5h8v4h-8zM637 780.5h16v4h-16zM677 780.5h12v4h-12zM825 780.5h4v4h-4zM849 780.5h4v4h-4zM617 784.5h4v4h-4zM705 784.5h4v4h-4zM853 784.5h4v4h-4zM717 788.5h4v4h-4zM817 788.5h4v4h-4zM597 792.5h4v4h-4zM725 792.5h4v4h-4zM589 796.5h4v4h-4zM733 796.5h4v4h-4zM545 800.5h24v4h-24zM581 800.5h8v4h-8zM797 800.5h16v4h-16zM525 804.5h4v4h-4zM585 812.5h12v4h-12zM601 812.5h8v4h-8zM637 816.5h8v4h-8zM513 820.5h4v4h-4zM569 820.5h4v4h-4zM705 820.5h20v4h-20zM801 820.5h8v4h-8zM813 820.5h4v4h-4zM525 824.5h8v4h-8zM553 824.5h8v4h-8zM685 824.5h4v4h-4zM693 824.5h4v4h-4zM761 824.5h4v4h-4zM825 824.5h4v4h-4z"/>
<path fill="#557100" d="M521 736.5h4v4h-4zM749 736.5h4v4h-4zM805 736.5h4v4h-4zM513 740.5h4v4h-4zM741 740.5h4v4h-4zM813 740.5h4v4h-4zM529 744.5h4v4h-4zM737 744.5h4v4h-4zM817 748.5h4v4h-4zM529 752.5h4v4h-4zM813 756.5h4v4h-4zM745 760.5h4v4h-4zM765 764.5h4v4h-4zM793 764.5h4v4h-4zM829 776.5h4v4h-4zM841 776.5h8v4h-8zM629 780.5h8v4h-8zM689 780.5h8v4h-8zM821 780.5h4v4h-4zM613 784.5h4v4h-4zM709 784.5h4v4h-4zM817 784.5h4v4h-4zM605 788.5h4v4h-4zM593 792.5h4v4h-4zM813 792.5h4v4h-4zM585 796.5h4v4h-4zM541 800.5h4v4h-4zM569 800.5h12v4h-12zM521 804.5h4v4h-4zM597 812.5h4v4h-4zM581 816.5h4v4h-4zM633 816.5h4v4h-4zM573 820.5h4v4h-4zM673 820.5h4v4h-4zM809 820.5h4v4h-4zM853 820.5h4v4h-4zM517 824.5h8v4h-8zM561 824.5h4v4h-4zM697 824.5h4v4h-4zM741 824.5h20v4h-20zM765 824.5h20v4h-20zM821 824.5h4v4h-4zM849 824.5h4v4h-4zM829 828.5h16v4h-16z"/>
<path fill="#5f6c00" d="M517 736.5h4v4h-4zM745 736.5h4v4h-4zM809 736.5h4v4h-4zM817 744.5h4v4h-4zM733 748.5h4v4h-4zM733 752.5h4v4h-4zM817 752.5h4v4h-4zM513 756.5h4v4h-4zM737 756.5h4v4h-4zM809 760.5h4v4h-4zM761 764.5h4v4h-4zM797 764.5h4v4h-4zM825 776.5h4v4h-4zM849 776.5h4v4h-4zM625 780.5h4v4h-4zM697 780.5h8v4h-8zM853 780.5h4v4h-4zM601 788.5h4v4h-4zM721 788.5h4v4h-4zM813 788.5h4v4h-4zM589 792.5h4v4h-4zM729 792.5h4v4h-4zM577 796.5h8v4h-8zM737 796.5h4v4h-4zM809 796.5h4v4h-4zM537 800.5h4v4h-4zM513 804.5h8v4h-8zM585 816.5h4v4h-4zM629 816.5h4v4h-4zM513 824.5h4v4h-4zM565 824.5h4v4h-4zM681 824.5h4v4h-4zM701 824.5h4v4h-4zM729 824.5h12v4h-12zM785 824.5h12v4h-12zM817 824.5h4v4h-4zM853 824.5h4v4h-4zM825 828.5h4v4h-4zM845 828.5h4v4h-4z"/>
<path fill="#696700" d="M513 736.5h4v4h-4zM525 736.5h4v4h-4zM741 736.5h4v4h-4zM813 736.5h4v4h-4zM529 740.5h4v4h-4zM737 740.5h4v4h-4zM817 740.5h4v4h-4zM733 744.5h4v4h-4zM729 748.5h4v4h-4zM729 752.5h4v4h-4zM529 756.5h4v4h-4zM733 756.5h4v4h-4zM817 756.5h4v4h-4zM741 760.5h4v4h-4zM813 760.5h4v4h-4zM753 764.5h8v4h-8zM801 764.5h8v4h-8zM829 772.5h20v4h-20zM633 776.5h60v4h-60zM821 776.5h4v4h-4zM853 776.5h4v4h-4zM621 780.5h4v4h-4zM817 780.5h4v4h-4zM609 784.5h4v4h-4zM713 784.5h4v4h-4zM813 784.5h4v4h-4zM725 788.5h4v4h-4zM585 792.5h4v4h-4zM809 792.5h4v4h-4zM549 796.5h28v4h-28zM781 796.5h28v4h-28zM589 816.5h4v4h-4zM621 816.5h8v4h-8zM577 820.5h4v4h-4zM669 820.5h4v4h-4zM569 824.5h4v4h-4zM705 824.5h4v4h-4zM717 824.5h12v4h-12zM797 824.5h20v4h-20zM521 828.5h40v4h-40zM821 828.5h4v4h-4zM849 828.5h4v4h-4z"/>
<path fill="#736200" d="M529 736.5h4v4h-4zM737 736.5h4v4h-4zM817 736.5h4v4h-4zM733 740.5h4v4h-4zM821 740.5h4v4h-4zM729 744.5h4v4h-4zM821 744.5h4v4h-4zM533 748.5h4v4h-4zM725 748.5h4v4h-4zM821 748.5h4v4h-4zM533 752.5h4v4h-4zM725 752.5h4v4h-4zM821 752.5h4v4h-4zM729 756.5h4v4h-4zM821 756.5h4v4h-4zM517 760.5h8v4h-8zM737 760.5h4v4h-4zM817 760.5h4v4h-4zM749 764.5h4v4h-4zM809 764.5h8v4h-8zM777 768.5h28v4h-28zM833 768.5h8v4h-8zM653 772.5h20v4h-20zM821 772.5h8v4h-8zM849 772.5h8v4h-8zM625 776.5h8v4h-8zM693 776.5h8v4h-8zM817 776.5h4v4h-4zM617 780.5h4v4h-4zM705 780.5h4v4h-4zM813 780.5h4v4h-4zM809 784.5h4v4h-4zM597 788.5h4v4h-4zM809 788.5h4v4h-4zM557 792.5h28v4h-28zM733 792.5h4v4h-4zM805 792.5h4v4h-4zM545 796.5h4v4h-4zM777 796.5h4v4h-4zM533 800.5h4v4h-4zM593 816.5h12v4h-12zM609 816.5h12v4h-12zM581 820.5h4v4h-4zM665 820.5h4v4h-4zM677 824.5h4v4h-4zM709 824.5h8v4h-8zM513 828.5h8v4h-8zM561 828.5h4v4h-4zM685 828.5h16v4h-16zM737 828.5h56v4h-56zM813 828.5h8v4h-8zM853 828.5h4v4h-4z"/>
<path fill="#7d5d00" d="M733 736.5h4v4h-4zM821 736.5h8v4h-8zM533 740.5h4v4h-4zM533 744.5h4v4h-4zM725 744.5h4v4h-4zM537 748.5h4v4h-4zM721 748.5h4v4h-4zM537 752.5h4v4h-4zM713 752.5h12v4h-12zM533 756.5h4v4h-4zM709 756.5h20v4h-20zM513 760.5h4v4h-4zM525 760.5h4v4h-4zM641 760.5h56v4h-56zM729 760.5h8v4h-8zM821 760.5h4v4h-4zM637 764.5h60v4h-60zM741 764.5h8v4h-8zM817 764.5h16v4h-16zM853 764.5h4v4h-4zM633 768.5h68v4h-68zM769 768.5h8v4h-8zM805 768.5h28v4h-28zM841 768.5h16v4h-16zM625 772.5h28v4h-28zM673 772.5h28v4h-28zM785 772.5h36v4h-36zM621 776.5h4v4h-4zM701 776.5h4v4h-4zM797 776.5h20v4h-20zM613 780.5h4v4h-4zM709 780.5h4v4h-4zM797 780.5h16v4h-16zM557 784.5h4v4h-4zM605 784.5h4v4h-4zM717 784.5h4v4h-4zM797 784.5h12v4h-12zM553 788.5h24v4h-24zM593 788.5h4v4h-4zM797 788.5h12v4h-12zM549 792.5h8v4h-8zM789 792.5h16v4h-16zM541 796.5h4v4h-4zM741 796.5h4v4h-4zM773 796.5h4v4h-4zM605 816.5h4v4h-4zM661 820.5h4v4h-4zM573 824.5h4v4h-4zM565 828.5h8v4h-8zM681 828.5h4v4h-4zM701 828.5h36v4h-36zM793 828.5h20v4h-20z"/>
<path fill="#875700" d="M533 736.5h12v4h-12zM725 736.5h8v4h-8zM829 736.5h28v4h-28zM537 740.5h4v4h-4zM725 740.5h8v4h-8zM825 740.5h4v4h-4zM849 740.5h8v4h-8zM537 744.5h12v4h-12zM721 744.5h4v4h-4zM825 744.5h4v4h-4zM853 744.5h4v4h-4zM541 748.5h20v4h-20zM705 748.5h16v4h-16zM825 748.5h4v4h-4zM541 752.5h24v4h-24zM625 752.5h88v4h-88zM825 752.5h4v4h-4zM853 752.5h4v4h-4zM537 756.5h24v4h-24zM625 756.5h84v4h-84zM825 756.5h4v4h-4zM853 756.5h4v4h-4zM529 760.5h32v4h-32zM625 760.5h16v4h-16zM697 760.5h32v4h-32zM825 760.5h8v4h-8zM849 760.5h8v4h-8zM541 764.5h20v4h-20zM625 764.5h12v4h-12zM697 764.5h16v4h-16zM737 764.5h4v4h-4zM833 764.5h20v4h-20zM545 768.5h16v4h-16zM625 768.5h8v4h-8zM701 768.5h8v4h-8zM765 768.5h4v4h-4zM549 772.5h12v4h-12zM621 772.5h4v4h-4zM701 772.5h4v4h-4zM781 772.5h4v4h-4zM549 776.5h16v4h-16zM617 776.5h4v4h-4zM705 776.5h4v4h-4zM785 776.5h12v4h-12zM549 780.5h16v4h-16zM789 780.5h8v4h-8zM549 784.5h8v4h-8zM561 784.5h12v4h-12zM789 784.5h8v4h-8zM549 788.5h4v4h-4zM577 788.5h16v4h-16zM729 788.5h4v4h-4zM789 788.5h8v4h-8zM545 792.5h4v4h-4zM785 792.5h4v4h-4zM529 800.5h4v4h-4zM585 820.5h4v4h-4zM657 820.5h4v4h-4zM577 824.5h4v4h-4zM673 824.5h4v4h-4zM573 828.5h4v4h-4zM677 828.5h4v4h-4z"/>
<path fill="#905000" d="M545 736.5h16v4h-16zM717 736.5h8v4h-8zM541 740.5h12v4h-12zM721 740.5h4v4h-4zM829 740.5h20v4h-20zM549 744.5h12v4h-12zM713 744.5h8v4h-8zM829 744.5h4v4h-4zM849 744.5h4v4h-4zM561 748.5h8v4h-8zM677 748.5h28v4h-28zM849 748.5h8v4h-8zM565 752.5h4v4h-4zM621 752.5h4v4h-4zM849 752.5h4v4h-4zM561 756.5h4v4h-4zM621 756.5h4v4h-4zM829 756.5h4v4h-4zM849 756.5h4v4h-4zM561 760.5h4v4h-4zM621 760.5h4v4h-4zM833 760.5h16v4h-16zM513 764.5h4v4h-4zM537 764.5h4v4h-4zM561 764.5h4v4h-4zM621 764.5h4v4h-4zM713 764.5h8v4h-8zM729 764.5h8v4h-8zM541 768.5h4v4h-4zM561 768.5h4v4h-4zM621 768.5h4v4h-4zM709 768.5h4v4h-4zM761 768.5h4v4h-4zM545 772.5h4v4h-4zM561 772.5h4v4h-4zM705 772.5h4v4h-4zM777 772.5h4v4h-4zM545 776.5h4v4h-4zM565 776.5h4v4h-4zM781 776.5h4v4h-4zM565 780.5h4v4h-4zM609 780.5h4v4h-4zM785 780.5h4v4h-4zM573 784.5h4v4h-4zM601 784.5h4v4h-4zM721 784.5h4v4h-4zM785 784.5h4v4h-4zM545 788.5h4v4h-4zM785 788.5h4v4h-4zM781 792.5h4v4h-4zM769 796.5h4v4h-4zM513 800.5h4v4h-4zM589 820.5h4v4h-4zM653 820.5h4v4h-4zM581 824.5h4v4h-4zM577 828.5h8v4h-8zM673 828.5h4v4h-4z"/>
<path fill="#9a4a00" d="M561 736.5h8v4h-8zM709 736.5h8v4h-8zM553 740.5h12v4h-12zM713 740.5h8v4h-8zM561 744.5h8v4h-8zM701 744.5h12v4h-12zM833 744.5h4v4h-4zM841 744.5h8v4h-8zM569 748.5h4v4h-4zM625 748.5h52v4h-52zM829 748.5h4v4h-4zM845 748.5h4v4h-4zM617 752.5h4v4h-4zM829 752.5h4v4h-4zM845 752.5h4v4h-4zM565 756.5h4v4h-4zM617 756.5h4v4h-4zM833 756.5h16v4h-16zM565 760.5h4v4h-4zM617 760.5h4v4h-4zM517 764.5h8v4h-8zM529 764.5h8v4h-8zM721 764.5h8v4h-8zM565 768.5h4v4h-4zM617 768.5h4v4h-4zM713 768.5h4v4h-4zM737 768.5h24v4h-24zM541 772.5h4v4h-4zM565 772.5h4v4h-4zM617 772.5h4v4h-4zM709 772.5h4v4h-4zM773 772.5h4v4h-4zM613 776.5h4v4h-4zM709 776.5h4v4h-4zM545 780.5h4v4h-4zM569 780.5h4v4h-4zM713 780.5h4v4h-4zM781 780.5h4v4h-4zM545 784.5h4v4h-4zM577 784.5h4v4h-4zM725 784.5h4v4h-4zM781 788.5h4v4h-4zM541 792.5h4v4h-4zM737 792.5h4v4h-4zM777 792.5h4v4h-4zM537 796.5h4v4h-4zM745 796.5h4v4h-4zM517 800.5h12v4h-12zM593 820.5h4v4h-4zM649 820.5h4v4h-4zM585 824.5h4v4h-4zM669 824.5h4v4h-4zM585 828.5h4v4h-4zM669 828.5h4v4h-4z"/>
<path fill="#a34400" d="M569 736.5h8v4h-8zM697 736.5h12v4h-12zM565 740.5h4v4h-4zM705 740.5h8v4h-8zM569 744.5h4v4h-4zM693 744.5h8v4h-8zM837 744.5h4v4h-4zM617 748.5h8v4h-8zM833 748.5h12v4h-12zM569 752.5h4v4h-4zM613 752.5h4v4h-4zM833 752.5h12v4h-12zM525 764.5h4v4h-4zM565 764.5h4v4h-4zM617 764.5h4v4h-4zM537 768.5h4v4h-4zM733 768.5h4v4h-4zM541 776.5h4v4h-4zM569 776.5h4v4h-4zM777 776.5h4v4h-4zM573 780.5h4v4h-4zM581 784.5h4v4h-4zM597 784.5h4v4h-4zM781 784.5h4v4h-4zM733 788.5h4v4h-4zM765 796.5h4v4h-4zM597 820.5h4v4h-4zM641 820.5h8v4h-8zM665 824.5h4v4h-4zM589 828.5h8v4h-8zM661 828.5h8v4h-8z"/>
<path fill="#ad3d00" d="M577 736.5h8v4h-8zM689 736.5h8v4h-8zM569 740.5h8v4h-8zM697 740.5h8v4h-8zM573 744.5h4v4h-4zM681 744.5h12v4h-12zM573 748.5h4v4h-4zM613 748.5h4v4h-4zM569 756.5h4v4h-4zM613 756.5h4v4h-4zM513 768.5h4v4h-4zM533 768.5h4v4h-4zM717 768.5h16v4h-16zM569 772.5h4v4h-4zM613 772.5h4v4h-4zM713 772.5h4v4h-4zM769 772.5h4v4h-4zM713 776.5h4v4h-4zM541 780.5h4v4h-4zM605 780.5h4v4h-4zM717 780.5h4v4h-4zM585 784.5h12v4h-12zM729 784.5h4v4h-4zM541 788.5h4v4h-4zM533 796.5h4v4h-4zM749 796.5h4v4h-4zM601 820.5h4v4h-4zM637 820.5h4v4h-4zM589 824.5h4v4h-4zM661 824.5h4v4h-4zM597 828.5h4v4h-4zM653 828.5h8v4h-8z"/>
<path fill="#b63700" d="M585 736.5h8v4h-8zM681 736.5h8v4h-8zM577 740.5h4v4h-4zM689 740.5h8v4h-8zM577 744.5h4v4h-4zM669 744.5h12v4h-12zM609 748.5h4v4h-4zM573 752.5h4v4h-4zM609 752.5h4v4h-4zM569 760.5h4v4h-4zM613 760.5h4v4h-4zM569 764.5h4v4h-4zM613 764.5h4v4h-4zM569 768.5h4v4h-4zM613 768.5h4v4h-4zM537 772.5h4v4h-4zM737 772.5h8v4h-8zM573 776.5h4v4h-4zM609 776.5h4v4h-4zM773 776.5h4v4h-4zM577 780.5h4v4h-4zM721 780.5h4v4h-4zM777 780.5h4v4h-4zM541 784.5h4v4h-4zM777 784.5h4v4h-4zM777 788.5h4v4h-4zM537 792.5h4v4h-4zM773 792.5h4v4h-4zM513 796.5h4v4h-4zM753 796.5h4v4h-4zM761 796.5h4v4h-4zM605 820.5h32v4h-32zM593 824.5h4v4h-4zM657 824.5h4v4h-4zM601 828.5h8v4h-8zM645 828.5h8v4h-8z"/>
<path fill="#c03100" d="M593 736.5h12v4h-12zM669 736.5h12v4h-12zM581 740.5h4v4h-4zM681 740.5h8v4h-8zM653 744.5h16v4h-16zM577 748.5h4v4h-4zM605 748.5h4v4h-4zM517 768.5h4v4h-4zM529 768.5h4v4h-4zM717 772.5h4v4h-4zM729 772.5h8v4h-8zM745 772.5h4v4h-4zM765 772.5h4v4h-4zM717 776.5h4v4h-4zM601 780.5h4v4h-4zM725 780.5h8v4h-8zM733 784.5h4v4h-4zM741 792.5h4v4h-4zM757 796.5h4v4h-4zM597 824.5h8v4h-8zM649 824.5h8v4h-8zM609 828.5h36v4h-36z"/>
<path fill="#c92a00" d="M605 736.5h24v4h-24zM653 736.5h16v4h-16zM585 740.5h4v4h-4zM673 740.5h8v4h-8zM581 744.5h4v4h-4zM609 744.5h44v4h-44zM581 748.5h4v4h-4zM577 752.5h4v4h-4zM573 756.5h4v4h-4zM609 756.5h4v4h-4zM521 768.5h8v4h-8zM513 772.5h4v4h-4zM533 772.5h4v4h-4zM573 772.5h4v4h-4zM609 772.5h4v4h-4zM721 772.5h8v4h-8zM749 772.5h4v4h-4zM761 772.5h4v4h-4zM537 776.5h4v4h-4zM605 776.5h4v4h-4zM721 776.5h16v4h-16zM581 780.5h4v4h-4zM733 780.5h4v4h-4zM537 788.5h4v4h-4zM737 788.5h4v4h-4zM517 796.5h4v4h-4zM529 796.5h4v4h-4zM605 824.5h4v4h-4zM645 824.5h4v4h-4z"/>
<path fill="#d22300" d="M629 736.5h24v4h-24zM589 740.5h24v4h-24zM661 740.5h12v4h-12zM585 744.5h24v4h-24zM601 748.5h4v4h-4zM605 752.5h4v4h-4zM573 760.5h4v4h-4zM609 760.5h4v4h-4zM573 768.5h4v4h-4zM609 768.5h4v4h-4zM753 772.5h8v4h-8zM577 776.5h4v4h-4zM737 776.5h4v4h-4zM769 776.5h4v4h-4zM537 780.5h4v4h-4zM585 780.5h4v4h-4zM597 780.5h4v4h-4zM773 780.5h4v4h-4zM537 784.5h4v4h-4zM773 784.5h4v4h-4zM773 788.5h4v4h-4zM533 792.5h4v4h-4zM769 792.5h4v4h-4zM521 796.5h8v4h-8zM609 824.5h36v4h-36z"/>
<path fill="#db1c00" d="M613 740.5h48v4h-48zM585 748.5h16v4h-16zM581 752.5h4v4h-4zM577 756.5h4v4h-4zM605 756.5h4v4h-4zM573 764.5h4v4h-4zM609 764.5h4v4h-4zM517 772.5h4v4h-4zM529 772.5h4v4h-4zM513 776.5h4v4h-4zM533 776.5h4v4h-4zM741 776.5h4v4h-4zM589 780.5h8v4h-8zM737 780.5h4v4h-4zM737 784.5h4v4h-4zM513 792.5h4v4h-4zM745 792.5h4v4h-4z"/>
<path fill="#e41500" d="M601 752.5h4v4h-4zM521 772.5h8v4h-8zM577 772.5h4v4h-4zM605 772.5h4v4h-4zM581 776.5h4v4h-4zM601 776.5h4v4h-4zM745 776.5h4v4h-4zM765 776.5h4v4h-4zM769 780.5h4v4h-4zM513 788.5h4v4h-4zM533 788.5h4v4h-4zM741 788.5h4v4h-4zM769 788.5h4v4h-4zM765 792.5h4v4h-4z"/>
<path fill="#ed0e00" d="M585 752.5h16v4h-16zM581 756.5h4v4h-4zM601 756.5h4v4h-4zM577 760.5h4v4h-4zM605 760.5h4v4h-4zM577 764.5h4v4h-4zM605 764.5h4v4h-4zM577 768.5h4v4h-4zM605 768.5h4v4h-4zM601 772.5h4v4h-4zM517 776.5h4v4h-4zM529 776.5h4v4h-4zM585 776.5h4v4h-4zM597 776.5h4v4h-4zM749 776.5h4v4h-4zM757 776.5h8v4h-8zM513 780.5h4v4h-4zM533 780.5h4v4h-4zM741 780.5h4v4h-4zM513 784.5h4v4h-4zM533 784.5h4v4h-4zM741 784.5h4v4h-4zM769 784.5h4v4h-4zM517 792.5h16v4h-16zM749 792.5h4v4h-4zM761 792.5h4v4h-4z"/>
<path fill="#f60700" d="M585 756.5h16v4h-16zM581 760.5h4v4h-4zM601 760.5h4v4h-4zM581 764.5h4v4h-4zM601 764.5h4v4h-4zM581 768.5h4v4h-4zM601 768.5h4v4h-4zM581 772.5h8v4h-8zM597 772.5h4v4h-4zM521 776.5h8v4h-8zM589 776.5h8v4h-8zM753 776.5h4v4h-4zM517 780.5h4v4h-4zM529 780.5h4v4h-4zM745 780.5h4v4h-4zM761 780.5h8v4h-8zM517 784.5h4v4h-4zM529 784.5h4v4h-4zM745 784.5h4v4h-4zM765 784.5h4v4h-4zM517 788.5h16v4h-16zM745 788.5h4v4h-4zM765 788.5h4v4h-4zM753 792.5h8v4h-8z"/>
<path fill="#ff0100" d="M585 760.5h16v4h-16zM585 764.5h16v4h-16zM585 768.5h16v4h-16zM589 772.5h8v4h-8zM521 780.5h8v4h-8zM749 780.5h12v4h-12zM521 784.5h8v4h-8zM749 784.5h16v4h-16zM749 788.5h16v4h-16z"/>
</g></g>
<line x1="827.5" y1="741.5" x2="812.2" y2="825.0" stroke="#000" stroke-width="2.6" />
<rect x="517" y="740.5" width="335.5" height="85.5" fill="none" stroke="#000" stroke-width="2.6"/>
<text x="525.3" y="769.3" font-size="27.5" text-anchor="start" fill="#fff" >4 uc</text>
<rect x="525.3" y="809.5" width="54.7" height="7.9" fill="#fff"/>
<line x1="619.4" y1="754.0" x2="647.2" y2="759.0" stroke="#fff" stroke-width="2.6" />
<polygon points="659.0,761.2 645.0,765.6 647.4,752.2" fill="#fff" stroke="none" stroke-width="0"/>
<line x1="620.9" y1="752.9" x2="615.9" y2="780.8" stroke="#fff" stroke-width="2.6" />
<polygon points="613.7,792.6 609.3,778.6 622.7,781.0" fill="#fff" stroke="none" stroke-width="0"/>
<text x="662.6" y="770.5" font-size="27.5" text-anchor="start" fill="#fff" font-style="italic">c</text>
<text x="602.0" y="813.5" font-size="27.5" text-anchor="start" fill="#fff" font-style="italic">a</text>
<text x="690.5" y="792.8" font-size="29" text-anchor="start" fill="#fff" font-family="Liberation Serif">&#949;</text>
<text x="701.0" y="801.0" font-size="21" text-anchor="start" fill="#fff" font-style="italic">xx</text>
<clipPath id="clp4"><rect x="517" y="840" width="334.5" height="85.5"/></clipPath>
<g clip-path="url(#clp4)"><g filter="url(#bl25)">
<path fill="#00685e" d="M589 848h4v4h-4z"/>
<path fill="#006f52" d="M585 848h4v4h-4zM713 908h8v4h-8zM713 912h8v4h-8z"/>
<path fill="#007646" d="M589 844h4v4h-4zM709 908h4v4h-4zM709 912h4v4h-4zM721 912h4v4h-4z"/>
<path fill="#007d3a" d="M585 844h4v4h-4zM593 848h4v4h-4zM721 908h4v4h-4z"/>
<path fill="#00852d" d="M593 844h4v4h-4zM713 904h4v4h-4zM705 908h4v4h-4zM725 908h4v4h-4zM705 912h4v4h-4zM725 912h4v4h-4z"/>
<path fill="#008c21" d="M581 844h4v4h-4zM581 848h4v4h-4zM705 904h8v4h-8zM717 904h8v4h-8zM701 908h4v4h-4zM701 912h4v4h-4zM713 916h8v4h-8z"/>
<path fill="#009315" d="M577 844h4v4h-4zM565 848h16v4h-16zM585 852h8v4h-8zM765 852h16v4h-16zM761 856h28v4h-28zM761 860h28v4h-28zM765 864h16v4h-16zM533 872h24v4h-24zM529 876h32v4h-32zM529 880h32v4h-32zM529 884h32v4h-32zM533 888h24v4h-24zM701 900h24v4h-24zM693 904h12v4h-12zM725 904h4v4h-4zM693 908h8v4h-8zM729 908h4v4h-4zM697 912h4v4h-4zM729 912h4v4h-4zM709 916h4v4h-4zM721 916h4v4h-4z"/>
<path fill="#009a09" d="M557 844h20v4h-20zM553 848h12v4h-12zM597 848h4v4h-4zM769 848h12v4h-12zM565 852h8v4h-8zM581 852h4v4h-4zM593 852h4v4h-4zM757 852h8v4h-8zM781 852h8v4h-8zM757 856h4v4h-4zM789 856h4v4h-4zM757 860h4v4h-4zM789 860h4v4h-4zM757 864h8v4h-8zM781 864h8v4h-8zM529 868h32v4h-32zM769 868h12v4h-12zM525 872h8v4h-8zM557 872h8v4h-8zM521 876h8v4h-8zM561 876h8v4h-8zM521 880h8v4h-8zM561 880h8v4h-8zM521 884h8v4h-8zM561 884h8v4h-8zM525 888h8v4h-8zM557 888h8v4h-8zM529 892h32v4h-32zM693 900h8v4h-8zM725 900h4v4h-4zM689 904h4v4h-4zM729 904h8v4h-8zM689 908h4v4h-4zM733 908h4v4h-4zM693 912h4v4h-4zM701 916h8v4h-8z"/>
<path fill="#039e00" d="M569 840h24v4h-24zM553 844h4v4h-4zM597 844h4v4h-4zM549 848h4v4h-4zM761 848h8v4h-8zM781 848h4v4h-4zM549 852h16v4h-16zM573 852h8v4h-8zM789 852h4v4h-4zM753 856h4v4h-4zM793 856h4v4h-4zM753 860h4v4h-4zM793 860h4v4h-4zM533 864h28v4h-28zM753 864h4v4h-4zM789 864h4v4h-4zM525 868h4v4h-4zM561 868h4v4h-4zM761 868h8v4h-8zM781 868h4v4h-4zM521 872h4v4h-4zM565 872h4v4h-4zM517 876h4v4h-4zM569 876h4v4h-4zM517 880h4v4h-4zM569 880h4v4h-4zM517 884h4v4h-4zM569 884h4v4h-4zM521 888h4v4h-4zM565 888h4v4h-4zM525 892h4v4h-4zM561 892h4v4h-4zM533 896h24v4h-24zM701 896h24v4h-24zM689 900h4v4h-4zM729 900h8v4h-8zM685 904h4v4h-4zM685 908h4v4h-4zM737 908h4v4h-4zM689 912h4v4h-4zM733 912h4v4h-4zM697 916h4v4h-4zM725 916h4v4h-4z"/>
<path fill="#129600" d="M557 840h12v4h-12zM593 840h4v4h-4zM545 844h8v4h-8zM545 848h4v4h-4zM757 848h4v4h-4zM785 848h4v4h-4zM545 852h4v4h-4zM753 852h4v4h-4zM793 852h4v4h-4zM545 856h28v4h-28zM533 860h28v4h-28zM525 864h8v4h-8zM561 864h4v4h-4zM793 864h4v4h-4zM521 868h4v4h-4zM565 868h4v4h-4zM757 868h4v4h-4zM785 868h4v4h-4zM517 872h4v4h-4zM569 872h4v4h-4zM513 876h4v4h-4zM513 880h4v4h-4zM573 880h4v4h-4zM513 884h4v4h-4zM517 888h4v4h-4zM569 888h4v4h-4zM521 892h4v4h-4zM565 892h4v4h-4zM525 896h8v4h-8zM557 896h8v4h-8zM693 896h8v4h-8zM725 896h4v4h-4zM537 900h16v4h-16zM685 900h4v4h-4zM681 904h4v4h-4zM737 904h4v4h-4zM681 908h4v4h-4zM685 912h4v4h-4zM737 912h4v4h-4zM693 916h4v4h-4zM729 916h4v4h-4z"/>
<path fill="#208d00" d="M553 840h4v4h-4zM601 844h4v4h-4zM765 844h20v4h-20zM541 848h4v4h-4zM601 848h4v4h-4zM789 848h4v4h-4zM537 852h8v4h-8zM597 852h4v4h-4zM537 856h8v4h-8zM573 856h8v4h-8zM749 856h4v4h-4zM797 856h4v4h-4zM529 860h4v4h-4zM561 860h8v4h-8zM749 860h4v4h-4zM797 860h4v4h-4zM521 864h4v4h-4zM565 864h4v4h-4zM749 864h4v4h-4zM517 868h4v4h-4zM569 868h4v4h-4zM753 868h4v4h-4zM789 868h4v4h-4zM513 872h4v4h-4zM573 872h4v4h-4zM765 872h20v4h-20zM573 876h4v4h-4zM573 884h4v4h-4zM513 888h4v4h-4zM573 888h4v4h-4zM517 892h4v4h-4zM569 892h4v4h-4zM521 896h4v4h-4zM565 896h4v4h-4zM689 896h4v4h-4zM729 896h8v4h-8zM529 900h8v4h-8zM553 900h8v4h-8zM681 900h4v4h-4zM737 900h4v4h-4zM677 904h4v4h-4zM741 904h4v4h-4zM677 908h4v4h-4zM741 908h4v4h-4zM681 912h4v4h-4zM689 916h4v4h-4zM733 916h4v4h-4zM705 920h16v4h-16z"/>
<path fill="#2f8500" d="M549 840h4v4h-4zM597 840h4v4h-4zM541 844h4v4h-4zM761 844h4v4h-4zM785 844h4v4h-4zM537 848h4v4h-4zM753 848h4v4h-4zM793 848h4v4h-4zM533 852h4v4h-4zM749 852h4v4h-4zM797 852h4v4h-4zM529 856h8v4h-8zM581 856h8v4h-8zM801 856h4v4h-4zM525 860h4v4h-4zM569 860h4v4h-4zM801 860h4v4h-4zM517 864h4v4h-4zM569 864h4v4h-4zM797 864h4v4h-4zM513 868h4v4h-4zM573 868h4v4h-4zM793 868h4v4h-4zM577 872h4v4h-4zM761 872h4v4h-4zM785 872h4v4h-4zM577 876h4v4h-4zM577 880h4v4h-4zM577 884h4v4h-4zM513 892h4v4h-4zM573 892h4v4h-4zM697 892h28v4h-28zM517 896h4v4h-4zM569 896h4v4h-4zM685 896h4v4h-4zM737 896h4v4h-4zM525 900h4v4h-4zM561 900h4v4h-4zM677 900h4v4h-4zM741 900h4v4h-4zM541 904h8v4h-8zM745 904h4v4h-4zM745 908h4v4h-4zM677 912h4v4h-4zM741 912h4v4h-4zM685 916h4v4h-4zM737 916h4v4h-4zM697 920h8v4h-8zM721 920h8v4h-8z"/>
<path fill="#3e7d00" d="M565 836h20v4h-20zM545 840h4v4h-4zM601 840h4v4h-4zM537 844h4v4h-4zM605 844h4v4h-4zM757 844h4v4h-4zM789 844h4v4h-4zM533 848h4v4h-4zM605 848h4v4h-4zM797 848h4v4h-4zM529 852h4v4h-4zM601 852h4v4h-4zM801 852h4v4h-4zM525 856h4v4h-4zM589 856h4v4h-4zM521 860h4v4h-4zM573 860h8v4h-8zM745 860h4v4h-4zM513 864h4v4h-4zM573 864h4v4h-4zM801 864h4v4h-4zM577 868h4v4h-4zM749 868h4v4h-4zM797 868h4v4h-4zM757 872h4v4h-4zM789 872h4v4h-4zM577 888h4v4h-4zM693 892h4v4h-4zM725 892h8v4h-8zM513 896h4v4h-4zM681 896h4v4h-4zM521 900h4v4h-4zM565 900h4v4h-4zM745 900h4v4h-4zM529 904h12v4h-12zM549 904h12v4h-12zM673 904h4v4h-4zM673 908h4v4h-4zM745 912h4v4h-4zM681 916h4v4h-4zM693 920h4v4h-4zM729 920h4v4h-4z"/>
<path fill="#4b7600" d="M557 836h8v4h-8zM585 836h8v4h-8zM541 840h4v4h-4zM605 840h4v4h-4zM761 840h24v4h-24zM533 844h4v4h-4zM609 844h4v4h-4zM753 844h4v4h-4zM793 844h4v4h-4zM529 848h4v4h-4zM609 848h4v4h-4zM749 848h4v4h-4zM525 852h4v4h-4zM605 852h4v4h-4zM521 856h4v4h-4zM593 856h4v4h-4zM745 856h4v4h-4zM805 856h4v4h-4zM517 860h4v4h-4zM581 860h4v4h-4zM805 860h4v4h-4zM577 864h4v4h-4zM745 864h4v4h-4zM581 868h4v4h-4zM581 872h4v4h-4zM753 872h4v4h-4zM793 872h4v4h-4zM581 876h4v4h-4zM769 876h16v4h-16zM581 880h4v4h-4zM581 884h4v4h-4zM577 892h4v4h-4zM685 892h8v4h-8zM733 892h4v4h-4zM573 896h4v4h-4zM677 896h4v4h-4zM741 896h4v4h-4zM517 900h4v4h-4zM569 900h4v4h-4zM673 900h4v4h-4zM525 904h4v4h-4zM561 904h4v4h-4zM669 904h4v4h-4zM749 904h4v4h-4zM541 908h8v4h-8zM669 908h4v4h-4zM749 908h4v4h-4zM673 912h4v4h-4zM749 912h4v4h-4zM677 916h4v4h-4zM741 916h4v4h-4zM685 920h8v4h-8zM733 920h4v4h-4z"/>
<path fill="#557100" d="M549 836h8v4h-8zM593 836h4v4h-4zM533 840h8v4h-8zM609 840h4v4h-4zM757 840h4v4h-4zM785 840h8v4h-8zM529 844h4v4h-4zM613 844h4v4h-4zM797 844h4v4h-4zM525 848h4v4h-4zM613 848h4v4h-4zM801 848h4v4h-4zM521 852h4v4h-4zM609 852h4v4h-4zM745 852h4v4h-4zM805 852h4v4h-4zM517 856h4v4h-4zM597 856h4v4h-4zM513 860h4v4h-4zM585 860h4v4h-4zM581 864h4v4h-4zM805 864h4v4h-4zM641 868h8v4h-8zM745 868h4v4h-4zM801 868h4v4h-4zM585 872h4v4h-4zM749 872h4v4h-4zM797 872h4v4h-4zM585 876h4v4h-4zM765 876h4v4h-4zM785 876h8v4h-8zM585 880h4v4h-4zM581 888h4v4h-4zM701 888h24v4h-24zM681 892h4v4h-4zM737 892h4v4h-4zM673 896h4v4h-4zM745 896h4v4h-4zM513 900h4v4h-4zM669 900h4v4h-4zM749 900h4v4h-4zM517 904h8v4h-8zM565 904h4v4h-4zM529 908h12v4h-12zM549 908h12v4h-12zM753 908h4v4h-4zM669 912h4v4h-4zM673 916h4v4h-4zM745 916h4v4h-4zM681 920h4v4h-4zM737 920h4v4h-4zM697 924h28v4h-28z"/>
<path fill="#5f6c00" d="M541 836h8v4h-8zM597 836h8v4h-8zM769 836h12v4h-12zM529 840h4v4h-4zM613 840h4v4h-4zM753 840h4v4h-4zM793 840h4v4h-4zM525 844h4v4h-4zM617 844h4v4h-4zM749 844h4v4h-4zM801 844h4v4h-4zM521 848h4v4h-4zM617 848h4v4h-4zM805 848h4v4h-4zM517 852h4v4h-4zM613 852h4v4h-4zM809 852h4v4h-4zM513 856h4v4h-4zM601 856h4v4h-4zM809 856h4v4h-4zM589 860h4v4h-4zM641 860h4v4h-4zM809 860h4v4h-4zM585 864h4v4h-4zM637 864h16v4h-16zM809 864h4v4h-4zM585 868h4v4h-4zM637 868h4v4h-4zM649 868h4v4h-4zM805 868h4v4h-4zM637 872h16v4h-16zM745 872h4v4h-4zM801 872h4v4h-4zM641 876h8v4h-8zM761 876h4v4h-4zM793 876h4v4h-4zM585 884h4v4h-4zM689 888h12v4h-12zM725 888h8v4h-8zM677 892h4v4h-4zM741 892h4v4h-4zM577 896h4v4h-4zM669 896h4v4h-4zM573 900h4v4h-4zM665 900h4v4h-4zM513 904h4v4h-4zM569 904h4v4h-4zM665 904h4v4h-4zM753 904h4v4h-4zM521 908h8v4h-8zM561 908h8v4h-8zM665 908h4v4h-4zM757 908h4v4h-4zM537 912h16v4h-16zM665 912h4v4h-4zM753 912h4v4h-4zM669 916h4v4h-4zM749 916h4v4h-4zM677 920h4v4h-4zM741 920h8v4h-8zM689 924h8v4h-8zM725 924h8v4h-8z"/>
<path fill="#696700" d="M533 836h8v4h-8zM605 836h8v4h-8zM757 836h12v4h-12zM781 836h12v4h-12zM525 840h4v4h-4zM617 840h4v4h-4zM797 840h8v4h-8zM517 844h8v4h-8zM621 844h4v4h-4zM805 844h4v4h-4zM513 848h8v4h-8zM621 848h4v4h-4zM745 848h4v4h-4zM809 848h4v4h-4zM513 852h4v4h-4zM617 852h4v4h-4zM813 852h4v4h-4zM605 856h8v4h-8zM641 856h4v4h-4zM813 856h4v4h-4zM593 860h8v4h-8zM633 860h8v4h-8zM645 860h8v4h-8zM741 860h4v4h-4zM813 860h4v4h-4zM589 864h8v4h-8zM633 864h4v4h-4zM741 864h4v4h-4zM813 864h4v4h-4zM589 868h4v4h-4zM633 868h4v4h-4zM653 868h4v4h-4zM741 868h4v4h-4zM809 868h4v4h-4zM589 872h4v4h-4zM633 872h4v4h-4zM653 872h4v4h-4zM805 872h4v4h-4zM589 876h4v4h-4zM637 876h4v4h-4zM649 876h4v4h-4zM749 876h12v4h-12zM797 876h4v4h-4zM589 880h4v4h-4zM641 880h8v4h-8zM773 880h20v4h-20zM681 888h8v4h-8zM733 888h8v4h-8zM581 892h4v4h-4zM669 892h8v4h-8zM665 896h4v4h-4zM661 900h4v4h-4zM753 900h4v4h-4zM573 904h4v4h-4zM657 904h8v4h-8zM757 904h4v4h-4zM513 908h8v4h-8zM569 908h4v4h-4zM657 908h8v4h-8zM761 908h4v4h-4zM521 912h16v4h-16zM553 912h12v4h-12zM661 912h4v4h-4zM757 912h4v4h-4zM665 916h4v4h-4zM753 916h8v4h-8zM669 920h8v4h-8zM749 920h4v4h-4zM681 924h8v4h-8zM733 924h12v4h-12zM701 928h20v4h-20z"/>
<path fill="#736200" d="M525 836h8v4h-8zM613 836h8v4h-8zM753 836h4v4h-4zM793 836h12v4h-12zM513 840h12v4h-12zM621 840h8v4h-8zM749 840h4v4h-4zM805 840h8v4h-8zM513 844h4v4h-4zM625 844h8v4h-8zM745 844h4v4h-4zM809 844h8v4h-8zM625 848h12v4h-12zM813 848h8v4h-8zM621 852h28v4h-28zM817 852h4v4h-4zM613 856h28v4h-28zM645 856h8v4h-8zM741 856h4v4h-4zM817 856h8v4h-8zM601 860h12v4h-12zM629 860h4v4h-4zM653 860h4v4h-4zM817 860h8v4h-8zM597 864h4v4h-4zM629 864h4v4h-4zM653 864h4v4h-4zM817 864h4v4h-4zM593 868h8v4h-8zM629 868h4v4h-4zM813 868h8v4h-8zM593 872h4v4h-4zM629 872h4v4h-4zM657 872h4v4h-4zM741 872h4v4h-4zM809 872h8v4h-8zM593 876h4v4h-4zM633 876h4v4h-4zM653 876h8v4h-8zM741 876h8v4h-8zM801 876h8v4h-8zM637 880h4v4h-4zM649 880h8v4h-8zM769 880h4v4h-4zM793 880h8v4h-8zM641 884h12v4h-12zM689 884h52v4h-52zM777 884h8v4h-8zM585 888h4v4h-4zM669 888h12v4h-12zM741 888h4v4h-4zM661 892h8v4h-8zM745 892h4v4h-4zM657 896h8v4h-8zM749 896h4v4h-4zM577 900h4v4h-4zM653 900h8v4h-8zM757 900h4v4h-4zM653 904h4v4h-4zM761 904h8v4h-8zM573 908h4v4h-4zM653 908h4v4h-4zM765 908h4v4h-4zM513 912h8v4h-8zM565 912h8v4h-8zM653 912h8v4h-8zM761 912h8v4h-8zM517 916h52v4h-52zM657 916h8v4h-8zM761 916h4v4h-4zM537 920h16v4h-16zM661 920h8v4h-8zM753 920h8v4h-8zM669 924h12v4h-12zM745 924h8v4h-8zM681 928h20v4h-20zM721 928h20v4h-20z"/>
<path fill="#7d5d00" d="M513 836h12v4h-12zM621 836h24v4h-24zM745 836h8v4h-8zM805 836h28v4h-28zM629 840h20v4h-20zM745 840h4v4h-4zM813 840h20v4h-20zM633 844h16v4h-16zM817 844h16v4h-16zM637 848h16v4h-16zM821 848h8v4h-8zM649 852h4v4h-4zM741 852h4v4h-4zM821 852h8v4h-8zM653 856h4v4h-4zM825 856h4v4h-4zM613 860h16v4h-16zM825 860h4v4h-4zM601 864h28v4h-28zM657 864h4v4h-4zM821 864h8v4h-8zM601 868h12v4h-12zM621 868h8v4h-8zM657 868h4v4h-4zM737 868h4v4h-4zM821 868h8v4h-8zM597 872h8v4h-8zM625 872h4v4h-4zM661 872h4v4h-4zM737 872h4v4h-4zM817 872h12v4h-12zM597 876h4v4h-4zM629 876h4v4h-4zM661 876h4v4h-4zM737 876h4v4h-4zM809 876h16v4h-16zM593 880h4v4h-4zM633 880h4v4h-4zM657 880h12v4h-12zM729 880h20v4h-20zM765 880h4v4h-4zM801 880h12v4h-12zM589 884h4v4h-4zM637 884h4v4h-4zM653 884h36v4h-36zM741 884h4v4h-4zM773 884h4v4h-4zM785 884h12v4h-12zM641 888h28v4h-28zM745 888h4v4h-4zM777 888h8v4h-8zM645 892h16v4h-16zM581 896h4v4h-4zM645 896h12v4h-12zM645 900h8v4h-8zM761 900h8v4h-8zM577 904h4v4h-4zM645 904h8v4h-8zM769 904h4v4h-4zM645 908h8v4h-8zM769 908h4v4h-4zM573 912h4v4h-4zM645 912h8v4h-8zM769 912h4v4h-4zM513 916h4v4h-4zM569 916h8v4h-8zM645 916h12v4h-12zM765 916h8v4h-8zM513 920h24v4h-24zM553 920h20v4h-20zM649 920h12v4h-12zM761 920h12v4h-12zM513 924h60v4h-60zM649 924h20v4h-20zM753 924h20v4h-20zM513 928h60v4h-60zM649 928h32v4h-32zM741 928h32v4h-32z"/>
<path fill="#875700" d="M645 836h20v4h-20zM741 836h4v4h-4zM833 836h24v4h-24zM649 840h12v4h-12zM833 840h24v4h-24zM649 844h8v4h-8zM833 844h8v4h-8zM845 844h12v4h-12zM653 848h4v4h-4zM741 848h4v4h-4zM829 848h8v4h-8zM849 848h8v4h-8zM653 852h4v4h-4zM829 852h8v4h-8zM853 852h4v4h-4zM657 856h4v4h-4zM829 856h4v4h-4zM853 856h4v4h-4zM657 860h4v4h-4zM829 860h4v4h-4zM853 860h4v4h-4zM661 864h4v4h-4zM737 864h4v4h-4zM829 864h4v4h-4zM853 864h4v4h-4zM613 868h8v4h-8zM661 868h4v4h-4zM829 868h4v4h-4zM853 868h4v4h-4zM605 872h20v4h-20zM665 872h4v4h-4zM829 872h4v4h-4zM853 872h4v4h-4zM601 876h4v4h-4zM621 876h8v4h-8zM665 876h12v4h-12zM729 876h8v4h-8zM825 876h8v4h-8zM853 876h4v4h-4zM629 880h4v4h-4zM669 880h60v4h-60zM749 880h8v4h-8zM761 880h4v4h-4zM813 880h16v4h-16zM633 884h4v4h-4zM745 884h4v4h-4zM769 884h4v4h-4zM797 884h28v4h-28zM637 888h4v4h-4zM773 888h4v4h-4zM785 888h8v4h-8zM585 892h4v4h-4zM637 892h8v4h-8zM749 892h4v4h-4zM773 892h12v4h-12zM641 896h4v4h-4zM753 896h4v4h-4zM769 896h12v4h-12zM581 900h4v4h-4zM641 900h4v4h-4zM769 900h12v4h-12zM641 904h4v4h-4zM773 904h4v4h-4zM577 908h4v4h-4zM641 908h4v4h-4zM773 908h4v4h-4zM577 912h4v4h-4zM641 912h4v4h-4zM773 912h4v4h-4zM641 916h4v4h-4zM773 916h4v4h-4zM573 920h8v4h-8zM641 920h8v4h-8zM773 920h4v4h-4zM573 924h8v4h-8zM637 924h12v4h-12zM773 924h8v4h-8zM573 928h8v4h-8zM637 928h12v4h-12zM773 928h12v4h-12z"/>
<path fill="#905000" d="M665 836h8v4h-8zM661 840h4v4h-4zM741 840h4v4h-4zM657 844h4v4h-4zM741 844h4v4h-4zM841 844h4v4h-4zM657 848h4v4h-4zM837 848h12v4h-12zM657 852h4v4h-4zM837 852h4v4h-4zM849 852h4v4h-4zM833 856h4v4h-4zM849 856h4v4h-4zM661 860h4v4h-4zM737 860h4v4h-4zM833 860h4v4h-4zM849 860h4v4h-4zM833 864h4v4h-4zM849 864h4v4h-4zM665 868h4v4h-4zM833 868h4v4h-4zM849 868h4v4h-4zM669 872h4v4h-4zM733 872h4v4h-4zM833 872h4v4h-4zM849 872h4v4h-4zM605 876h16v4h-16zM677 876h8v4h-8zM725 876h4v4h-4zM597 880h4v4h-4zM625 880h4v4h-4zM757 880h4v4h-4zM829 880h4v4h-4zM853 880h4v4h-4zM593 884h4v4h-4zM629 884h4v4h-4zM749 884h4v4h-4zM825 884h4v4h-4zM853 884h4v4h-4zM589 888h4v4h-4zM633 888h4v4h-4zM749 888h4v4h-4zM769 888h4v4h-4zM793 888h8v4h-8zM769 892h4v4h-4zM785 892h8v4h-8zM637 896h4v4h-4zM757 896h12v4h-12zM781 896h4v4h-4zM637 900h4v4h-4zM777 904h4v4h-4zM777 908h4v4h-4zM637 912h4v4h-4zM777 912h4v4h-4zM577 916h4v4h-4zM637 916h4v4h-4zM777 916h4v4h-4zM637 920h4v4h-4zM777 920h4v4h-4zM581 924h4v4h-4zM633 924h4v4h-4zM781 924h4v4h-4zM853 924h4v4h-4zM581 928h8v4h-8zM629 928h8v4h-8zM785 928h4v4h-4zM853 928h4v4h-4z"/>
<path fill="#9a4a00" d="M673 836h4v4h-4zM737 836h4v4h-4zM665 840h4v4h-4zM661 844h4v4h-4zM661 848h4v4h-4zM661 852h4v4h-4zM841 852h8v4h-8zM661 856h4v4h-4zM837 856h4v4h-4zM845 856h4v4h-4zM837 860h4v4h-4zM845 860h4v4h-4zM665 864h4v4h-4zM837 864h4v4h-4zM845 864h4v4h-4zM669 868h4v4h-4zM733 868h4v4h-4zM837 868h12v4h-12zM673 872h8v4h-8zM729 872h4v4h-4zM837 872h4v4h-4zM845 872h4v4h-4zM685 876h12v4h-12zM717 876h8v4h-8zM833 876h4v4h-4zM849 876h4v4h-4zM601 880h4v4h-4zM621 880h4v4h-4zM849 880h4v4h-4zM625 884h4v4h-4zM753 884h4v4h-4zM765 884h4v4h-4zM829 884h4v4h-4zM629 888h4v4h-4zM801 888h28v4h-28zM853 888h4v4h-4zM633 892h4v4h-4zM753 892h4v4h-4zM765 892h4v4h-4zM793 892h4v4h-4zM585 896h4v4h-4zM785 896h4v4h-4zM781 900h4v4h-4zM581 904h4v4h-4zM637 904h4v4h-4zM781 904h4v4h-4zM581 908h4v4h-4zM637 908h4v4h-4zM581 916h4v4h-4zM581 920h4v4h-4zM633 920h4v4h-4zM781 920h4v4h-4zM853 920h4v4h-4zM585 924h4v4h-4zM629 924h4v4h-4zM785 924h4v4h-4zM589 928h4v4h-4zM789 928h4v4h-4zM849 928h4v4h-4z"/>
<path fill="#a34400" d="M677 836h4v4h-4zM733 836h4v4h-4zM669 840h4v4h-4zM737 840h4v4h-4zM665 844h4v4h-4zM737 844h4v4h-4zM665 848h4v4h-4zM737 856h4v4h-4zM841 856h4v4h-4zM665 860h4v4h-4zM841 860h4v4h-4zM669 864h4v4h-4zM841 864h4v4h-4zM673 868h4v4h-4zM681 872h4v4h-4zM725 872h4v4h-4zM841 872h4v4h-4zM697 876h20v4h-20zM837 876h4v4h-4zM845 876h4v4h-4zM605 880h16v4h-16zM833 880h4v4h-4zM597 884h4v4h-4zM757 884h8v4h-8zM753 888h4v4h-4zM765 888h4v4h-4zM829 888h4v4h-4zM757 892h8v4h-8zM853 892h4v4h-4zM633 896h4v4h-4zM789 896h4v4h-4zM853 896h4v4h-4zM633 900h4v4h-4zM785 900h4v4h-4zM781 908h4v4h-4zM581 912h4v4h-4zM633 912h4v4h-4zM781 912h4v4h-4zM853 912h4v4h-4zM633 916h4v4h-4zM781 916h4v4h-4zM853 916h4v4h-4zM785 920h4v4h-4zM789 924h4v4h-4zM849 924h4v4h-4zM625 928h4v4h-4zM793 928h4v4h-4zM825 928h12v4h-12z"/>
<path fill="#ad3d00" d="M681 836h4v4h-4zM729 836h4v4h-4zM673 840h4v4h-4zM733 840h4v4h-4zM669 844h4v4h-4zM737 848h4v4h-4zM665 852h4v4h-4zM737 852h4v4h-4zM665 856h4v4h-4zM733 864h4v4h-4zM677 868h4v4h-4zM729 868h4v4h-4zM685 872h4v4h-4zM721 872h4v4h-4zM841 876h4v4h-4zM837 880h4v4h-4zM845 880h4v4h-4zM621 884h4v4h-4zM833 884h4v4h-4zM849 884h4v4h-4zM593 888h4v4h-4zM625 888h4v4h-4zM757 888h8v4h-8zM589 892h4v4h-4zM629 892h4v4h-4zM797 892h4v4h-4zM821 892h8v4h-8zM585 900h4v4h-4zM853 900h4v4h-4zM633 904h4v4h-4zM853 904h4v4h-4zM633 908h4v4h-4zM853 908h4v4h-4zM585 920h4v4h-4zM629 920h4v4h-4zM589 924h4v4h-4zM625 924h4v4h-4zM593 928h4v4h-4zM621 928h4v4h-4zM797 928h4v4h-4zM821 928h4v4h-4zM837 928h12v4h-12z"/>
<path fill="#b63700" d="M685 836h4v4h-4zM725 836h4v4h-4zM677 840h4v4h-4zM669 848h4v4h-4zM669 856h4v4h-4zM669 860h4v4h-4zM733 860h4v4h-4zM673 864h4v4h-4zM681 868h4v4h-4zM689 872h8v4h-8zM717 872h4v4h-4zM841 880h4v4h-4zM601 884h4v4h-4zM617 884h4v4h-4zM849 888h4v4h-4zM801 892h8v4h-8zM817 892h4v4h-4zM829 892h4v4h-4zM629 896h4v4h-4zM793 896h4v4h-4zM585 904h4v4h-4zM785 904h4v4h-4zM585 916h4v4h-4zM629 916h4v4h-4zM785 916h4v4h-4zM849 920h4v4h-4zM793 924h4v4h-4zM845 924h4v4h-4zM597 928h4v4h-4zM617 928h4v4h-4zM801 928h8v4h-8zM817 928h4v4h-4z"/>
<path fill="#c03100" d="M689 836h4v4h-4zM721 836h4v4h-4zM729 840h4v4h-4zM673 844h4v4h-4zM733 844h4v4h-4zM669 852h4v4h-4zM673 860h4v4h-4zM677 864h4v4h-4zM729 864h4v4h-4zM725 868h4v4h-4zM697 872h20v4h-20zM605 884h12v4h-12zM837 884h4v4h-4zM845 884h4v4h-4zM621 888h4v4h-4zM833 888h4v4h-4zM625 892h4v4h-4zM809 892h8v4h-8zM849 892h4v4h-4zM589 896h4v4h-4zM629 900h4v4h-4zM789 900h4v4h-4zM585 908h4v4h-4zM785 908h4v4h-4zM585 912h4v4h-4zM629 912h4v4h-4zM785 912h4v4h-4zM849 916h4v4h-4zM589 920h4v4h-4zM625 920h4v4h-4zM789 920h4v4h-4zM593 924h4v4h-4zM621 924h4v4h-4zM825 924h12v4h-12zM601 928h4v4h-4zM613 928h4v4h-4zM809 928h8v4h-8z"/>
<path fill="#c92a00" d="M693 836h4v4h-4zM717 836h4v4h-4zM681 840h4v4h-4zM677 844h4v4h-4zM673 848h4v4h-4zM733 848h4v4h-4zM733 852h4v4h-4zM673 856h4v4h-4zM733 856h4v4h-4zM685 868h4v4h-4zM721 868h4v4h-4zM841 884h4v4h-4zM597 888h4v4h-4zM593 892h4v4h-4zM833 892h4v4h-4zM797 896h4v4h-4zM825 896h8v4h-8zM849 896h4v4h-4zM629 904h4v4h-4zM789 904h4v4h-4zM629 908h4v4h-4zM849 912h4v4h-4zM789 916h4v4h-4zM845 920h4v4h-4zM797 924h4v4h-4zM837 924h8v4h-8zM605 928h8v4h-8z"/>
<path fill="#d22300" d="M697 836h20v4h-20zM685 840h4v4h-4zM725 840h4v4h-4zM729 844h4v4h-4zM673 852h4v4h-4zM677 860h4v4h-4zM729 860h4v4h-4zM681 864h4v4h-4zM689 868h4v4h-4zM717 868h4v4h-4zM601 888h4v4h-4zM617 888h4v4h-4zM837 888h4v4h-4zM845 888h4v4h-4zM621 892h4v4h-4zM625 896h4v4h-4zM801 896h4v4h-4zM821 896h4v4h-4zM589 900h4v4h-4zM793 900h4v4h-4zM849 900h4v4h-4zM849 904h4v4h-4zM789 908h4v4h-4zM849 908h4v4h-4zM789 912h4v4h-4zM589 916h4v4h-4zM625 916h4v4h-4zM593 920h4v4h-4zM621 920h4v4h-4zM793 920h4v4h-4zM829 920h8v4h-8zM597 924h4v4h-4zM617 924h4v4h-4zM801 924h4v4h-4zM821 924h4v4h-4z"/>
<path fill="#db1c00" d="M689 840h4v4h-4zM721 840h4v4h-4zM681 844h4v4h-4zM677 848h4v4h-4zM677 852h4v4h-4zM677 856h4v4h-4zM685 864h4v4h-4zM725 864h4v4h-4zM693 868h8v4h-8zM713 868h4v4h-4zM605 888h12v4h-12zM841 888h4v4h-4zM597 892h4v4h-4zM845 892h4v4h-4zM593 896h4v4h-4zM805 896h16v4h-16zM833 896h4v4h-4zM625 900h4v4h-4zM829 900h4v4h-4zM589 904h4v4h-4zM625 904h4v4h-4zM589 908h4v4h-4zM625 908h4v4h-4zM589 912h4v4h-4zM625 912h4v4h-4zM845 916h4v4h-4zM825 920h4v4h-4zM837 920h8v4h-8zM601 924h16v4h-16zM805 924h16v4h-16z"/>
<path fill="#e41500" d="M693 840h4v4h-4zM717 840h4v4h-4zM685 844h4v4h-4zM725 844h4v4h-4zM681 848h4v4h-4zM729 848h4v4h-4zM729 852h4v4h-4zM729 856h4v4h-4zM681 860h4v4h-4zM725 860h4v4h-4zM689 864h4v4h-4zM721 864h4v4h-4zM701 868h12v4h-12zM617 892h4v4h-4zM837 892h8v4h-8zM621 896h4v4h-4zM845 896h4v4h-4zM797 900h4v4h-4zM825 900h4v4h-4zM833 900h4v4h-4zM793 904h4v4h-4zM845 912h4v4h-4zM593 916h4v4h-4zM621 916h4v4h-4zM793 916h4v4h-4zM829 916h16v4h-16zM597 920h4v4h-4zM617 920h4v4h-4zM797 920h4v4h-4zM821 920h4v4h-4z"/>
<path fill="#ed0e00" d="M697 840h20v4h-20zM689 844h4v4h-4zM721 844h4v4h-4zM685 848h4v4h-4zM725 848h4v4h-4zM681 852h4v4h-4zM681 856h4v4h-4zM725 856h4v4h-4zM685 860h4v4h-4zM693 864h4v4h-4zM713 864h8v4h-8zM601 892h16v4h-16zM597 896h4v4h-4zM617 896h4v4h-4zM837 896h8v4h-8zM593 900h4v4h-4zM621 900h4v4h-4zM801 900h4v4h-4zM817 900h8v4h-8zM837 900h4v4h-4zM845 900h4v4h-4zM593 904h4v4h-4zM621 904h4v4h-4zM797 904h4v4h-4zM825 904h12v4h-12zM845 904h4v4h-4zM593 908h4v4h-4zM621 908h4v4h-4zM793 908h4v4h-4zM829 908h8v4h-8zM845 908h4v4h-4zM593 912h4v4h-4zM621 912h4v4h-4zM793 912h4v4h-4zM829 912h16v4h-16zM597 916h4v4h-4zM617 916h4v4h-4zM797 916h4v4h-4zM825 916h4v4h-4zM601 920h16v4h-16zM801 920h4v4h-4zM817 920h4v4h-4z"/>
<path fill="#f60700" d="M693 844h28v4h-28zM689 848h4v4h-4zM717 848h8v4h-8zM685 852h8v4h-8zM721 852h8v4h-8zM685 856h8v4h-8zM721 856h4v4h-4zM689 860h8v4h-8zM713 860h12v4h-12zM697 864h16v4h-16zM601 896h16v4h-16zM597 900h4v4h-4zM617 900h4v4h-4zM805 900h12v4h-12zM841 900h4v4h-4zM597 904h4v4h-4zM617 904h4v4h-4zM801 904h4v4h-4zM817 904h8v4h-8zM837 904h8v4h-8zM597 908h4v4h-4zM617 908h4v4h-4zM797 908h4v4h-4zM821 908h8v4h-8zM837 908h8v4h-8zM597 912h4v4h-4zM617 912h4v4h-4zM797 912h4v4h-4zM821 912h8v4h-8zM601 916h16v4h-16zM801 916h4v4h-4zM817 916h8v4h-8zM805 920h12v4h-12z"/>
<path fill="#ff0100" d="M693 848h24v4h-24zM693 852h28v4h-28zM693 856h28v4h-28zM697 860h16v4h-16zM601 900h16v4h-16zM601 904h16v4h-16zM805 904h12v4h-12zM601 908h16v4h-16zM801 908h20v4h-20zM601 912h16v4h-16zM801 912h20v4h-20zM805 916h12v4h-12z"/>
</g></g>
<line x1="838.7" y1="841.0" x2="833.0" y2="925.0" stroke="#000" stroke-width="2.6" />
<rect x="517" y="840" width="334.5" height="85.5" fill="none" stroke="#000" stroke-width="2.6"/>
<text x="524.7" y="868.0" font-size="27.5" text-anchor="start" fill="#fff" >3 uc</text>
<rect x="523.6" y="908" width="54.4" height="7.6" fill="#fff"/>
<line x1="618.6" y1="863.4" x2="646.0" y2="864.5" stroke="#fff" stroke-width="2.6" />
<polygon points="658.0,865.0 644.7,871.3 645.3,857.7" fill="#fff" stroke="none" stroke-width="0"/>
<line x1="619.9" y1="862.2" x2="619.1" y2="889.5" stroke="#fff" stroke-width="2.6" />
<polygon points="618.7,901.5 612.3,888.3 625.9,888.7" fill="#fff" stroke="none" stroke-width="0"/>
<text x="661.7" y="873.0" font-size="27.5" text-anchor="start" fill="#fff" font-style="italic">c</text>
<text x="610.4" y="921.3" font-size="27.5" text-anchor="start" fill="#fff" font-style="italic">a</text>
<text x="690.0" y="891.5" font-size="29" text-anchor="start" fill="#fff" font-family="Liberation Serif">&#949;</text>
<text x="700.5" y="900.0" font-size="21" text-anchor="start" fill="#fff" font-style="italic">xx</text>
<text x="738.0" y="955.8" font-size="27.5" text-anchor="start" fill="#000" >STO</text>
<text x="861.8" y="955.8" font-size="27.5" text-anchor="start" fill="#000" >LAO</text>
<line x1="818.0" y1="947.0" x2="848.6" y2="947.0" stroke="#000" stroke-width="3" />
<polygon points="808.0,947.0 822.0,939.5 822.0,954.5" fill="#000" stroke="none" stroke-width="1.8"/>
<polygon points="858.6,947.0 844.6,939.5 844.6,954.5" fill="#000" stroke="none" stroke-width="1.8"/>
<line x1="834.1" y1="933.0" x2="831.1" y2="959.0" stroke="#000" stroke-width="2.6" />
<defs><linearGradient id="cbar" x1="0" y1="0" x2="0" y2="1"><stop offset="0.00" stop-color="rgb(255, 255, 240)"/><stop offset="0.05" stop-color="rgb(255, 255, 187)"/><stop offset="0.10" stop-color="rgb(255, 255, 120)"/><stop offset="0.15" stop-color="rgb(255, 255, 53)"/><stop offset="0.20" stop-color="rgb(255, 244, 0)"/><stop offset="0.25" stop-color="rgb(255, 186, 0)"/><stop offset="0.30" stop-color="rgb(255, 126, 0)"/><stop offset="0.35" stop-color="rgb(255, 53, 0)"/><stop offset="0.40" stop-color="rgb(241, 11, 0)"/><stop offset="0.45" stop-color="rgb(187, 52, 0)"/><stop offset="0.50" stop-color="rgb(130, 90, 0)"/><stop offset="0.55" stop-color="rgb(70, 120, 0)"/><stop offset="0.60" stop-color="rgb(0, 151, 14)"/><stop offset="0.65" stop-color="rgb(0, 109, 86)"/><stop offset="0.70" stop-color="rgb(0, 73, 167)"/><stop offset="0.75" stop-color="rgb(0, 34, 224)"/><stop offset="0.80" stop-color="rgb(0, 0, 241)"/><stop offset="0.85" stop-color="rgb(0, 0, 169)"/><stop offset="0.90" stop-color="rgb(0, 0, 107)"/><stop offset="0.95" stop-color="rgb(0, 0, 52)"/><stop offset="1.00" stop-color="rgb(0, 0, 10)"/></linearGradient></defs>
<rect x="906.35" y="769.35" width="22.7" height="123.5" fill="url(#cbar)" stroke="#000" stroke-width="2.5"/>
<text x="914.9" y="761.6" font-size="23.5" text-anchor="middle" fill="#000" >0.05</text>
<text x="914.5" y="918.9" font-size="23.5" text-anchor="middle" fill="#000" >&#8211;0.05</text>
<text x="0.0" y="1024.0" font-size="40" text-anchor="start" fill="#000" font-weight="bold">e</text>
<clipPath id="eclip"><rect x="57.5" y="1030.5" width="802.5" height="262.0"/></clipPath>
<g clip-path="url(#eclip)"><g filter="url(#bl1)">
<rect x="47.5" y="1020.5" width="822.5" height="282.0" fill="#ec9e9e"/>
<ellipse cx="25.0" cy="1019.5" rx="13" ry="12" fill="#ea1c1c" fill-opacity="0.81" filter="url(#bl3)"/>
<ellipse cx="-5.0" cy="1019.5" rx="10" ry="11" fill="#ea1c1c" fill-opacity="0.44" filter="url(#bl3)"/>
<ellipse cx="25.0" cy="1065.0" rx="13" ry="12" fill="#ea1c1c" fill-opacity="0.87" filter="url(#bl3)"/>
<ellipse cx="-5.0" cy="1065.0" rx="10" ry="11" fill="#ea1c1c" fill-opacity="0.46" filter="url(#bl3)"/>
<ellipse cx="25.0" cy="1109.8" rx="13" ry="12" fill="#ea1c1c" fill-opacity="0.98" filter="url(#bl3)"/>
<ellipse cx="-5.0" cy="1109.8" rx="10" ry="11" fill="#ea1c1c" fill-opacity="0.27" filter="url(#bl3)"/>
<ellipse cx="25.0" cy="1156.8" rx="13" ry="12" fill="#ea1c1c" fill-opacity="0.71" filter="url(#bl3)"/>
<ellipse cx="-5.0" cy="1156.8" rx="10" ry="11" fill="#ea1c1c" fill-opacity="0.54" filter="url(#bl3)"/>
<ellipse cx="25.0" cy="1204.0" rx="13" ry="12" fill="#ea1c1c" fill-opacity="0.82" filter="url(#bl3)"/>
<ellipse cx="-5.0" cy="1204.0" rx="10" ry="11" fill="#ea1c1c" fill-opacity="0.33" filter="url(#bl3)"/>
<ellipse cx="25.0" cy="1250.0" rx="13" ry="12" fill="#ea1c1c" fill-opacity="1.00" filter="url(#bl3)"/>
<ellipse cx="-5.0" cy="1250.0" rx="10" ry="11" fill="#ea1c1c" fill-opacity="0.41" filter="url(#bl3)"/>
<ellipse cx="25.0" cy="1296.0" rx="13" ry="12" fill="#ea1c1c" fill-opacity="1.00" filter="url(#bl3)"/>
<ellipse cx="-5.0" cy="1296.0" rx="10" ry="11" fill="#ea1c1c" fill-opacity="0.42" filter="url(#bl3)"/>
<ellipse cx="89.0" cy="1019.5" rx="13" ry="12" fill="#ea1c1c" fill-opacity="0.99" filter="url(#bl3)"/>
<ellipse cx="59.0" cy="1019.5" rx="10" ry="11" fill="#ea1c1c" fill-opacity="0.30" filter="url(#bl3)"/>
<ellipse cx="89.0" cy="1065.0" rx="13" ry="12" fill="#ea1c1c" fill-opacity="0.99" filter="url(#bl3)"/>
<ellipse cx="59.0" cy="1065.0" rx="10" ry="11" fill="#ea1c1c" fill-opacity="0.55" filter="url(#bl3)"/>
<ellipse cx="89.0" cy="1109.8" rx="13" ry="12" fill="#ea1c1c" fill-opacity="0.94" filter="url(#bl3)"/>
<ellipse cx="59.0" cy="1109.8" rx="10" ry="11" fill="#ea1c1c" fill-opacity="0.51" filter="url(#bl3)"/>
<ellipse cx="89.0" cy="1156.8" rx="13" ry="12" fill="#ea1c1c" fill-opacity="1.00" filter="url(#bl3)"/>
<ellipse cx="59.0" cy="1156.8" rx="10" ry="11" fill="#ea1c1c" fill-opacity="0.27" filter="url(#bl3)"/>
<ellipse cx="89.0" cy="1204.0" rx="13" ry="12" fill="#ea1c1c" fill-opacity="1.00" filter="url(#bl3)"/>
<ellipse cx="59.0" cy="1204.0" rx="10" ry="11" fill="#ea1c1c" fill-opacity="0.46" filter="url(#bl3)"/>
<ellipse cx="89.0" cy="1250.0" rx="13" ry="12" fill="#ea1c1c" fill-opacity="0.84" filter="url(#bl3)"/>
<ellipse cx="59.0" cy="1250.0" rx="10" ry="11" fill="#ea1c1c" fill-opacity="0.26" filter="url(#bl3)"/>
<ellipse cx="89.0" cy="1296.0" rx="13" ry="12" fill="#ea1c1c" fill-opacity="1.00" filter="url(#bl3)"/>
<ellipse cx="59.0" cy="1296.0" rx="10" ry="11" fill="#ea1c1c" fill-opacity="0.42" filter="url(#bl3)"/>
<ellipse cx="153.8" cy="1019.5" rx="13" ry="12" fill="#ea1c1c" fill-opacity="1.00" filter="url(#bl3)"/>
<ellipse cx="123.8" cy="1019.5" rx="10" ry="11" fill="#ea1c1c" fill-opacity="0.56" filter="url(#bl3)"/>
<ellipse cx="153.8" cy="1065.0" rx="13" ry="12" fill="#ea1c1c" fill-opacity="1.00" filter="url(#bl3)"/>
<ellipse cx="123.8" cy="1065.0" rx="10" ry="11" fill="#ea1c1c" fill-opacity="0.57" filter="url(#bl3)"/>
<ellipse cx="153.8" cy="1109.8" rx="13" ry="12" fill="#ea1c1c" fill-opacity="0.88" filter="url(#bl3)"/>
<ellipse cx="123.8" cy="1109.8" rx="10" ry="11" fill="#ea1c1c" fill-opacity="0.53" filter="url(#bl3)"/>
<ellipse cx="153.8" cy="1156.8" rx="13" ry="12" fill="#ea1c1c" fill-opacity="0.90" filter="url(#bl3)"/>
<ellipse cx="123.8" cy="1156.8" rx="10" ry="11" fill="#ea1c1c" fill-opacity="0.58" filter="url(#bl3)"/>
<ellipse cx="153.8" cy="1204.0" rx="13" ry="12" fill="#ea1c1c" fill-opacity="1.00" filter="url(#bl3)"/>
<ellipse cx="123.8" cy="1204.0" rx="10" ry="11" fill="#ea1c1c" fill-opacity="0.28" filter="url(#bl3)"/>
<ellipse cx="153.8" cy="1250.0" rx="13" ry="12" fill="#ea1c1c" fill-opacity="0.76" filter="url(#bl3)"/>
<ellipse cx="123.8" cy="1250.0" rx="10" ry="11" fill="#ea1c1c" fill-opacity="0.33" filter="url(#bl3)"/>
<ellipse cx="153.8" cy="1296.0" rx="13" ry="12" fill="#ea1c1c" fill-opacity="1.00" filter="url(#bl3)"/>
<ellipse cx="123.8" cy="1296.0" rx="10" ry="11" fill="#ea1c1c" fill-opacity="0.40" filter="url(#bl3)"/>
<ellipse cx="217.5" cy="1019.5" rx="13" ry="12" fill="#ea1c1c" fill-opacity="0.98" filter="url(#bl3)"/>
<ellipse cx="187.5" cy="1019.5" rx="10" ry="11" fill="#ea1c1c" fill-opacity="0.36" filter="url(#bl3)"/>
<ellipse cx="217.5" cy="1065.0" rx="13" ry="12" fill="#ea1c1c" fill-opacity="0.93" filter="url(#bl3)"/>
<ellipse cx="187.5" cy="1065.0" rx="10" ry="11" fill="#ea1c1c" fill-opacity="0.39" filter="url(#bl3)"/>
<ellipse cx="217.5" cy="1109.8" rx="13" ry="12" fill="#ea1c1c" fill-opacity="0.86" filter="url(#bl3)"/>
<ellipse cx="187.5" cy="1109.8" rx="10" ry="11" fill="#ea1c1c" fill-opacity="0.45" filter="url(#bl3)"/>
<ellipse cx="217.5" cy="1156.8" rx="13" ry="12" fill="#ea1c1c" fill-opacity="0.96" filter="url(#bl3)"/>
<ellipse cx="187.5" cy="1156.8" rx="10" ry="11" fill="#ea1c1c" fill-opacity="0.57" filter="url(#bl3)"/>
<ellipse cx="217.5" cy="1204.0" rx="13" ry="12" fill="#ea1c1c" fill-opacity="1.00" filter="url(#bl3)"/>
<ellipse cx="187.5" cy="1204.0" rx="10" ry="11" fill="#ea1c1c" fill-opacity="0.58" filter="url(#bl3)"/>
<ellipse cx="217.5" cy="1250.0" rx="13" ry="12" fill="#ea1c1c" fill-opacity="1.00" filter="url(#bl3)"/>
<ellipse cx="187.5" cy="1250.0" rx="10" ry="11" fill="#ea1c1c" fill-opacity="0.60" filter="url(#bl3)"/>
<ellipse cx="217.5" cy="1296.0" rx="13" ry="12" fill="#ea1c1c" fill-opacity="1.00" filter="url(#bl3)"/>
<ellipse cx="187.5" cy="1296.0" rx="10" ry="11" fill="#ea1c1c" fill-opacity="0.31" filter="url(#bl3)"/>
<ellipse cx="282.5" cy="1019.5" rx="13" ry="12" fill="#ea1c1c" fill-opacity="1.00" filter="url(#bl3)"/>
<ellipse cx="252.5" cy="1019.5" rx="10" ry="11" fill="#ea1c1c" fill-opacity="0.59" filter="url(#bl3)"/>
<ellipse cx="282.5" cy="1065.0" rx="13" ry="12" fill="#ea1c1c" fill-opacity="1.00" filter="url(#bl3)"/>
<ellipse cx="252.5" cy="1065.0" rx="10" ry="11" fill="#ea1c1c" fill-opacity="0.45" filter="url(#bl3)"/>
<ellipse cx="282.5" cy="1109.8" rx="13" ry="12" fill="#ea1c1c" fill-opacity="1.00" filter="url(#bl3)"/>
<ellipse cx="252.5" cy="1109.8" rx="10" ry="11" fill="#ea1c1c" fill-opacity="0.32" filter="url(#bl3)"/>
<ellipse cx="282.5" cy="1156.8" rx="13" ry="12" fill="#ea1c1c" fill-opacity="1.00" filter="url(#bl3)"/>
<ellipse cx="252.5" cy="1156.8" rx="10" ry="11" fill="#ea1c1c" fill-opacity="0.45" filter="url(#bl3)"/>
<ellipse cx="282.5" cy="1204.0" rx="13" ry="12" fill="#ea1c1c" fill-opacity="0.83" filter="url(#bl3)"/>
<ellipse cx="252.5" cy="1204.0" rx="10" ry="11" fill="#ea1c1c" fill-opacity="0.27" filter="url(#bl3)"/>
<ellipse cx="282.5" cy="1250.0" rx="13" ry="12" fill="#ea1c1c" fill-opacity="1.00" filter="url(#bl3)"/>
<ellipse cx="252.5" cy="1250.0" rx="10" ry="11" fill="#ea1c1c" fill-opacity="0.60" filter="url(#bl3)"/>
<ellipse cx="282.5" cy="1296.0" rx="13" ry="12" fill="#ea1c1c" fill-opacity="0.74" filter="url(#bl3)"/>
<ellipse cx="252.5" cy="1296.0" rx="10" ry="11" fill="#ea1c1c" fill-opacity="0.53" filter="url(#bl3)"/>
<ellipse cx="346.5" cy="1019.5" rx="13" ry="12" fill="#ea1c1c" fill-opacity="0.88" filter="url(#bl3)"/>
<ellipse cx="316.5" cy="1019.5" rx="10" ry="11" fill="#ea1c1c" fill-opacity="0.30" filter="url(#bl3)"/>
<ellipse cx="346.5" cy="1065.0" rx="13" ry="12" fill="#ea1c1c" fill-opacity="0.83" filter="url(#bl3)"/>
<ellipse cx="316.5" cy="1065.0" rx="10" ry="11" fill="#ea1c1c" fill-opacity="0.52" filter="url(#bl3)"/>
<ellipse cx="346.5" cy="1109.8" rx="13" ry="12" fill="#ea1c1c" fill-opacity="1.00" filter="url(#bl3)"/>
<ellipse cx="316.5" cy="1109.8" rx="10" ry="11" fill="#ea1c1c" fill-opacity="0.27" filter="url(#bl3)"/>
<ellipse cx="346.5" cy="1156.8" rx="13" ry="12" fill="#ea1c1c" fill-opacity="0.98" filter="url(#bl3)"/>
<ellipse cx="316.5" cy="1156.8" rx="10" ry="11" fill="#ea1c1c" fill-opacity="0.27" filter="url(#bl3)"/>
<ellipse cx="346.5" cy="1204.0" rx="13" ry="12" fill="#ea1c1c" fill-opacity="1.00" filter="url(#bl3)"/>
<ellipse cx="316.5" cy="1204.0" rx="10" ry="11" fill="#ea1c1c" fill-opacity="0.37" filter="url(#bl3)"/>
<ellipse cx="346.5" cy="1250.0" rx="13" ry="12" fill="#ea1c1c" fill-opacity="1.00" filter="url(#bl3)"/>
<ellipse cx="316.5" cy="1250.0" rx="10" ry="11" fill="#ea1c1c" fill-opacity="0.59" filter="url(#bl3)"/>
<ellipse cx="346.5" cy="1296.0" rx="13" ry="12" fill="#ea1c1c" fill-opacity="0.93" filter="url(#bl3)"/>
<ellipse cx="316.5" cy="1296.0" rx="10" ry="11" fill="#ea1c1c" fill-opacity="0.60" filter="url(#bl3)"/>
<ellipse cx="410.0" cy="1023.2" rx="13" ry="12" fill="#ea1c1c" fill-opacity="0.84" filter="url(#bl3)"/>
<ellipse cx="380.0" cy="1023.2" rx="10" ry="11" fill="#ea1c1c" fill-opacity="0.28" filter="url(#bl3)"/>
<ellipse cx="410.0" cy="1068.5" rx="13" ry="12" fill="#ea1c1c" fill-opacity="0.97" filter="url(#bl3)"/>
<ellipse cx="380.0" cy="1068.5" rx="10" ry="11" fill="#ea1c1c" fill-opacity="0.26" filter="url(#bl3)"/>
<ellipse cx="410.0" cy="1113.2" rx="13" ry="12" fill="#ea1c1c" fill-opacity="0.79" filter="url(#bl3)"/>
<ellipse cx="380.0" cy="1113.2" rx="10" ry="11" fill="#ea1c1c" fill-opacity="0.39" filter="url(#bl3)"/>
<ellipse cx="410.0" cy="1158.5" rx="13" ry="12" fill="#ea1c1c" fill-opacity="0.97" filter="url(#bl3)"/>
<ellipse cx="380.0" cy="1158.5" rx="10" ry="11" fill="#ea1c1c" fill-opacity="0.30" filter="url(#bl3)"/>
<ellipse cx="410.0" cy="1204.0" rx="13" ry="12" fill="#ea1c1c" fill-opacity="0.72" filter="url(#bl3)"/>
<ellipse cx="380.0" cy="1204.0" rx="10" ry="11" fill="#ea1c1c" fill-opacity="0.55" filter="url(#bl3)"/>
<ellipse cx="410.0" cy="1250.0" rx="13" ry="12" fill="#ea1c1c" fill-opacity="0.84" filter="url(#bl3)"/>
<ellipse cx="380.0" cy="1250.0" rx="10" ry="11" fill="#ea1c1c" fill-opacity="0.59" filter="url(#bl3)"/>
<ellipse cx="410.0" cy="1296.0" rx="13" ry="12" fill="#ea1c1c" fill-opacity="1.00" filter="url(#bl3)"/>
<ellipse cx="380.0" cy="1296.0" rx="10" ry="11" fill="#ea1c1c" fill-opacity="0.38" filter="url(#bl3)"/>
<ellipse cx="474.0" cy="1023.2" rx="13" ry="12" fill="#ea1c1c" fill-opacity="0.91" filter="url(#bl3)"/>
<ellipse cx="444.0" cy="1023.2" rx="10" ry="11" fill="#ea1c1c" fill-opacity="0.43" filter="url(#bl3)"/>
<ellipse cx="474.0" cy="1068.5" rx="13" ry="12" fill="#ea1c1c" fill-opacity="0.99" filter="url(#bl3)"/>
<ellipse cx="444.0" cy="1068.5" rx="10" ry="11" fill="#ea1c1c" fill-opacity="0.46" filter="url(#bl3)"/>
<ellipse cx="474.0" cy="1113.2" rx="13" ry="12" fill="#ea1c1c" fill-opacity="0.95" filter="url(#bl3)"/>
<ellipse cx="444.0" cy="1113.2" rx="10" ry="11" fill="#ea1c1c" fill-opacity="0.47" filter="url(#bl3)"/>
<ellipse cx="474.0" cy="1158.5" rx="13" ry="12" fill="#ea1c1c" fill-opacity="1.00" filter="url(#bl3)"/>
<ellipse cx="444.0" cy="1158.5" rx="10" ry="11" fill="#ea1c1c" fill-opacity="0.43" filter="url(#bl3)"/>
<ellipse cx="474.0" cy="1204.0" rx="13" ry="12" fill="#ea1c1c" fill-opacity="0.89" filter="url(#bl3)"/>
<ellipse cx="444.0" cy="1204.0" rx="10" ry="11" fill="#ea1c1c" fill-opacity="0.50" filter="url(#bl3)"/>
<ellipse cx="474.0" cy="1250.0" rx="13" ry="12" fill="#ea1c1c" fill-opacity="0.81" filter="url(#bl3)"/>
<ellipse cx="444.0" cy="1250.0" rx="10" ry="11" fill="#ea1c1c" fill-opacity="0.36" filter="url(#bl3)"/>
<ellipse cx="474.0" cy="1296.0" rx="13" ry="12" fill="#ea1c1c" fill-opacity="1.00" filter="url(#bl3)"/>
<ellipse cx="444.0" cy="1296.0" rx="10" ry="11" fill="#ea1c1c" fill-opacity="0.43" filter="url(#bl3)"/>
<ellipse cx="540.0" cy="1023.2" rx="13" ry="12" fill="#ea1c1c" fill-opacity="0.95" filter="url(#bl3)"/>
<ellipse cx="510.0" cy="1023.2" rx="10" ry="11" fill="#ea1c1c" fill-opacity="0.25" filter="url(#bl3)"/>
<ellipse cx="540.0" cy="1068.5" rx="13" ry="12" fill="#ea1c1c" fill-opacity="0.89" filter="url(#bl3)"/>
<ellipse cx="510.0" cy="1068.5" rx="10" ry="11" fill="#ea1c1c" fill-opacity="0.45" filter="url(#bl3)"/>
<ellipse cx="540.0" cy="1113.2" rx="13" ry="12" fill="#ea1c1c" fill-opacity="0.71" filter="url(#bl3)"/>
<ellipse cx="510.0" cy="1113.2" rx="10" ry="11" fill="#ea1c1c" fill-opacity="0.47" filter="url(#bl3)"/>
<ellipse cx="540.0" cy="1158.5" rx="13" ry="12" fill="#ea1c1c" fill-opacity="0.98" filter="url(#bl3)"/>
<ellipse cx="510.0" cy="1158.5" rx="10" ry="11" fill="#ea1c1c" fill-opacity="0.27" filter="url(#bl3)"/>
<ellipse cx="540.0" cy="1204.0" rx="13" ry="12" fill="#ea1c1c" fill-opacity="0.98" filter="url(#bl3)"/>
<ellipse cx="510.0" cy="1204.0" rx="10" ry="11" fill="#ea1c1c" fill-opacity="0.41" filter="url(#bl3)"/>
<ellipse cx="540.0" cy="1250.0" rx="13" ry="12" fill="#ea1c1c" fill-opacity="1.00" filter="url(#bl3)"/>
<ellipse cx="510.0" cy="1250.0" rx="10" ry="11" fill="#ea1c1c" fill-opacity="0.37" filter="url(#bl3)"/>
<ellipse cx="540.0" cy="1296.0" rx="13" ry="12" fill="#ea1c1c" fill-opacity="1.00" filter="url(#bl3)"/>
<ellipse cx="510.0" cy="1296.0" rx="10" ry="11" fill="#ea1c1c" fill-opacity="0.51" filter="url(#bl3)"/>
<ellipse cx="604.0" cy="1023.2" rx="13" ry="12" fill="#ea1c1c" fill-opacity="0.71" filter="url(#bl3)"/>
<ellipse cx="574.0" cy="1023.2" rx="10" ry="11" fill="#ea1c1c" fill-opacity="0.27" filter="url(#bl3)"/>
<ellipse cx="604.0" cy="1068.5" rx="13" ry="12" fill="#ea1c1c" fill-opacity="1.00" filter="url(#bl3)"/>
<ellipse cx="574.0" cy="1068.5" rx="10" ry="11" fill="#ea1c1c" fill-opacity="0.59" filter="url(#bl3)"/>
<ellipse cx="604.0" cy="1113.2" rx="13" ry="12" fill="#ea1c1c" fill-opacity="0.81" filter="url(#bl3)"/>
<ellipse cx="574.0" cy="1113.2" rx="10" ry="11" fill="#ea1c1c" fill-opacity="0.41" filter="url(#bl3)"/>
<ellipse cx="604.0" cy="1158.5" rx="13" ry="12" fill="#ea1c1c" fill-opacity="0.97" filter="url(#bl3)"/>
<ellipse cx="574.0" cy="1158.5" rx="10" ry="11" fill="#ea1c1c" fill-opacity="0.36" filter="url(#bl3)"/>
<ellipse cx="604.0" cy="1204.0" rx="13" ry="12" fill="#ea1c1c" fill-opacity="0.86" filter="url(#bl3)"/>
<ellipse cx="574.0" cy="1204.0" rx="10" ry="11" fill="#ea1c1c" fill-opacity="0.36" filter="url(#bl3)"/>
<ellipse cx="604.0" cy="1250.0" rx="13" ry="12" fill="#ea1c1c" fill-opacity="0.87" filter="url(#bl3)"/>
<ellipse cx="574.0" cy="1250.0" rx="10" ry="11" fill="#ea1c1c" fill-opacity="0.46" filter="url(#bl3)"/>
<ellipse cx="604.0" cy="1296.0" rx="13" ry="12" fill="#ea1c1c" fill-opacity="0.84" filter="url(#bl3)"/>
<ellipse cx="574.0" cy="1296.0" rx="10" ry="11" fill="#ea1c1c" fill-opacity="0.38" filter="url(#bl3)"/>
<ellipse cx="667.0" cy="1023.2" rx="13" ry="12" fill="#ea1c1c" fill-opacity="1.00" filter="url(#bl3)"/>
<ellipse cx="637.0" cy="1023.2" rx="10" ry="11" fill="#ea1c1c" fill-opacity="0.26" filter="url(#bl3)"/>
<ellipse cx="667.0" cy="1068.5" rx="13" ry="12" fill="#ea1c1c" fill-opacity="0.96" filter="url(#bl3)"/>
<ellipse cx="637.0" cy="1068.5" rx="10" ry="11" fill="#ea1c1c" fill-opacity="0.51" filter="url(#bl3)"/>
<ellipse cx="667.0" cy="1113.2" rx="13" ry="12" fill="#ea1c1c" fill-opacity="0.84" filter="url(#bl3)"/>
<ellipse cx="637.0" cy="1113.2" rx="10" ry="11" fill="#ea1c1c" fill-opacity="0.33" filter="url(#bl3)"/>
<ellipse cx="667.0" cy="1158.5" rx="13" ry="12" fill="#ea1c1c" fill-opacity="1.00" filter="url(#bl3)"/>
<ellipse cx="637.0" cy="1158.5" rx="10" ry="11" fill="#ea1c1c" fill-opacity="0.33" filter="url(#bl3)"/>
<ellipse cx="667.0" cy="1204.0" rx="13" ry="12" fill="#ea1c1c" fill-opacity="0.78" filter="url(#bl3)"/>
<ellipse cx="637.0" cy="1204.0" rx="10" ry="11" fill="#ea1c1c" fill-opacity="0.40" filter="url(#bl3)"/>
<ellipse cx="667.0" cy="1250.0" rx="13" ry="12" fill="#ea1c1c" fill-opacity="1.00" filter="url(#bl3)"/>
<ellipse cx="637.0" cy="1250.0" rx="10" ry="11" fill="#ea1c1c" fill-opacity="0.29" filter="url(#bl3)"/>
<ellipse cx="667.0" cy="1296.0" rx="13" ry="12" fill="#ea1c1c" fill-opacity="0.84" filter="url(#bl3)"/>
<ellipse cx="637.0" cy="1296.0" rx="10" ry="11" fill="#ea1c1c" fill-opacity="0.37" filter="url(#bl3)"/>
<ellipse cx="731.0" cy="1023.2" rx="13" ry="12" fill="#ea1c1c" fill-opacity="1.00" filter="url(#bl3)"/>
<ellipse cx="701.0" cy="1023.2" rx="10" ry="11" fill="#ea1c1c" fill-opacity="0.40" filter="url(#bl3)"/>
<ellipse cx="731.0" cy="1068.5" rx="13" ry="12" fill="#ea1c1c" fill-opacity="1.00" filter="url(#bl3)"/>
<ellipse cx="701.0" cy="1068.5" rx="10" ry="11" fill="#ea1c1c" fill-opacity="0.31" filter="url(#bl3)"/>
<ellipse cx="731.0" cy="1113.2" rx="13" ry="12" fill="#ea1c1c" fill-opacity="0.85" filter="url(#bl3)"/>
<ellipse cx="701.0" cy="1113.2" rx="10" ry="11" fill="#ea1c1c" fill-opacity="0.48" filter="url(#bl3)"/>
<ellipse cx="731.0" cy="1158.5" rx="13" ry="12" fill="#ea1c1c" fill-opacity="1.00" filter="url(#bl3)"/>
<ellipse cx="701.0" cy="1158.5" rx="10" ry="11" fill="#ea1c1c" fill-opacity="0.41" filter="url(#bl3)"/>
<ellipse cx="731.0" cy="1204.0" rx="13" ry="12" fill="#ea1c1c" fill-opacity="0.80" filter="url(#bl3)"/>
<ellipse cx="701.0" cy="1204.0" rx="10" ry="11" fill="#ea1c1c" fill-opacity="0.29" filter="url(#bl3)"/>
<ellipse cx="731.0" cy="1250.0" rx="13" ry="12" fill="#ea1c1c" fill-opacity="0.94" filter="url(#bl3)"/>
<ellipse cx="701.0" cy="1250.0" rx="10" ry="11" fill="#ea1c1c" fill-opacity="0.32" filter="url(#bl3)"/>
<ellipse cx="731.0" cy="1296.0" rx="13" ry="12" fill="#ea1c1c" fill-opacity="1.00" filter="url(#bl3)"/>
<ellipse cx="701.0" cy="1296.0" rx="10" ry="11" fill="#ea1c1c" fill-opacity="0.54" filter="url(#bl3)"/>
<ellipse cx="795.0" cy="1023.2" rx="13" ry="12" fill="#ea1c1c" fill-opacity="0.78" filter="url(#bl3)"/>
<ellipse cx="765.0" cy="1023.2" rx="10" ry="11" fill="#ea1c1c" fill-opacity="0.35" filter="url(#bl3)"/>
<ellipse cx="795.0" cy="1068.5" rx="13" ry="12" fill="#ea1c1c" fill-opacity="1.00" filter="url(#bl3)"/>
<ellipse cx="765.0" cy="1068.5" rx="10" ry="11" fill="#ea1c1c" fill-opacity="0.47" filter="url(#bl3)"/>
<ellipse cx="795.0" cy="1113.2" rx="13" ry="12" fill="#ea1c1c" fill-opacity="1.00" filter="url(#bl3)"/>
<ellipse cx="765.0" cy="1113.2" rx="10" ry="11" fill="#ea1c1c" fill-opacity="0.37" filter="url(#bl3)"/>
<ellipse cx="795.0" cy="1158.5" rx="13" ry="12" fill="#ea1c1c" fill-opacity="0.76" filter="url(#bl3)"/>
<ellipse cx="765.0" cy="1158.5" rx="10" ry="11" fill="#ea1c1c" fill-opacity="0.35" filter="url(#bl3)"/>
<ellipse cx="795.0" cy="1204.0" rx="13" ry="12" fill="#ea1c1c" fill-opacity="1.00" filter="url(#bl3)"/>
<ellipse cx="765.0" cy="1204.0" rx="10" ry="11" fill="#ea1c1c" fill-opacity="0.34" filter="url(#bl3)"/>
<ellipse cx="795.0" cy="1250.0" rx="13" ry="12" fill="#ea1c1c" fill-opacity="0.86" filter="url(#bl3)"/>
<ellipse cx="765.0" cy="1250.0" rx="10" ry="11" fill="#ea1c1c" fill-opacity="0.40" filter="url(#bl3)"/>
<ellipse cx="795.0" cy="1296.0" rx="13" ry="12" fill="#ea1c1c" fill-opacity="0.89" filter="url(#bl3)"/>
<ellipse cx="765.0" cy="1296.0" rx="10" ry="11" fill="#ea1c1c" fill-opacity="0.39" filter="url(#bl3)"/>
<ellipse cx="855.0" cy="1023.2" rx="13" ry="12" fill="#ea1c1c" fill-opacity="1.00" filter="url(#bl3)"/>
<ellipse cx="825.0" cy="1023.2" rx="10" ry="11" fill="#ea1c1c" fill-opacity="0.30" filter="url(#bl3)"/>
<ellipse cx="855.0" cy="1068.5" rx="13" ry="12" fill="#ea1c1c" fill-opacity="0.70" filter="url(#bl3)"/>
<ellipse cx="825.0" cy="1068.5" rx="10" ry="11" fill="#ea1c1c" fill-opacity="0.58" filter="url(#bl3)"/>
<ellipse cx="855.0" cy="1113.2" rx="13" ry="12" fill="#ea1c1c" fill-opacity="1.00" filter="url(#bl3)"/>
<ellipse cx="825.0" cy="1113.2" rx="10" ry="11" fill="#ea1c1c" fill-opacity="0.60" filter="url(#bl3)"/>
<ellipse cx="855.0" cy="1158.5" rx="13" ry="12" fill="#ea1c1c" fill-opacity="0.90" filter="url(#bl3)"/>
<ellipse cx="825.0" cy="1158.5" rx="10" ry="11" fill="#ea1c1c" fill-opacity="0.58" filter="url(#bl3)"/>
<ellipse cx="855.0" cy="1204.0" rx="13" ry="12" fill="#ea1c1c" fill-opacity="1.00" filter="url(#bl3)"/>
<ellipse cx="825.0" cy="1204.0" rx="10" ry="11" fill="#ea1c1c" fill-opacity="0.33" filter="url(#bl3)"/>
<ellipse cx="855.0" cy="1250.0" rx="13" ry="12" fill="#ea1c1c" fill-opacity="1.00" filter="url(#bl3)"/>
<ellipse cx="825.0" cy="1250.0" rx="10" ry="11" fill="#ea1c1c" fill-opacity="0.54" filter="url(#bl3)"/>
<ellipse cx="855.0" cy="1296.0" rx="13" ry="12" fill="#ea1c1c" fill-opacity="1.00" filter="url(#bl3)"/>
<ellipse cx="825.0" cy="1296.0" rx="10" ry="11" fill="#ea1c1c" fill-opacity="0.43" filter="url(#bl3)"/>
<ellipse cx="919.0" cy="1023.2" rx="13" ry="12" fill="#ea1c1c" fill-opacity="0.83" filter="url(#bl3)"/>
<ellipse cx="889.0" cy="1023.2" rx="10" ry="11" fill="#ea1c1c" fill-opacity="0.37" filter="url(#bl3)"/>
<ellipse cx="919.0" cy="1068.5" rx="13" ry="12" fill="#ea1c1c" fill-opacity="0.80" filter="url(#bl3)"/>
<ellipse cx="889.0" cy="1068.5" rx="10" ry="11" fill="#ea1c1c" fill-opacity="0.27" filter="url(#bl3)"/>
<ellipse cx="919.0" cy="1113.2" rx="13" ry="12" fill="#ea1c1c" fill-opacity="0.96" filter="url(#bl3)"/>
<ellipse cx="889.0" cy="1113.2" rx="10" ry="11" fill="#ea1c1c" fill-opacity="0.35" filter="url(#bl3)"/>
<ellipse cx="919.0" cy="1158.5" rx="13" ry="12" fill="#ea1c1c" fill-opacity="1.00" filter="url(#bl3)"/>
<ellipse cx="889.0" cy="1158.5" rx="10" ry="11" fill="#ea1c1c" fill-opacity="0.27" filter="url(#bl3)"/>
<ellipse cx="919.0" cy="1204.0" rx="13" ry="12" fill="#ea1c1c" fill-opacity="1.00" filter="url(#bl3)"/>
<ellipse cx="889.0" cy="1204.0" rx="10" ry="11" fill="#ea1c1c" fill-opacity="0.49" filter="url(#bl3)"/>
<ellipse cx="919.0" cy="1250.0" rx="13" ry="12" fill="#ea1c1c" fill-opacity="1.00" filter="url(#bl3)"/>
<ellipse cx="889.0" cy="1250.0" rx="10" ry="11" fill="#ea1c1c" fill-opacity="0.56" filter="url(#bl3)"/>
<ellipse cx="919.0" cy="1296.0" rx="13" ry="12" fill="#ea1c1c" fill-opacity="1.00" filter="url(#bl3)"/>
<ellipse cx="889.0" cy="1296.0" rx="10" ry="11" fill="#ea1c1c" fill-opacity="0.45" filter="url(#bl3)"/>
<rect x="35.0" y="1020.5" width="14" height="282.0" fill="#dcd2da" fill-opacity="0.75" filter="url(#bl3)"/>
<rect x="99.4" y="1020.5" width="14" height="282.0" fill="#dcd2da" fill-opacity="0.75" filter="url(#bl3)"/>
<rect x="163.7" y="1020.5" width="14" height="282.0" fill="#dcd2da" fill-opacity="0.75" filter="url(#bl3)"/>
<rect x="228.0" y="1020.5" width="14" height="282.0" fill="#dcd2da" fill-opacity="0.75" filter="url(#bl3)"/>
<rect x="292.5" y="1020.5" width="14" height="282.0" fill="#dcd2da" fill-opacity="0.75" filter="url(#bl3)"/>
<rect x="356.2" y="1020.5" width="14" height="282.0" fill="#dcd2da" fill-opacity="0.75" filter="url(#bl3)"/>
<rect x="420.0" y="1020.5" width="14" height="282.0" fill="#dcd2da" fill-opacity="0.75" filter="url(#bl3)"/>
<rect x="485.0" y="1020.5" width="14" height="282.0" fill="#dcd2da" fill-opacity="0.75" filter="url(#bl3)"/>
<rect x="550.0" y="1020.5" width="14" height="282.0" fill="#dcd2da" fill-opacity="0.75" filter="url(#bl3)"/>
<rect x="613.5" y="1020.5" width="14" height="282.0" fill="#dcd2da" fill-opacity="0.75" filter="url(#bl3)"/>
<rect x="677.0" y="1020.5" width="14" height="282.0" fill="#dcd2da" fill-opacity="0.75" filter="url(#bl3)"/>
<rect x="741.0" y="1020.5" width="14" height="282.0" fill="#dcd2da" fill-opacity="0.75" filter="url(#bl3)"/>
<rect x="803.0" y="1020.5" width="14" height="282.0" fill="#dcd2da" fill-opacity="0.75" filter="url(#bl3)"/>
<rect x="865.0" y="1020.5" width="14" height="282.0" fill="#dcd2da" fill-opacity="0.75" filter="url(#bl3)"/>
<ellipse cx="10.0" cy="996.0" rx="14" ry="11.5" fill="#dcd6e2"/>
<ellipse cx="10.0" cy="1043.0" rx="14" ry="11.5" fill="#dcd6e2"/>
<ellipse cx="10.0" cy="1087.0" rx="14" ry="11.5" fill="#dcd6e2"/>
<ellipse cx="10.0" cy="1132.5" rx="14" ry="11.5" fill="#dcd6e2"/>
<ellipse cx="10.0" cy="1181.0" rx="14" ry="11.5" fill="#dcd6e2"/>
<ellipse cx="10.0" cy="1227.0" rx="14" ry="11.5" fill="#dcd6e2"/>
<ellipse cx="10.0" cy="1273.0" rx="14" ry="11.5" fill="#dcd6e2"/>
<ellipse cx="10.0" cy="1319.0" rx="14" ry="11.5" fill="#dcd6e2"/>
<ellipse cx="74.0" cy="996.0" rx="14" ry="11.5" fill="#dcd6e2"/>
<ellipse cx="74.0" cy="1043.0" rx="14" ry="11.5" fill="#dcd6e2"/>
<ellipse cx="74.0" cy="1087.0" rx="14" ry="11.5" fill="#dcd6e2"/>
<ellipse cx="74.0" cy="1132.5" rx="14" ry="11.5" fill="#dcd6e2"/>
<ellipse cx="74.0" cy="1181.0" rx="14" ry="11.5" fill="#dcd6e2"/>
<ellipse cx="74.0" cy="1227.0" rx="14" ry="11.5" fill="#dcd6e2"/>
<ellipse cx="74.0" cy="1273.0" rx="14" ry="11.5" fill="#dcd6e2"/>
<ellipse cx="74.0" cy="1319.0" rx="14" ry="11.5" fill="#dcd6e2"/>
<ellipse cx="138.8" cy="996.0" rx="14" ry="11.5" fill="#dcd6e2"/>
<ellipse cx="138.8" cy="1043.0" rx="14" ry="11.5" fill="#dcd6e2"/>
<ellipse cx="138.8" cy="1087.0" rx="14" ry="11.5" fill="#dcd6e2"/>
<ellipse cx="138.8" cy="1132.5" rx="14" ry="11.5" fill="#dcd6e2"/>
<ellipse cx="138.8" cy="1181.0" rx="14" ry="11.5" fill="#dcd6e2"/>
<ellipse cx="138.8" cy="1227.0" rx="14" ry="11.5" fill="#dcd6e2"/>
<ellipse cx="138.8" cy="1273.0" rx="14" ry="11.5" fill="#dcd6e2"/>
<ellipse cx="138.8" cy="1319.0" rx="14" ry="11.5" fill="#dcd6e2"/>
<ellipse cx="202.5" cy="996.0" rx="14" ry="11.5" fill="#dcd6e2"/>
<ellipse cx="202.5" cy="1043.0" rx="14" ry="11.5" fill="#dcd6e2"/>
<ellipse cx="202.5" cy="1087.0" rx="14" ry="11.5" fill="#dcd6e2"/>
<ellipse cx="202.5" cy="1132.5" rx="14" ry="11.5" fill="#dcd6e2"/>
<ellipse cx="202.5" cy="1181.0" rx="14" ry="11.5" fill="#dcd6e2"/>
<ellipse cx="202.5" cy="1227.0" rx="14" ry="11.5" fill="#dcd6e2"/>
<ellipse cx="202.5" cy="1273.0" rx="14" ry="11.5" fill="#dcd6e2"/>
<ellipse cx="202.5" cy="1319.0" rx="14" ry="11.5" fill="#dcd6e2"/>
<ellipse cx="267.5" cy="996.0" rx="14" ry="11.5" fill="#dcd6e2"/>
<ellipse cx="267.5" cy="1043.0" rx="14" ry="11.5" fill="#dcd6e2"/>
<ellipse cx="267.5" cy="1087.0" rx="14" ry="11.5" fill="#dcd6e2"/>
<ellipse cx="267.5" cy="1132.5" rx="14" ry="11.5" fill="#dcd6e2"/>
<ellipse cx="267.5" cy="1181.0" rx="14" ry="11.5" fill="#dcd6e2"/>
<ellipse cx="267.5" cy="1227.0" rx="14" ry="11.5" fill="#dcd6e2"/>
<ellipse cx="267.5" cy="1273.0" rx="14" ry="11.5" fill="#dcd6e2"/>
<ellipse cx="267.5" cy="1319.0" rx="14" ry="11.5" fill="#dcd6e2"/>
<ellipse cx="331.5" cy="996.0" rx="14" ry="11.5" fill="#dcd6e2"/>
<ellipse cx="331.5" cy="1043.0" rx="14" ry="11.5" fill="#dcd6e2"/>
<ellipse cx="331.5" cy="1087.0" rx="14" ry="11.5" fill="#dcd6e2"/>
<ellipse cx="331.5" cy="1132.5" rx="14" ry="11.5" fill="#dcd6e2"/>
<ellipse cx="331.5" cy="1181.0" rx="14" ry="11.5" fill="#dcd6e2"/>
<ellipse cx="331.5" cy="1227.0" rx="14" ry="11.5" fill="#dcd6e2"/>
<ellipse cx="331.5" cy="1273.0" rx="14" ry="11.5" fill="#dcd6e2"/>
<ellipse cx="331.5" cy="1319.0" rx="14" ry="11.5" fill="#dcd6e2"/>
<ellipse cx="395.0" cy="1000.0" rx="15" ry="14" fill="#dcd6e2"/>
<ellipse cx="395.0" cy="1046.5" rx="15" ry="14" fill="#dcd6e2"/>
<ellipse cx="395.0" cy="1090.5" rx="15" ry="14" fill="#dcd6e2"/>
<ellipse cx="395.0" cy="1136.0" rx="15" ry="14" fill="#dcd6e2"/>
<ellipse cx="395.0" cy="1181.0" rx="15" ry="14" fill="#dcd6e2"/>
<ellipse cx="395.0" cy="1227.0" rx="15" ry="14" fill="#dcd6e2"/>
<ellipse cx="395.0" cy="1273.0" rx="15" ry="14" fill="#dcd6e2"/>
<ellipse cx="395.0" cy="1319.0" rx="15" ry="14" fill="#dcd6e2"/>
<ellipse cx="459.0" cy="1000.0" rx="15" ry="14" fill="#dcd6e2"/>
<ellipse cx="459.0" cy="1046.5" rx="15" ry="14" fill="#dcd6e2"/>
<ellipse cx="459.0" cy="1090.5" rx="15" ry="14" fill="#dcd6e2"/>
<ellipse cx="459.0" cy="1136.0" rx="15" ry="14" fill="#dcd6e2"/>
<ellipse cx="459.0" cy="1181.0" rx="15" ry="14" fill="#dcd6e2"/>
<ellipse cx="459.0" cy="1227.0" rx="15" ry="14" fill="#dcd6e2"/>
<ellipse cx="459.0" cy="1273.0" rx="15" ry="14" fill="#dcd6e2"/>
<ellipse cx="459.0" cy="1319.0" rx="15" ry="14" fill="#dcd6e2"/>
<ellipse cx="525.0" cy="1000.0" rx="15" ry="14" fill="#dcd6e2"/>
<ellipse cx="525.0" cy="1046.5" rx="15" ry="14" fill="#dcd6e2"/>
<ellipse cx="525.0" cy="1090.5" rx="15" ry="14" fill="#dcd6e2"/>
<ellipse cx="525.0" cy="1136.0" rx="15" ry="14" fill="#dcd6e2"/>
<ellipse cx="525.0" cy="1181.0" rx="15" ry="14" fill="#dcd6e2"/>
<ellipse cx="525.0" cy="1227.0" rx="15" ry="14" fill="#dcd6e2"/>
<ellipse cx="525.0" cy="1273.0" rx="15" ry="14" fill="#dcd6e2"/>
<ellipse cx="525.0" cy="1319.0" rx="15" ry="14" fill="#dcd6e2"/>
<ellipse cx="589.0" cy="1000.0" rx="15" ry="14" fill="#dcd6e2"/>
<ellipse cx="589.0" cy="1046.5" rx="15" ry="14" fill="#dcd6e2"/>
<ellipse cx="589.0" cy="1090.5" rx="15" ry="14" fill="#dcd6e2"/>
<ellipse cx="589.0" cy="1136.0" rx="15" ry="14" fill="#dcd6e2"/>
<ellipse cx="589.0" cy="1181.0" rx="15" ry="14" fill="#dcd6e2"/>
<ellipse cx="589.0" cy="1227.0" rx="15" ry="14" fill="#dcd6e2"/>
<ellipse cx="589.0" cy="1273.0" rx="15" ry="14" fill="#dcd6e2"/>
<ellipse cx="589.0" cy="1319.0" rx="15" ry="14" fill="#dcd6e2"/>
<ellipse cx="652.0" cy="1000.0" rx="15" ry="14" fill="#dcd6e2"/>
<ellipse cx="652.0" cy="1046.5" rx="15" ry="14" fill="#dcd6e2"/>
<ellipse cx="652.0" cy="1090.5" rx="15" ry="14" fill="#dcd6e2"/>
<ellipse cx="652.0" cy="1136.0" rx="15" ry="14" fill="#dcd6e2"/>
<ellipse cx="652.0" cy="1181.0" rx="15" ry="14" fill="#dcd6e2"/>
<ellipse cx="652.0" cy="1227.0" rx="15" ry="14" fill="#dcd6e2"/>
<ellipse cx="652.0" cy="1273.0" rx="15" ry="14" fill="#dcd6e2"/>
<ellipse cx="652.0" cy="1319.0" rx="15" ry="14" fill="#dcd6e2"/>
<ellipse cx="716.0" cy="1000.0" rx="15" ry="14" fill="#dcd6e2"/>
<ellipse cx="716.0" cy="1046.5" rx="15" ry="14" fill="#dcd6e2"/>
<ellipse cx="716.0" cy="1090.5" rx="15" ry="14" fill="#dcd6e2"/>
<ellipse cx="716.0" cy="1136.0" rx="15" ry="14" fill="#dcd6e2"/>
<ellipse cx="716.0" cy="1181.0" rx="15" ry="14" fill="#dcd6e2"/>
<ellipse cx="716.0" cy="1227.0" rx="15" ry="14" fill="#dcd6e2"/>
<ellipse cx="716.0" cy="1273.0" rx="15" ry="14" fill="#dcd6e2"/>
<ellipse cx="716.0" cy="1319.0" rx="15" ry="14" fill="#dcd6e2"/>
<ellipse cx="780.0" cy="1000.0" rx="15" ry="14" fill="#dcd6e2"/>
<ellipse cx="780.0" cy="1046.5" rx="15" ry="14" fill="#dcd6e2"/>
<ellipse cx="780.0" cy="1090.5" rx="15" ry="14" fill="#dcd6e2"/>
<ellipse cx="780.0" cy="1136.0" rx="15" ry="14" fill="#dcd6e2"/>
<ellipse cx="780.0" cy="1181.0" rx="15" ry="14" fill="#dcd6e2"/>
<ellipse cx="780.0" cy="1227.0" rx="15" ry="14" fill="#dcd6e2"/>
<ellipse cx="780.0" cy="1273.0" rx="15" ry="14" fill="#dcd6e2"/>
<ellipse cx="780.0" cy="1319.0" rx="15" ry="14" fill="#dcd6e2"/>
<ellipse cx="840.0" cy="1000.0" rx="15" ry="14" fill="#dcd6e2"/>
<ellipse cx="840.0" cy="1046.5" rx="15" ry="14" fill="#dcd6e2"/>
<ellipse cx="840.0" cy="1090.5" rx="15" ry="14" fill="#dcd6e2"/>
<ellipse cx="840.0" cy="1136.0" rx="15" ry="14" fill="#dcd6e2"/>
<ellipse cx="840.0" cy="1181.0" rx="15" ry="14" fill="#dcd6e2"/>
<ellipse cx="840.0" cy="1227.0" rx="15" ry="14" fill="#dcd6e2"/>
<ellipse cx="840.0" cy="1273.0" rx="15" ry="14" fill="#dcd6e2"/>
<ellipse cx="840.0" cy="1319.0" rx="15" ry="14" fill="#dcd6e2"/>
<ellipse cx="904.0" cy="1000.0" rx="15" ry="14" fill="#dcd6e2"/>
<ellipse cx="904.0" cy="1046.5" rx="15" ry="14" fill="#dcd6e2"/>
<ellipse cx="904.0" cy="1090.5" rx="15" ry="14" fill="#dcd6e2"/>
<ellipse cx="904.0" cy="1136.0" rx="15" ry="14" fill="#dcd6e2"/>
<ellipse cx="904.0" cy="1181.0" rx="15" ry="14" fill="#dcd6e2"/>
<ellipse cx="904.0" cy="1227.0" rx="15" ry="14" fill="#dcd6e2"/>
<ellipse cx="904.0" cy="1273.0" rx="15" ry="14" fill="#dcd6e2"/>
<ellipse cx="904.0" cy="1319.0" rx="15" ry="14" fill="#dcd6e2"/>
<ellipse cx="42.0" cy="997.0" rx="11" ry="9.5" fill="#d4d0e2"/>
<ellipse cx="42.0" cy="997.0" rx="7.5" ry="6" fill="#7a7ae8"/>
<circle cx="42.0" cy="1019.5" r="7" fill="#d6d2e2"/>
<circle cx="42.0" cy="1019.5" r="4.5" fill="#a8a8e0"/>
<ellipse cx="42.0" cy="1044.0" rx="11" ry="9.5" fill="#d4d0e2"/>
<ellipse cx="42.0" cy="1044.0" rx="7.5" ry="6" fill="#7a7ae8"/>
<circle cx="42.0" cy="1065.0" r="7" fill="#d6d2e2"/>
<circle cx="42.0" cy="1065.0" r="4.5" fill="#a8a8e0"/>
<ellipse cx="42.0" cy="1088.0" rx="11" ry="9.5" fill="#d4d0e2"/>
<ellipse cx="42.0" cy="1088.0" rx="7.5" ry="6" fill="#7a7ae8"/>
<circle cx="42.0" cy="1109.8" r="7" fill="#d6d2e2"/>
<circle cx="42.0" cy="1109.8" r="4.5" fill="#a8a8e0"/>
<ellipse cx="42.0" cy="1133.5" rx="11" ry="9.5" fill="#d4d0e2"/>
<ellipse cx="42.0" cy="1133.5" rx="7.5" ry="6" fill="#7a7ae8"/>
<circle cx="42.0" cy="1156.8" r="7" fill="#d6d2e2"/>
<circle cx="42.0" cy="1156.8" r="4.5" fill="#a8a8e0"/>
<ellipse cx="42.0" cy="1182.0" rx="11" ry="9.5" fill="#d4d0e2"/>
<ellipse cx="42.0" cy="1182.0" rx="7.5" ry="6" fill="#7a7ae8"/>
<circle cx="42.0" cy="1204.0" r="7" fill="#d6d2e2"/>
<circle cx="42.0" cy="1204.0" r="4.5" fill="#a8a8e0"/>
<ellipse cx="42.0" cy="1228.0" rx="11" ry="9.5" fill="#d4d0e2"/>
<ellipse cx="42.0" cy="1228.0" rx="7.5" ry="6" fill="#7a7ae8"/>
<circle cx="42.0" cy="1250.0" r="7" fill="#d6d2e2"/>
<circle cx="42.0" cy="1250.0" r="4.5" fill="#a8a8e0"/>
<ellipse cx="42.0" cy="1274.0" rx="11" ry="9.5" fill="#d4d0e2"/>
<ellipse cx="42.0" cy="1274.0" rx="7.5" ry="6" fill="#7a7ae8"/>
<circle cx="42.0" cy="1296.0" r="7" fill="#d6d2e2"/>
<circle cx="42.0" cy="1296.0" r="4.5" fill="#a8a8e0"/>
<ellipse cx="42.0" cy="1320.0" rx="11" ry="9.5" fill="#d4d0e2"/>
<ellipse cx="42.0" cy="1320.0" rx="7.5" ry="6" fill="#7a7ae8"/>
<ellipse cx="106.4" cy="997.0" rx="11" ry="9.5" fill="#d4d0e2"/>
<ellipse cx="106.4" cy="997.0" rx="7.5" ry="6" fill="#7a7ae8"/>
<circle cx="106.4" cy="1019.5" r="7" fill="#d6d2e2"/>
<circle cx="106.4" cy="1019.5" r="4.5" fill="#a8a8e0"/>
<ellipse cx="106.4" cy="1044.0" rx="11" ry="9.5" fill="#d4d0e2"/>
<ellipse cx="106.4" cy="1044.0" rx="7.5" ry="6" fill="#7a7ae8"/>
<circle cx="106.4" cy="1065.0" r="7" fill="#d6d2e2"/>
<circle cx="106.4" cy="1065.0" r="4.5" fill="#a8a8e0"/>
<ellipse cx="106.4" cy="1088.0" rx="11" ry="9.5" fill="#d4d0e2"/>
<ellipse cx="106.4" cy="1088.0" rx="7.5" ry="6" fill="#7a7ae8"/>
<circle cx="106.4" cy="1109.8" r="7" fill="#d6d2e2"/>
<circle cx="106.4" cy="1109.8" r="4.5" fill="#a8a8e0"/>
<ellipse cx="106.4" cy="1133.5" rx="11" ry="9.5" fill="#d4d0e2"/>
<ellipse cx="106.4" cy="1133.5" rx="7.5" ry="6" fill="#7a7ae8"/>
<circle cx="106.4" cy="1156.8" r="7" fill="#d6d2e2"/>
<circle cx="106.4" cy="1156.8" r="4.5" fill="#a8a8e0"/>
<ellipse cx="106.4" cy="1182.0" rx="11" ry="9.5" fill="#d4d0e2"/>
<ellipse cx="106.4" cy="1182.0" rx="7.5" ry="6" fill="#7a7ae8"/>
<circle cx="106.4" cy="1204.0" r="7" fill="#d6d2e2"/>
<circle cx="106.4" cy="1204.0" r="4.5" fill="#a8a8e0"/>
<ellipse cx="106.4" cy="1228.0" rx="11" ry="9.5" fill="#d4d0e2"/>
<ellipse cx="106.4" cy="1228.0" rx="7.5" ry="6" fill="#7a7ae8"/>
<circle cx="106.4" cy="1250.0" r="7" fill="#d6d2e2"/>
<circle cx="106.4" cy="1250.0" r="4.5" fill="#a8a8e0"/>
<ellipse cx="106.4" cy="1274.0" rx="11" ry="9.5" fill="#d4d0e2"/>
<ellipse cx="106.4" cy="1274.0" rx="7.5" ry="6" fill="#7a7ae8"/>
<circle cx="106.4" cy="1296.0" r="7" fill="#d6d2e2"/>
<circle cx="106.4" cy="1296.0" r="4.5" fill="#a8a8e0"/>
<ellipse cx="106.4" cy="1320.0" rx="11" ry="9.5" fill="#d4d0e2"/>
<ellipse cx="106.4" cy="1320.0" rx="7.5" ry="6" fill="#7a7ae8"/>
<ellipse cx="170.7" cy="997.0" rx="11" ry="9.5" fill="#d4d0e2"/>
<ellipse cx="170.7" cy="997.0" rx="7.5" ry="6" fill="#7a7ae8"/>
<circle cx="170.7" cy="1019.5" r="7" fill="#d6d2e2"/>
<circle cx="170.7" cy="1019.5" r="4.5" fill="#a8a8e0"/>
<ellipse cx="170.7" cy="1044.0" rx="11" ry="9.5" fill="#d4d0e2"/>
<ellipse cx="170.7" cy="1044.0" rx="7.5" ry="6" fill="#7a7ae8"/>
<circle cx="170.7" cy="1065.0" r="7" fill="#d6d2e2"/>
<circle cx="170.7" cy="1065.0" r="4.5" fill="#a8a8e0"/>
<ellipse cx="170.7" cy="1088.0" rx="11" ry="9.5" fill="#d4d0e2"/>
<ellipse cx="170.7" cy="1088.0" rx="7.5" ry="6" fill="#7a7ae8"/>
<circle cx="170.7" cy="1109.8" r="7" fill="#d6d2e2"/>
<circle cx="170.7" cy="1109.8" r="4.5" fill="#a8a8e0"/>
<ellipse cx="170.7" cy="1133.5" rx="11" ry="9.5" fill="#d4d0e2"/>
<ellipse cx="170.7" cy="1133.5" rx="7.5" ry="6" fill="#7a7ae8"/>
<circle cx="170.7" cy="1156.8" r="7" fill="#d6d2e2"/>
<circle cx="170.7" cy="1156.8" r="4.5" fill="#a8a8e0"/>
<ellipse cx="170.7" cy="1182.0" rx="11" ry="9.5" fill="#d4d0e2"/>
<ellipse cx="170.7" cy="1182.0" rx="7.5" ry="6" fill="#7a7ae8"/>
<circle cx="170.7" cy="1204.0" r="7" fill="#d6d2e2"/>
<circle cx="170.7" cy="1204.0" r="4.5" fill="#a8a8e0"/>
<ellipse cx="170.7" cy="1228.0" rx="11" ry="9.5" fill="#d4d0e2"/>
<ellipse cx="170.7" cy="1228.0" rx="7.5" ry="6" fill="#7a7ae8"/>
<circle cx="170.7" cy="1250.0" r="7" fill="#d6d2e2"/>
<circle cx="170.7" cy="1250.0" r="4.5" fill="#a8a8e0"/>
<ellipse cx="170.7" cy="1274.0" rx="11" ry="9.5" fill="#d4d0e2"/>
<ellipse cx="170.7" cy="1274.0" rx="7.5" ry="6" fill="#7a7ae8"/>
<circle cx="170.7" cy="1296.0" r="7" fill="#d6d2e2"/>
<circle cx="170.7" cy="1296.0" r="4.5" fill="#a8a8e0"/>
<ellipse cx="170.7" cy="1320.0" rx="11" ry="9.5" fill="#d4d0e2"/>
<ellipse cx="170.7" cy="1320.0" rx="7.5" ry="6" fill="#7a7ae8"/>
<ellipse cx="235.0" cy="997.0" rx="11" ry="9.5" fill="#d4d0e2"/>
<ellipse cx="235.0" cy="997.0" rx="7.5" ry="6" fill="#7a7ae8"/>
<circle cx="235.0" cy="1019.5" r="7" fill="#d6d2e2"/>
<circle cx="235.0" cy="1019.5" r="4.5" fill="#a8a8e0"/>
<ellipse cx="235.0" cy="1044.0" rx="11" ry="9.5" fill="#d4d0e2"/>
<ellipse cx="235.0" cy="1044.0" rx="7.5" ry="6" fill="#7a7ae8"/>
<circle cx="235.0" cy="1065.0" r="7" fill="#d6d2e2"/>
<circle cx="235.0" cy="1065.0" r="4.5" fill="#a8a8e0"/>
<ellipse cx="235.0" cy="1088.0" rx="11" ry="9.5" fill="#d4d0e2"/>
<ellipse cx="235.0" cy="1088.0" rx="7.5" ry="6" fill="#7a7ae8"/>
<circle cx="235.0" cy="1109.8" r="7" fill="#d6d2e2"/>
<circle cx="235.0" cy="1109.8" r="4.5" fill="#a8a8e0"/>
<ellipse cx="235.0" cy="1133.5" rx="11" ry="9.5" fill="#d4d0e2"/>
<ellipse cx="235.0" cy="1133.5" rx="7.5" ry="6" fill="#7a7ae8"/>
<circle cx="235.0" cy="1156.8" r="7" fill="#d6d2e2"/>
<circle cx="235.0" cy="1156.8" r="4.5" fill="#a8a8e0"/>
<ellipse cx="235.0" cy="1182.0" rx="11" ry="9.5" fill="#d4d0e2"/>
<ellipse cx="235.0" cy="1182.0" rx="7.5" ry="6" fill="#7a7ae8"/>
<circle cx="235.0" cy="1204.0" r="7" fill="#d6d2e2"/>
<circle cx="235.0" cy="1204.0" r="4.5" fill="#a8a8e0"/>
<ellipse cx="235.0" cy="1228.0" rx="11" ry="9.5" fill="#d4d0e2"/>
<ellipse cx="235.0" cy="1228.0" rx="7.5" ry="6" fill="#7a7ae8"/>
<circle cx="235.0" cy="1250.0" r="7" fill="#d6d2e2"/>
<circle cx="235.0" cy="1250.0" r="4.5" fill="#a8a8e0"/>
<ellipse cx="235.0" cy="1274.0" rx="11" ry="9.5" fill="#d4d0e2"/>
<ellipse cx="235.0" cy="1274.0" rx="7.5" ry="6" fill="#7a7ae8"/>
<circle cx="235.0" cy="1296.0" r="7" fill="#d6d2e2"/>
<circle cx="235.0" cy="1296.0" r="4.5" fill="#a8a8e0"/>
<ellipse cx="235.0" cy="1320.0" rx="11" ry="9.5" fill="#d4d0e2"/>
<ellipse cx="235.0" cy="1320.0" rx="7.5" ry="6" fill="#7a7ae8"/>
<ellipse cx="299.5" cy="997.0" rx="11" ry="9.5" fill="#d4d0e2"/>
<ellipse cx="299.5" cy="997.0" rx="7.5" ry="6" fill="#7a7ae8"/>
<circle cx="299.5" cy="1019.5" r="7" fill="#d6d2e2"/>
<circle cx="299.5" cy="1019.5" r="4.5" fill="#a8a8e0"/>
<ellipse cx="299.5" cy="1044.0" rx="11" ry="9.5" fill="#d4d0e2"/>
<ellipse cx="299.5" cy="1044.0" rx="7.5" ry="6" fill="#7a7ae8"/>
<circle cx="299.5" cy="1065.0" r="7" fill="#d6d2e2"/>
<circle cx="299.5" cy="1065.0" r="4.5" fill="#a8a8e0"/>
<ellipse cx="299.5" cy="1088.0" rx="11" ry="9.5" fill="#d4d0e2"/>
<ellipse cx="299.5" cy="1088.0" rx="7.5" ry="6" fill="#7a7ae8"/>
<circle cx="299.5" cy="1109.8" r="7" fill="#d6d2e2"/>
<circle cx="299.5" cy="1109.8" r="4.5" fill="#a8a8e0"/>
<ellipse cx="299.5" cy="1133.5" rx="11" ry="9.5" fill="#d4d0e2"/>
<ellipse cx="299.5" cy="1133.5" rx="7.5" ry="6" fill="#7a7ae8"/>
<circle cx="299.5" cy="1156.8" r="7" fill="#d6d2e2"/>
<circle cx="299.5" cy="1156.8" r="4.5" fill="#a8a8e0"/>
<ellipse cx="299.5" cy="1182.0" rx="11" ry="9.5" fill="#d4d0e2"/>
<ellipse cx="299.5" cy="1182.0" rx="7.5" ry="6" fill="#7a7ae8"/>
<circle cx="299.5" cy="1204.0" r="7" fill="#d6d2e2"/>
<circle cx="299.5" cy="1204.0" r="4.5" fill="#a8a8e0"/>
<ellipse cx="299.5" cy="1228.0" rx="11" ry="9.5" fill="#d4d0e2"/>
<ellipse cx="299.5" cy="1228.0" rx="7.5" ry="6" fill="#7a7ae8"/>
<circle cx="299.5" cy="1250.0" r="7" fill="#d6d2e2"/>
<circle cx="299.5" cy="1250.0" r="4.5" fill="#a8a8e0"/>
<ellipse cx="299.5" cy="1274.0" rx="11" ry="9.5" fill="#d4d0e2"/>
<ellipse cx="299.5" cy="1274.0" rx="7.5" ry="6" fill="#7a7ae8"/>
<circle cx="299.5" cy="1296.0" r="7" fill="#d6d2e2"/>
<circle cx="299.5" cy="1296.0" r="4.5" fill="#a8a8e0"/>
<ellipse cx="299.5" cy="1320.0" rx="11" ry="9.5" fill="#d4d0e2"/>
<ellipse cx="299.5" cy="1320.0" rx="7.5" ry="6" fill="#7a7ae8"/>
<ellipse cx="363.2" cy="997.0" rx="11" ry="9.5" fill="#d4d0e2"/>
<ellipse cx="363.2" cy="997.0" rx="7.5" ry="6" fill="#7a7ae8"/>
<circle cx="363.2" cy="1019.5" r="7" fill="#d6d2e2"/>
<circle cx="363.2" cy="1019.5" r="4.5" fill="#a8a8e0"/>
<ellipse cx="363.2" cy="1044.0" rx="11" ry="9.5" fill="#d4d0e2"/>
<ellipse cx="363.2" cy="1044.0" rx="7.5" ry="6" fill="#7a7ae8"/>
<circle cx="363.2" cy="1065.0" r="7" fill="#d6d2e2"/>
<circle cx="363.2" cy="1065.0" r="4.5" fill="#a8a8e0"/>
<ellipse cx="363.2" cy="1088.0" rx="11" ry="9.5" fill="#d4d0e2"/>
<ellipse cx="363.2" cy="1088.0" rx="7.5" ry="6" fill="#7a7ae8"/>
<circle cx="363.2" cy="1109.8" r="7" fill="#d6d2e2"/>
<circle cx="363.2" cy="1109.8" r="4.5" fill="#a8a8e0"/>
<ellipse cx="363.2" cy="1133.5" rx="11" ry="9.5" fill="#d4d0e2"/>
<ellipse cx="363.2" cy="1133.5" rx="7.5" ry="6" fill="#7a7ae8"/>
<circle cx="363.2" cy="1156.8" r="7" fill="#d6d2e2"/>
<circle cx="363.2" cy="1156.8" r="4.5" fill="#a8a8e0"/>
<ellipse cx="363.2" cy="1182.0" rx="11" ry="9.5" fill="#d4d0e2"/>
<ellipse cx="363.2" cy="1182.0" rx="7.5" ry="6" fill="#7a7ae8"/>
<circle cx="363.2" cy="1204.0" r="7" fill="#d6d2e2"/>
<circle cx="363.2" cy="1204.0" r="4.5" fill="#a8a8e0"/>
<ellipse cx="363.2" cy="1228.0" rx="11" ry="9.5" fill="#d4d0e2"/>
<ellipse cx="363.2" cy="1228.0" rx="7.5" ry="6" fill="#7a7ae8"/>
<circle cx="363.2" cy="1250.0" r="7" fill="#d6d2e2"/>
<circle cx="363.2" cy="1250.0" r="4.5" fill="#a8a8e0"/>
<ellipse cx="363.2" cy="1274.0" rx="11" ry="9.5" fill="#d4d0e2"/>
<ellipse cx="363.2" cy="1274.0" rx="7.5" ry="6" fill="#7a7ae8"/>
<circle cx="363.2" cy="1296.0" r="7" fill="#d6d2e2"/>
<circle cx="363.2" cy="1296.0" r="4.5" fill="#a8a8e0"/>
<ellipse cx="363.2" cy="1320.0" rx="11" ry="9.5" fill="#d4d0e2"/>
<ellipse cx="363.2" cy="1320.0" rx="7.5" ry="6" fill="#7a7ae8"/>
<circle cx="427.0" cy="1002.0" r="9" fill="#d6d2e2"/>
<ellipse cx="427.0" cy="1002.0" rx="5.5" ry="5" fill="#9292e2"/>
<circle cx="427.0" cy="1023.2" r="7" fill="#d6d2e2"/>
<circle cx="427.0" cy="1023.2" r="4.5" fill="#a8a8e0"/>
<circle cx="427.0" cy="1048.5" r="9" fill="#d6d2e2"/>
<ellipse cx="427.0" cy="1048.5" rx="5.5" ry="5" fill="#9292e2"/>
<circle cx="427.0" cy="1068.5" r="7" fill="#d6d2e2"/>
<circle cx="427.0" cy="1068.5" r="4.5" fill="#a8a8e0"/>
<circle cx="427.0" cy="1092.5" r="9" fill="#d6d2e2"/>
<ellipse cx="427.0" cy="1092.5" rx="5.5" ry="5" fill="#9292e2"/>
<circle cx="427.0" cy="1113.2" r="7" fill="#d6d2e2"/>
<circle cx="427.0" cy="1113.2" r="4.5" fill="#a8a8e0"/>
<circle cx="427.0" cy="1138.0" r="9" fill="#d6d2e2"/>
<ellipse cx="427.0" cy="1138.0" rx="5.5" ry="5" fill="#9292e2"/>
<circle cx="427.0" cy="1158.5" r="7" fill="#d6d2e2"/>
<circle cx="427.0" cy="1158.5" r="4.5" fill="#a8a8e0"/>
<circle cx="427.0" cy="1183.0" r="9" fill="#d6d2e2"/>
<ellipse cx="427.0" cy="1183.0" rx="5.5" ry="5" fill="#9292e2"/>
<circle cx="427.0" cy="1204.0" r="7" fill="#d6d2e2"/>
<circle cx="427.0" cy="1204.0" r="4.5" fill="#a8a8e0"/>
<circle cx="427.0" cy="1229.0" r="9" fill="#d6d2e2"/>
<ellipse cx="427.0" cy="1229.0" rx="5.5" ry="5" fill="#9292e2"/>
<circle cx="427.0" cy="1250.0" r="7" fill="#d6d2e2"/>
<circle cx="427.0" cy="1250.0" r="4.5" fill="#a8a8e0"/>
<circle cx="427.0" cy="1275.0" r="9" fill="#d6d2e2"/>
<ellipse cx="427.0" cy="1275.0" rx="5.5" ry="5" fill="#9292e2"/>
<circle cx="427.0" cy="1296.0" r="7" fill="#d6d2e2"/>
<circle cx="427.0" cy="1296.0" r="4.5" fill="#a8a8e0"/>
<circle cx="427.0" cy="1321.0" r="9" fill="#d6d2e2"/>
<ellipse cx="427.0" cy="1321.0" rx="5.5" ry="5" fill="#9292e2"/>
<circle cx="492.0" cy="1002.0" r="9" fill="#d6d2e2"/>
<ellipse cx="492.0" cy="1002.0" rx="5.5" ry="5" fill="#9292e2"/>
<circle cx="492.0" cy="1023.2" r="7" fill="#d6d2e2"/>
<circle cx="492.0" cy="1023.2" r="4.5" fill="#a8a8e0"/>
<circle cx="492.0" cy="1048.5" r="9" fill="#d6d2e2"/>
<ellipse cx="492.0" cy="1048.5" rx="5.5" ry="5" fill="#9292e2"/>
<circle cx="492.0" cy="1068.5" r="7" fill="#d6d2e2"/>
<circle cx="492.0" cy="1068.5" r="4.5" fill="#a8a8e0"/>
<circle cx="492.0" cy="1092.5" r="9" fill="#d6d2e2"/>
<ellipse cx="492.0" cy="1092.5" rx="5.5" ry="5" fill="#9292e2"/>
<circle cx="492.0" cy="1113.2" r="7" fill="#d6d2e2"/>
<circle cx="492.0" cy="1113.2" r="4.5" fill="#a8a8e0"/>
<circle cx="492.0" cy="1138.0" r="9" fill="#d6d2e2"/>
<ellipse cx="492.0" cy="1138.0" rx="5.5" ry="5" fill="#9292e2"/>
<circle cx="492.0" cy="1158.5" r="7" fill="#d6d2e2"/>
<circle cx="492.0" cy="1158.5" r="4.5" fill="#a8a8e0"/>
<circle cx="492.0" cy="1183.0" r="9" fill="#d6d2e2"/>
<ellipse cx="492.0" cy="1183.0" rx="5.5" ry="5" fill="#9292e2"/>
<circle cx="492.0" cy="1204.0" r="7" fill="#d6d2e2"/>
<circle cx="492.0" cy="1204.0" r="4.5" fill="#a8a8e0"/>
<circle cx="492.0" cy="1229.0" r="9" fill="#d6d2e2"/>
<ellipse cx="492.0" cy="1229.0" rx="5.5" ry="5" fill="#9292e2"/>
<circle cx="492.0" cy="1250.0" r="7" fill="#d6d2e2"/>
<circle cx="492.0" cy="1250.0" r="4.5" fill="#a8a8e0"/>
<circle cx="492.0" cy="1275.0" r="9" fill="#d6d2e2"/>
<ellipse cx="492.0" cy="1275.0" rx="5.5" ry="5" fill="#9292e2"/>
<circle cx="492.0" cy="1296.0" r="7" fill="#d6d2e2"/>
<circle cx="492.0" cy="1296.0" r="4.5" fill="#a8a8e0"/>
<circle cx="492.0" cy="1321.0" r="9" fill="#d6d2e2"/>
<ellipse cx="492.0" cy="1321.0" rx="5.5" ry="5" fill="#9292e2"/>
<circle cx="557.0" cy="1002.0" r="9" fill="#d6d2e2"/>
<ellipse cx="557.0" cy="1002.0" rx="5.5" ry="5" fill="#9292e2"/>
<circle cx="557.0" cy="1023.2" r="7" fill="#d6d2e2"/>
<circle cx="557.0" cy="1023.2" r="4.5" fill="#a8a8e0"/>
<circle cx="557.0" cy="1048.5" r="9" fill="#d6d2e2"/>
<ellipse cx="557.0" cy="1048.5" rx="5.5" ry="5" fill="#9292e2"/>
<circle cx="557.0" cy="1068.5" r="7" fill="#d6d2e2"/>
<circle cx="557.0" cy="1068.5" r="4.5" fill="#a8a8e0"/>
<circle cx="557.0" cy="1092.5" r="9" fill="#d6d2e2"/>
<ellipse cx="557.0" cy="1092.5" rx="5.5" ry="5" fill="#9292e2"/>
<circle cx="557.0" cy="1113.2" r="7" fill="#d6d2e2"/>
<circle cx="557.0" cy="1113.2" r="4.5" fill="#a8a8e0"/>
<circle cx="557.0" cy="1138.0" r="9" fill="#d6d2e2"/>
<ellipse cx="557.0" cy="1138.0" rx="5.5" ry="5" fill="#9292e2"/>
<circle cx="557.0" cy="1158.5" r="7" fill="#d6d2e2"/>
<circle cx="557.0" cy="1158.5" r="4.5" fill="#a8a8e0"/>
<circle cx="557.0" cy="1183.0" r="9" fill="#d6d2e2"/>
<ellipse cx="557.0" cy="1183.0" rx="5.5" ry="5" fill="#9292e2"/>
<circle cx="557.0" cy="1204.0" r="7" fill="#d6d2e2"/>
<circle cx="557.0" cy="1204.0" r="4.5" fill="#a8a8e0"/>
<circle cx="557.0" cy="1229.0" r="9" fill="#d6d2e2"/>
<ellipse cx="557.0" cy="1229.0" rx="5.5" ry="5" fill="#9292e2"/>
<circle cx="557.0" cy="1250.0" r="7" fill="#d6d2e2"/>
<circle cx="557.0" cy="1250.0" r="4.5" fill="#a8a8e0"/>
<circle cx="557.0" cy="1275.0" r="9" fill="#d6d2e2"/>
<ellipse cx="557.0" cy="1275.0" rx="5.5" ry="5" fill="#9292e2"/>
<circle cx="557.0" cy="1296.0" r="7" fill="#d6d2e2"/>
<circle cx="557.0" cy="1296.0" r="4.5" fill="#a8a8e0"/>
<circle cx="557.0" cy="1321.0" r="9" fill="#d6d2e2"/>
<ellipse cx="557.0" cy="1321.0" rx="5.5" ry="5" fill="#9292e2"/>
<circle cx="620.5" cy="1002.0" r="9" fill="#d6d2e2"/>
<ellipse cx="620.5" cy="1002.0" rx="5.5" ry="5" fill="#9292e2"/>
<circle cx="620.5" cy="1023.2" r="7" fill="#d6d2e2"/>
<circle cx="620.5" cy="1023.2" r="4.5" fill="#a8a8e0"/>
<circle cx="620.5" cy="1048.5" r="9" fill="#d6d2e2"/>
<ellipse cx="620.5" cy="1048.5" rx="5.5" ry="5" fill="#9292e2"/>
<circle cx="620.5" cy="1068.5" r="7" fill="#d6d2e2"/>
<circle cx="620.5" cy="1068.5" r="4.5" fill="#a8a8e0"/>
<circle cx="620.5" cy="1092.5" r="9" fill="#d6d2e2"/>
<ellipse cx="620.5" cy="1092.5" rx="5.5" ry="5" fill="#9292e2"/>
<circle cx="620.5" cy="1113.2" r="7" fill="#d6d2e2"/>
<circle cx="620.5" cy="1113.2" r="4.5" fill="#a8a8e0"/>
<circle cx="620.5" cy="1138.0" r="9" fill="#d6d2e2"/>
<ellipse cx="620.5" cy="1138.0" rx="5.5" ry="5" fill="#9292e2"/>
<circle cx="620.5" cy="1158.5" r="7" fill="#d6d2e2"/>
<circle cx="620.5" cy="1158.5" r="4.5" fill="#a8a8e0"/>
<circle cx="620.5" cy="1183.0" r="9" fill="#d6d2e2"/>
<ellipse cx="620.5" cy="1183.0" rx="5.5" ry="5" fill="#9292e2"/>
<circle cx="620.5" cy="1204.0" r="7" fill="#d6d2e2"/>
<circle cx="620.5" cy="1204.0" r="4.5" fill="#a8a8e0"/>
<circle cx="620.5" cy="1229.0" r="9" fill="#d6d2e2"/>
<ellipse cx="620.5" cy="1229.0" rx="5.5" ry="5" fill="#9292e2"/>
<circle cx="620.5" cy="1250.0" r="7" fill="#d6d2e2"/>
<circle cx="620.5" cy="1250.0" r="4.5" fill="#a8a8e0"/>
<circle cx="620.5" cy="1275.0" r="9" fill="#d6d2e2"/>
<ellipse cx="620.5" cy="1275.0" rx="5.5" ry="5" fill="#9292e2"/>
<circle cx="620.5" cy="1296.0" r="7" fill="#d6d2e2"/>
<circle cx="620.5" cy="1296.0" r="4.5" fill="#a8a8e0"/>
<circle cx="620.5" cy="1321.0" r="9" fill="#d6d2e2"/>
<ellipse cx="620.5" cy="1321.0" rx="5.5" ry="5" fill="#9292e2"/>
<circle cx="684.0" cy="1002.0" r="9" fill="#d6d2e2"/>
<ellipse cx="684.0" cy="1002.0" rx="5.5" ry="5" fill="#9292e2"/>
<circle cx="684.0" cy="1023.2" r="7" fill="#d6d2e2"/>
<circle cx="684.0" cy="1023.2" r="4.5" fill="#a8a8e0"/>
<circle cx="684.0" cy="1048.5" r="9" fill="#d6d2e2"/>
<ellipse cx="684.0" cy="1048.5" rx="5.5" ry="5" fill="#9292e2"/>
<circle cx="684.0" cy="1068.5" r="7" fill="#d6d2e2"/>
<circle cx="684.0" cy="1068.5" r="4.5" fill="#a8a8e0"/>
<circle cx="684.0" cy="1092.5" r="9" fill="#d6d2e2"/>
<ellipse cx="684.0" cy="1092.5" rx="5.5" ry="5" fill="#9292e2"/>
<circle cx="684.0" cy="1113.2" r="7" fill="#d6d2e2"/>
<circle cx="684.0" cy="1113.2" r="4.5" fill="#a8a8e0"/>
<circle cx="684.0" cy="1138.0" r="9" fill="#d6d2e2"/>
<ellipse cx="684.0" cy="1138.0" rx="5.5" ry="5" fill="#9292e2"/>
<circle cx="684.0" cy="1158.5" r="7" fill="#d6d2e2"/>
<circle cx="684.0" cy="1158.5" r="4.5" fill="#a8a8e0"/>
<circle cx="684.0" cy="1183.0" r="9" fill="#d6d2e2"/>
<ellipse cx="684.0" cy="1183.0" rx="5.5" ry="5" fill="#9292e2"/>
<circle cx="684.0" cy="1204.0" r="7" fill="#d6d2e2"/>
<circle cx="684.0" cy="1204.0" r="4.5" fill="#a8a8e0"/>
<circle cx="684.0" cy="1229.0" r="9" fill="#d6d2e2"/>
<ellipse cx="684.0" cy="1229.0" rx="5.5" ry="5" fill="#9292e2"/>
<circle cx="684.0" cy="1250.0" r="7" fill="#d6d2e2"/>
<circle cx="684.0" cy="1250.0" r="4.5" fill="#a8a8e0"/>
<circle cx="684.0" cy="1275.0" r="9" fill="#d6d2e2"/>
<ellipse cx="684.0" cy="1275.0" rx="5.5" ry="5" fill="#9292e2"/>
<circle cx="684.0" cy="1296.0" r="7" fill="#d6d2e2"/>
<circle cx="684.0" cy="1296.0" r="4.5" fill="#a8a8e0"/>
<circle cx="684.0" cy="1321.0" r="9" fill="#d6d2e2"/>
<ellipse cx="684.0" cy="1321.0" rx="5.5" ry="5" fill="#9292e2"/>
<circle cx="748.0" cy="1002.0" r="9" fill="#d6d2e2"/>
<ellipse cx="748.0" cy="1002.0" rx="5.5" ry="5" fill="#9292e2"/>
<circle cx="748.0" cy="1023.2" r="7" fill="#d6d2e2"/>
<circle cx="748.0" cy="1023.2" r="4.5" fill="#a8a8e0"/>
<circle cx="748.0" cy="1048.5" r="9" fill="#d6d2e2"/>
<ellipse cx="748.0" cy="1048.5" rx="5.5" ry="5" fill="#9292e2"/>
<circle cx="748.0" cy="1068.5" r="7" fill="#d6d2e2"/>
<circle cx="748.0" cy="1068.5" r="4.5" fill="#a8a8e0"/>
<circle cx="748.0" cy="1092.5" r="9" fill="#d6d2e2"/>
<ellipse cx="748.0" cy="1092.5" rx="5.5" ry="5" fill="#9292e2"/>
<circle cx="748.0" cy="1113.2" r="7" fill="#d6d2e2"/>
<circle cx="748.0" cy="1113.2" r="4.5" fill="#a8a8e0"/>
<circle cx="748.0" cy="1138.0" r="9" fill="#d6d2e2"/>
<ellipse cx="748.0" cy="1138.0" rx="5.5" ry="5" fill="#9292e2"/>
<circle cx="748.0" cy="1158.5" r="7" fill="#d6d2e2"/>
<circle cx="748.0" cy="1158.5" r="4.5" fill="#a8a8e0"/>
<circle cx="748.0" cy="1183.0" r="9" fill="#d6d2e2"/>
<ellipse cx="748.0" cy="1183.0" rx="5.5" ry="5" fill="#9292e2"/>
<circle cx="748.0" cy="1204.0" r="7" fill="#d6d2e2"/>
<circle cx="748.0" cy="1204.0" r="4.5" fill="#a8a8e0"/>
<circle cx="748.0" cy="1229.0" r="9" fill="#d6d2e2"/>
<ellipse cx="748.0" cy="1229.0" rx="5.5" ry="5" fill="#9292e2"/>
<circle cx="748.0" cy="1250.0" r="7" fill="#d6d2e2"/>
<circle cx="748.0" cy="1250.0" r="4.5" fill="#a8a8e0"/>
<circle cx="748.0" cy="1275.0" r="9" fill="#d6d2e2"/>
<ellipse cx="748.0" cy="1275.0" rx="5.5" ry="5" fill="#9292e2"/>
<circle cx="748.0" cy="1296.0" r="7" fill="#d6d2e2"/>
<circle cx="748.0" cy="1296.0" r="4.5" fill="#a8a8e0"/>
<circle cx="748.0" cy="1321.0" r="9" fill="#d6d2e2"/>
<ellipse cx="748.0" cy="1321.0" rx="5.5" ry="5" fill="#9292e2"/>
<circle cx="810.0" cy="1002.0" r="9" fill="#d6d2e2"/>
<ellipse cx="810.0" cy="1002.0" rx="5.5" ry="5" fill="#9292e2"/>
<circle cx="810.0" cy="1023.2" r="7" fill="#d6d2e2"/>
<circle cx="810.0" cy="1023.2" r="4.5" fill="#a8a8e0"/>
<circle cx="810.0" cy="1048.5" r="9" fill="#d6d2e2"/>
<ellipse cx="810.0" cy="1048.5" rx="5.5" ry="5" fill="#9292e2"/>
<circle cx="810.0" cy="1068.5" r="7" fill="#d6d2e2"/>
<circle cx="810.0" cy="1068.5" r="4.5" fill="#a8a8e0"/>
<circle cx="810.0" cy="1092.5" r="9" fill="#d6d2e2"/>
<ellipse cx="810.0" cy="1092.5" rx="5.5" ry="5" fill="#9292e2"/>
<circle cx="810.0" cy="1113.2" r="7" fill="#d6d2e2"/>
<circle cx="810.0" cy="1113.2" r="4.5" fill="#a8a8e0"/>
<circle cx="810.0" cy="1138.0" r="9" fill="#d6d2e2"/>
<ellipse cx="810.0" cy="1138.0" rx="5.5" ry="5" fill="#9292e2"/>
<circle cx="810.0" cy="1158.5" r="7" fill="#d6d2e2"/>
<circle cx="810.0" cy="1158.5" r="4.5" fill="#a8a8e0"/>
<circle cx="810.0" cy="1183.0" r="9" fill="#d6d2e2"/>
<ellipse cx="810.0" cy="1183.0" rx="5.5" ry="5" fill="#9292e2"/>
<circle cx="810.0" cy="1204.0" r="7" fill="#d6d2e2"/>
<circle cx="810.0" cy="1204.0" r="4.5" fill="#a8a8e0"/>
<circle cx="810.0" cy="1229.0" r="9" fill="#d6d2e2"/>
<ellipse cx="810.0" cy="1229.0" rx="5.5" ry="5" fill="#9292e2"/>
<circle cx="810.0" cy="1250.0" r="7" fill="#d6d2e2"/>
<circle cx="810.0" cy="1250.0" r="4.5" fill="#a8a8e0"/>
<circle cx="810.0" cy="1275.0" r="9" fill="#d6d2e2"/>
<ellipse cx="810.0" cy="1275.0" rx="5.5" ry="5" fill="#9292e2"/>
<circle cx="810.0" cy="1296.0" r="7" fill="#d6d2e2"/>
<circle cx="810.0" cy="1296.0" r="4.5" fill="#a8a8e0"/>
<circle cx="810.0" cy="1321.0" r="9" fill="#d6d2e2"/>
<ellipse cx="810.0" cy="1321.0" rx="5.5" ry="5" fill="#9292e2"/>
<circle cx="872.0" cy="1002.0" r="9" fill="#d6d2e2"/>
<ellipse cx="872.0" cy="1002.0" rx="5.5" ry="5" fill="#9292e2"/>
<circle cx="872.0" cy="1023.2" r="7" fill="#d6d2e2"/>
<circle cx="872.0" cy="1023.2" r="4.5" fill="#a8a8e0"/>
<circle cx="872.0" cy="1048.5" r="9" fill="#d6d2e2"/>
<ellipse cx="872.0" cy="1048.5" rx="5.5" ry="5" fill="#9292e2"/>
<circle cx="872.0" cy="1068.5" r="7" fill="#d6d2e2"/>
<circle cx="872.0" cy="1068.5" r="4.5" fill="#a8a8e0"/>
<circle cx="872.0" cy="1092.5" r="9" fill="#d6d2e2"/>
<ellipse cx="872.0" cy="1092.5" rx="5.5" ry="5" fill="#9292e2"/>
<circle cx="872.0" cy="1113.2" r="7" fill="#d6d2e2"/>
<circle cx="872.0" cy="1113.2" r="4.5" fill="#a8a8e0"/>
<circle cx="872.0" cy="1138.0" r="9" fill="#d6d2e2"/>
<ellipse cx="872.0" cy="1138.0" rx="5.5" ry="5" fill="#9292e2"/>
<circle cx="872.0" cy="1158.5" r="7" fill="#d6d2e2"/>
<circle cx="872.0" cy="1158.5" r="4.5" fill="#a8a8e0"/>
<circle cx="872.0" cy="1183.0" r="9" fill="#d6d2e2"/>
<ellipse cx="872.0" cy="1183.0" rx="5.5" ry="5" fill="#9292e2"/>
<circle cx="872.0" cy="1204.0" r="7" fill="#d6d2e2"/>
<circle cx="872.0" cy="1204.0" r="4.5" fill="#a8a8e0"/>
<circle cx="872.0" cy="1229.0" r="9" fill="#d6d2e2"/>
<ellipse cx="872.0" cy="1229.0" rx="5.5" ry="5" fill="#9292e2"/>
<circle cx="872.0" cy="1250.0" r="7" fill="#d6d2e2"/>
<circle cx="872.0" cy="1250.0" r="4.5" fill="#a8a8e0"/>
<circle cx="872.0" cy="1275.0" r="9" fill="#d6d2e2"/>
<ellipse cx="872.0" cy="1275.0" rx="5.5" ry="5" fill="#9292e2"/>
<circle cx="872.0" cy="1296.0" r="7" fill="#d6d2e2"/>
<circle cx="872.0" cy="1296.0" r="4.5" fill="#a8a8e0"/>
<circle cx="872.0" cy="1321.0" r="9" fill="#d6d2e2"/>
<ellipse cx="872.0" cy="1321.0" rx="5.5" ry="5" fill="#9292e2"/>
<ellipse cx="10.0" cy="996.0" rx="11" ry="8.5" fill="#5656ec"/>
<ellipse cx="10.0" cy="996.0" rx="6.5" ry="4.5" fill="#2222e6"/>
<ellipse cx="10.0" cy="1043.0" rx="11" ry="8.5" fill="#5656ec"/>
<ellipse cx="10.0" cy="1043.0" rx="6.5" ry="4.5" fill="#2222e6"/>
<ellipse cx="10.0" cy="1087.0" rx="11" ry="8.5" fill="#5656ec"/>
<ellipse cx="10.0" cy="1087.0" rx="6.5" ry="4.5" fill="#2222e6"/>
<ellipse cx="10.0" cy="1132.5" rx="11" ry="8.5" fill="#5656ec"/>
<ellipse cx="10.0" cy="1132.5" rx="6.5" ry="4.5" fill="#2222e6"/>
<ellipse cx="10.0" cy="1181.0" rx="11" ry="8.5" fill="#5656ec"/>
<ellipse cx="10.0" cy="1181.0" rx="6.5" ry="4.5" fill="#2222e6"/>
<ellipse cx="10.0" cy="1227.0" rx="11" ry="8.5" fill="#5656ec"/>
<ellipse cx="10.0" cy="1227.0" rx="6.5" ry="4.5" fill="#2222e6"/>
<ellipse cx="10.0" cy="1273.0" rx="11" ry="8.5" fill="#5656ec"/>
<ellipse cx="10.0" cy="1273.0" rx="6.5" ry="4.5" fill="#2222e6"/>
<ellipse cx="10.0" cy="1319.0" rx="11" ry="8.5" fill="#5656ec"/>
<ellipse cx="10.0" cy="1319.0" rx="6.5" ry="4.5" fill="#2222e6"/>
<ellipse cx="74.0" cy="996.0" rx="11" ry="8.5" fill="#5656ec"/>
<ellipse cx="74.0" cy="996.0" rx="6.5" ry="4.5" fill="#2222e6"/>
<ellipse cx="74.0" cy="1043.0" rx="11" ry="8.5" fill="#5656ec"/>
<ellipse cx="74.0" cy="1043.0" rx="6.5" ry="4.5" fill="#2222e6"/>
<ellipse cx="74.0" cy="1087.0" rx="11" ry="8.5" fill="#5656ec"/>
<ellipse cx="74.0" cy="1087.0" rx="6.5" ry="4.5" fill="#2222e6"/>
<ellipse cx="74.0" cy="1132.5" rx="11" ry="8.5" fill="#5656ec"/>
<ellipse cx="74.0" cy="1132.5" rx="6.5" ry="4.5" fill="#2222e6"/>
<ellipse cx="74.0" cy="1181.0" rx="11" ry="8.5" fill="#5656ec"/>
<ellipse cx="74.0" cy="1181.0" rx="6.5" ry="4.5" fill="#2222e6"/>
<ellipse cx="74.0" cy="1227.0" rx="11" ry="8.5" fill="#5656ec"/>
<ellipse cx="74.0" cy="1227.0" rx="6.5" ry="4.5" fill="#2222e6"/>
<ellipse cx="74.0" cy="1273.0" rx="11" ry="8.5" fill="#5656ec"/>
<ellipse cx="74.0" cy="1273.0" rx="6.5" ry="4.5" fill="#2222e6"/>
<ellipse cx="74.0" cy="1319.0" rx="11" ry="8.5" fill="#5656ec"/>
<ellipse cx="74.0" cy="1319.0" rx="6.5" ry="4.5" fill="#2222e6"/>
<ellipse cx="138.8" cy="996.0" rx="11" ry="8.5" fill="#5656ec"/>
<ellipse cx="138.8" cy="996.0" rx="6.5" ry="4.5" fill="#2222e6"/>
<ellipse cx="138.8" cy="1043.0" rx="11" ry="8.5" fill="#5656ec"/>
<ellipse cx="138.8" cy="1043.0" rx="6.5" ry="4.5" fill="#2222e6"/>
<ellipse cx="138.8" cy="1087.0" rx="11" ry="8.5" fill="#5656ec"/>
<ellipse cx="138.8" cy="1087.0" rx="6.5" ry="4.5" fill="#2222e6"/>
<ellipse cx="138.8" cy="1132.5" rx="11" ry="8.5" fill="#5656ec"/>
<ellipse cx="138.8" cy="1132.5" rx="6.5" ry="4.5" fill="#2222e6"/>
<ellipse cx="138.8" cy="1181.0" rx="11" ry="8.5" fill="#5656ec"/>
<ellipse cx="138.8" cy="1181.0" rx="6.5" ry="4.5" fill="#2222e6"/>
<ellipse cx="138.8" cy="1227.0" rx="11" ry="8.5" fill="#5656ec"/>
<ellipse cx="138.8" cy="1227.0" rx="6.5" ry="4.5" fill="#2222e6"/>
<ellipse cx="138.8" cy="1273.0" rx="11" ry="8.5" fill="#5656ec"/>
<ellipse cx="138.8" cy="1273.0" rx="6.5" ry="4.5" fill="#2222e6"/>
<ellipse cx="138.8" cy="1319.0" rx="11" ry="8.5" fill="#5656ec"/>
<ellipse cx="138.8" cy="1319.0" rx="6.5" ry="4.5" fill="#2222e6"/>
<ellipse cx="202.5" cy="996.0" rx="11" ry="8.5" fill="#5656ec"/>
<ellipse cx="202.5" cy="996.0" rx="6.5" ry="4.5" fill="#2222e6"/>
<ellipse cx="202.5" cy="1043.0" rx="11" ry="8.5" fill="#5656ec"/>
<ellipse cx="202.5" cy="1043.0" rx="6.5" ry="4.5" fill="#2222e6"/>
<ellipse cx="202.5" cy="1087.0" rx="11" ry="8.5" fill="#5656ec"/>
<ellipse cx="202.5" cy="1087.0" rx="6.5" ry="4.5" fill="#2222e6"/>
<ellipse cx="202.5" cy="1132.5" rx="11" ry="8.5" fill="#5656ec"/>
<ellipse cx="202.5" cy="1132.5" rx="6.5" ry="4.5" fill="#2222e6"/>
<ellipse cx="202.5" cy="1181.0" rx="11" ry="8.5" fill="#5656ec"/>
<ellipse cx="202.5" cy="1181.0" rx="6.5" ry="4.5" fill="#2222e6"/>
<ellipse cx="202.5" cy="1227.0" rx="11" ry="8.5" fill="#5656ec"/>
<ellipse cx="202.5" cy="1227.0" rx="6.5" ry="4.5" fill="#2222e6"/>
<ellipse cx="202.5" cy="1273.0" rx="11" ry="8.5" fill="#5656ec"/>
<ellipse cx="202.5" cy="1273.0" rx="6.5" ry="4.5" fill="#2222e6"/>
<ellipse cx="202.5" cy="1319.0" rx="11" ry="8.5" fill="#5656ec"/>
<ellipse cx="202.5" cy="1319.0" rx="6.5" ry="4.5" fill="#2222e6"/>
<ellipse cx="267.5" cy="996.0" rx="11" ry="8.5" fill="#5656ec"/>
<ellipse cx="267.5" cy="996.0" rx="6.5" ry="4.5" fill="#2222e6"/>
<ellipse cx="267.5" cy="1043.0" rx="11" ry="8.5" fill="#5656ec"/>
<ellipse cx="267.5" cy="1043.0" rx="6.5" ry="4.5" fill="#2222e6"/>
<ellipse cx="267.5" cy="1087.0" rx="11" ry="8.5" fill="#5656ec"/>
<ellipse cx="267.5" cy="1087.0" rx="6.5" ry="4.5" fill="#2222e6"/>
<ellipse cx="267.5" cy="1132.5" rx="11" ry="8.5" fill="#5656ec"/>
<ellipse cx="267.5" cy="1132.5" rx="6.5" ry="4.5" fill="#2222e6"/>
<ellipse cx="267.5" cy="1181.0" rx="11" ry="8.5" fill="#5656ec"/>
<ellipse cx="267.5" cy="1181.0" rx="6.5" ry="4.5" fill="#2222e6"/>
<ellipse cx="267.5" cy="1227.0" rx="11" ry="8.5" fill="#5656ec"/>
<ellipse cx="267.5" cy="1227.0" rx="6.5" ry="4.5" fill="#2222e6"/>
<ellipse cx="267.5" cy="1273.0" rx="11" ry="8.5" fill="#5656ec"/>
<ellipse cx="267.5" cy="1273.0" rx="6.5" ry="4.5" fill="#2222e6"/>
<ellipse cx="267.5" cy="1319.0" rx="11" ry="8.5" fill="#5656ec"/>
<ellipse cx="267.5" cy="1319.0" rx="6.5" ry="4.5" fill="#2222e6"/>
<ellipse cx="331.5" cy="996.0" rx="11" ry="8.5" fill="#5656ec"/>
<ellipse cx="331.5" cy="996.0" rx="6.5" ry="4.5" fill="#2222e6"/>
<ellipse cx="331.5" cy="1043.0" rx="11" ry="8.5" fill="#5656ec"/>
<ellipse cx="331.5" cy="1043.0" rx="6.5" ry="4.5" fill="#2222e6"/>
<ellipse cx="331.5" cy="1087.0" rx="11" ry="8.5" fill="#5656ec"/>
<ellipse cx="331.5" cy="1087.0" rx="6.5" ry="4.5" fill="#2222e6"/>
<ellipse cx="331.5" cy="1132.5" rx="11" ry="8.5" fill="#5656ec"/>
<ellipse cx="331.5" cy="1132.5" rx="6.5" ry="4.5" fill="#2222e6"/>
<ellipse cx="331.5" cy="1181.0" rx="11" ry="8.5" fill="#5656ec"/>
<ellipse cx="331.5" cy="1181.0" rx="6.5" ry="4.5" fill="#2222e6"/>
<ellipse cx="331.5" cy="1227.0" rx="11" ry="8.5" fill="#5656ec"/>
<ellipse cx="331.5" cy="1227.0" rx="6.5" ry="4.5" fill="#2222e6"/>
<ellipse cx="331.5" cy="1273.0" rx="11" ry="8.5" fill="#5656ec"/>
<ellipse cx="331.5" cy="1273.0" rx="6.5" ry="4.5" fill="#2222e6"/>
<ellipse cx="331.5" cy="1319.0" rx="11" ry="8.5" fill="#5656ec"/>
<ellipse cx="331.5" cy="1319.0" rx="6.5" ry="4.5" fill="#2222e6"/>
<ellipse cx="395.0" cy="1000.0" rx="10" ry="9.5" fill="#5e5eee"/>
<ellipse cx="395.0" cy="1000.0" rx="6" ry="6" fill="#2a2ae8"/>
<ellipse cx="395.0" cy="1046.5" rx="10" ry="9.5" fill="#5e5eee"/>
<ellipse cx="395.0" cy="1046.5" rx="6" ry="6" fill="#2a2ae8"/>
<ellipse cx="395.0" cy="1090.5" rx="10" ry="9.5" fill="#5e5eee"/>
<ellipse cx="395.0" cy="1090.5" rx="6" ry="6" fill="#2a2ae8"/>
<ellipse cx="395.0" cy="1136.0" rx="10" ry="9.5" fill="#5e5eee"/>
<ellipse cx="395.0" cy="1136.0" rx="6" ry="6" fill="#2a2ae8"/>
<rect x="383.5" y="1170.0" width="23" height="22" rx="8" fill="#4848ee"/>
<rect x="386.0" y="1172.5" width="18" height="17" rx="6" fill="#1616e6"/>
<rect x="383.5" y="1216.0" width="23" height="22" rx="8" fill="#4848ee"/>
<rect x="386.0" y="1218.5" width="18" height="17" rx="6" fill="#1616e6"/>
<rect x="383.5" y="1262.0" width="23" height="22" rx="8" fill="#4848ee"/>
<rect x="386.0" y="1264.5" width="18" height="17" rx="6" fill="#1616e6"/>
<rect x="383.5" y="1308.0" width="23" height="22" rx="8" fill="#4848ee"/>
<rect x="386.0" y="1310.5" width="18" height="17" rx="6" fill="#1616e6"/>
<ellipse cx="459.0" cy="1000.0" rx="10" ry="9.5" fill="#5e5eee"/>
<ellipse cx="459.0" cy="1000.0" rx="6" ry="6" fill="#2a2ae8"/>
<ellipse cx="459.0" cy="1046.5" rx="10" ry="9.5" fill="#5e5eee"/>
<ellipse cx="459.0" cy="1046.5" rx="6" ry="6" fill="#2a2ae8"/>
<ellipse cx="459.0" cy="1090.5" rx="10" ry="9.5" fill="#5e5eee"/>
<ellipse cx="459.0" cy="1090.5" rx="6" ry="6" fill="#2a2ae8"/>
<ellipse cx="459.0" cy="1136.0" rx="10" ry="9.5" fill="#5e5eee"/>
<ellipse cx="459.0" cy="1136.0" rx="6" ry="6" fill="#2a2ae8"/>
<rect x="447.5" y="1170.0" width="23" height="22" rx="8" fill="#4848ee"/>
<rect x="450.0" y="1172.5" width="18" height="17" rx="6" fill="#1616e6"/>
<rect x="447.5" y="1216.0" width="23" height="22" rx="8" fill="#4848ee"/>
<rect x="450.0" y="1218.5" width="18" height="17" rx="6" fill="#1616e6"/>
<rect x="447.5" y="1262.0" width="23" height="22" rx="8" fill="#4848ee"/>
<rect x="450.0" y="1264.5" width="18" height="17" rx="6" fill="#1616e6"/>
<rect x="447.5" y="1308.0" width="23" height="22" rx="8" fill="#4848ee"/>
<rect x="450.0" y="1310.5" width="18" height="17" rx="6" fill="#1616e6"/>
<ellipse cx="525.0" cy="1000.0" rx="10" ry="9.5" fill="#5e5eee"/>
<ellipse cx="525.0" cy="1000.0" rx="6" ry="6" fill="#2a2ae8"/>
<ellipse cx="525.0" cy="1046.5" rx="10" ry="9.5" fill="#5e5eee"/>
<ellipse cx="525.0" cy="1046.5" rx="6" ry="6" fill="#2a2ae8"/>
<ellipse cx="525.0" cy="1090.5" rx="10" ry="9.5" fill="#5e5eee"/>
<ellipse cx="525.0" cy="1090.5" rx="6" ry="6" fill="#2a2ae8"/>
<ellipse cx="525.0" cy="1136.0" rx="10" ry="9.5" fill="#5e5eee"/>
<ellipse cx="525.0" cy="1136.0" rx="6" ry="6" fill="#2a2ae8"/>
<rect x="513.5" y="1170.0" width="23" height="22" rx="8" fill="#4848ee"/>
<rect x="516.0" y="1172.5" width="18" height="17" rx="6" fill="#1616e6"/>
<rect x="513.5" y="1216.0" width="23" height="22" rx="8" fill="#4848ee"/>
<rect x="516.0" y="1218.5" width="18" height="17" rx="6" fill="#1616e6"/>
<rect x="513.5" y="1262.0" width="23" height="22" rx="8" fill="#4848ee"/>
<rect x="516.0" y="1264.5" width="18" height="17" rx="6" fill="#1616e6"/>
<rect x="513.5" y="1308.0" width="23" height="22" rx="8" fill="#4848ee"/>
<rect x="516.0" y="1310.5" width="18" height="17" rx="6" fill="#1616e6"/>
<ellipse cx="589.0" cy="1000.0" rx="10" ry="9.5" fill="#5e5eee"/>
<ellipse cx="589.0" cy="1000.0" rx="6" ry="6" fill="#2a2ae8"/>
<ellipse cx="589.0" cy="1046.5" rx="10" ry="9.5" fill="#5e5eee"/>
<ellipse cx="589.0" cy="1046.5" rx="6" ry="6" fill="#2a2ae8"/>
<ellipse cx="589.0" cy="1090.5" rx="10" ry="9.5" fill="#5e5eee"/>
<ellipse cx="589.0" cy="1090.5" rx="6" ry="6" fill="#2a2ae8"/>
<ellipse cx="589.0" cy="1136.0" rx="10" ry="9.5" fill="#5e5eee"/>
<ellipse cx="589.0" cy="1136.0" rx="6" ry="6" fill="#2a2ae8"/>
<rect x="577.5" y="1170.0" width="23" height="22" rx="8" fill="#4848ee"/>
<rect x="580.0" y="1172.5" width="18" height="17" rx="6" fill="#1616e6"/>
<rect x="577.5" y="1216.0" width="23" height="22" rx="8" fill="#4848ee"/>
<rect x="580.0" y="1218.5" width="18" height="17" rx="6" fill="#1616e6"/>
<rect x="577.5" y="1262.0" width="23" height="22" rx="8" fill="#4848ee"/>
<rect x="580.0" y="1264.5" width="18" height="17" rx="6" fill="#1616e6"/>
<rect x="577.5" y="1308.0" width="23" height="22" rx="8" fill="#4848ee"/>
<rect x="580.0" y="1310.5" width="18" height="17" rx="6" fill="#1616e6"/>
<ellipse cx="652.0" cy="1000.0" rx="10" ry="9.5" fill="#5e5eee"/>
<ellipse cx="652.0" cy="1000.0" rx="6" ry="6" fill="#2a2ae8"/>
<ellipse cx="652.0" cy="1046.5" rx="10" ry="9.5" fill="#5e5eee"/>
<ellipse cx="652.0" cy="1046.5" rx="6" ry="6" fill="#2a2ae8"/>
<ellipse cx="652.0" cy="1090.5" rx="10" ry="9.5" fill="#5e5eee"/>
<ellipse cx="652.0" cy="1090.5" rx="6" ry="6" fill="#2a2ae8"/>
<ellipse cx="652.0" cy="1136.0" rx="10" ry="9.5" fill="#5e5eee"/>
<ellipse cx="652.0" cy="1136.0" rx="6" ry="6" fill="#2a2ae8"/>
<rect x="640.5" y="1170.0" width="23" height="22" rx="8" fill="#4848ee"/>
<rect x="643.0" y="1172.5" width="18" height="17" rx="6" fill="#1616e6"/>
<rect x="640.5" y="1216.0" width="23" height="22" rx="8" fill="#4848ee"/>
<rect x="643.0" y="1218.5" width="18" height="17" rx="6" fill="#1616e6"/>
<rect x="640.5" y="1262.0" width="23" height="22" rx="8" fill="#4848ee"/>
<rect x="643.0" y="1264.5" width="18" height="17" rx="6" fill="#1616e6"/>
<rect x="640.5" y="1308.0" width="23" height="22" rx="8" fill="#4848ee"/>
<rect x="643.0" y="1310.5" width="18" height="17" rx="6" fill="#1616e6"/>
<ellipse cx="716.0" cy="1000.0" rx="10" ry="9.5" fill="#5e5eee"/>
<ellipse cx="716.0" cy="1000.0" rx="6" ry="6" fill="#2a2ae8"/>
<ellipse cx="716.0" cy="1046.5" rx="10" ry="9.5" fill="#5e5eee"/>
<ellipse cx="716.0" cy="1046.5" rx="6" ry="6" fill="#2a2ae8"/>
<ellipse cx="716.0" cy="1090.5" rx="10" ry="9.5" fill="#5e5eee"/>
<ellipse cx="716.0" cy="1090.5" rx="6" ry="6" fill="#2a2ae8"/>
<ellipse cx="716.0" cy="1136.0" rx="10" ry="9.5" fill="#5e5eee"/>
<ellipse cx="716.0" cy="1136.0" rx="6" ry="6" fill="#2a2ae8"/>
<rect x="704.5" y="1170.0" width="23" height="22" rx="8" fill="#4848ee"/>
<rect x="707.0" y="1172.5" width="18" height="17" rx="6" fill="#1616e6"/>
<rect x="704.5" y="1216.0" width="23" height="22" rx="8" fill="#4848ee"/>
<rect x="707.0" y="1218.5" width="18" height="17" rx="6" fill="#1616e6"/>
<rect x="704.5" y="1262.0" width="23" height="22" rx="8" fill="#4848ee"/>
<rect x="707.0" y="1264.5" width="18" height="17" rx="6" fill="#1616e6"/>
<rect x="704.5" y="1308.0" width="23" height="22" rx="8" fill="#4848ee"/>
<rect x="707.0" y="1310.5" width="18" height="17" rx="6" fill="#1616e6"/>
<ellipse cx="780.0" cy="1000.0" rx="10" ry="9.5" fill="#5e5eee"/>
<ellipse cx="780.0" cy="1000.0" rx="6" ry="6" fill="#2a2ae8"/>
<ellipse cx="780.0" cy="1046.5" rx="10" ry="9.5" fill="#5e5eee"/>
<ellipse cx="780.0" cy="1046.5" rx="6" ry="6" fill="#2a2ae8"/>
<ellipse cx="780.0" cy="1090.5" rx="10" ry="9.5" fill="#5e5eee"/>
<ellipse cx="780.0" cy="1090.5" rx="6" ry="6" fill="#2a2ae8"/>
<ellipse cx="780.0" cy="1136.0" rx="10" ry="9.5" fill="#5e5eee"/>
<ellipse cx="780.0" cy="1136.0" rx="6" ry="6" fill="#2a2ae8"/>
<rect x="768.5" y="1170.0" width="23" height="22" rx="8" fill="#4848ee"/>
<rect x="771.0" y="1172.5" width="18" height="17" rx="6" fill="#1616e6"/>
<rect x="768.5" y="1216.0" width="23" height="22" rx="8" fill="#4848ee"/>
<rect x="771.0" y="1218.5" width="18" height="17" rx="6" fill="#1616e6"/>
<rect x="768.5" y="1262.0" width="23" height="22" rx="8" fill="#4848ee"/>
<rect x="771.0" y="1264.5" width="18" height="17" rx="6" fill="#1616e6"/>
<rect x="768.5" y="1308.0" width="23" height="22" rx="8" fill="#4848ee"/>
<rect x="771.0" y="1310.5" width="18" height="17" rx="6" fill="#1616e6"/>
<ellipse cx="840.0" cy="1000.0" rx="10" ry="9.5" fill="#5e5eee"/>
<ellipse cx="840.0" cy="1000.0" rx="6" ry="6" fill="#2a2ae8"/>
<ellipse cx="840.0" cy="1046.5" rx="10" ry="9.5" fill="#5e5eee"/>
<ellipse cx="840.0" cy="1046.5" rx="6" ry="6" fill="#2a2ae8"/>
<ellipse cx="840.0" cy="1090.5" rx="10" ry="9.5" fill="#5e5eee"/>
<ellipse cx="840.0" cy="1090.5" rx="6" ry="6" fill="#2a2ae8"/>
<ellipse cx="840.0" cy="1136.0" rx="10" ry="9.5" fill="#5e5eee"/>
<ellipse cx="840.0" cy="1136.0" rx="6" ry="6" fill="#2a2ae8"/>
<rect x="828.5" y="1170.0" width="23" height="22" rx="8" fill="#4848ee"/>
<rect x="831.0" y="1172.5" width="18" height="17" rx="6" fill="#1616e6"/>
<rect x="828.5" y="1216.0" width="23" height="22" rx="8" fill="#4848ee"/>
<rect x="831.0" y="1218.5" width="18" height="17" rx="6" fill="#1616e6"/>
<rect x="828.5" y="1262.0" width="23" height="22" rx="8" fill="#4848ee"/>
<rect x="831.0" y="1264.5" width="18" height="17" rx="6" fill="#1616e6"/>
<rect x="828.5" y="1308.0" width="23" height="22" rx="8" fill="#4848ee"/>
<rect x="831.0" y="1310.5" width="18" height="17" rx="6" fill="#1616e6"/>
<ellipse cx="904.0" cy="1000.0" rx="10" ry="9.5" fill="#5e5eee"/>
<ellipse cx="904.0" cy="1000.0" rx="6" ry="6" fill="#2a2ae8"/>
<ellipse cx="904.0" cy="1046.5" rx="10" ry="9.5" fill="#5e5eee"/>
<ellipse cx="904.0" cy="1046.5" rx="6" ry="6" fill="#2a2ae8"/>
<ellipse cx="904.0" cy="1090.5" rx="10" ry="9.5" fill="#5e5eee"/>
<ellipse cx="904.0" cy="1090.5" rx="6" ry="6" fill="#2a2ae8"/>
<ellipse cx="904.0" cy="1136.0" rx="10" ry="9.5" fill="#5e5eee"/>
<ellipse cx="904.0" cy="1136.0" rx="6" ry="6" fill="#2a2ae8"/>
<rect x="892.5" y="1170.0" width="23" height="22" rx="8" fill="#4848ee"/>
<rect x="895.0" y="1172.5" width="18" height="17" rx="6" fill="#1616e6"/>
<rect x="892.5" y="1216.0" width="23" height="22" rx="8" fill="#4848ee"/>
<rect x="895.0" y="1218.5" width="18" height="17" rx="6" fill="#1616e6"/>
<rect x="892.5" y="1262.0" width="23" height="22" rx="8" fill="#4848ee"/>
<rect x="895.0" y="1264.5" width="18" height="17" rx="6" fill="#1616e6"/>
<rect x="892.5" y="1308.0" width="23" height="22" rx="8" fill="#4848ee"/>
<rect x="895.0" y="1310.5" width="18" height="17" rx="6" fill="#1616e6"/>
</g></g>
<path d="M77.1,1089.5L106.6,1070.5M106.6,1070.5L139.9,1094.2M139.9,1094.2L108.5,1113.3M108.5,1113.3L77.1,1089.5M106.6,1070.5L108.5,1113.3M77.1,1089.5L139.9,1094.2M77.1,1134.2L108.5,1113.3M108.5,1113.3L139.9,1136.1M139.9,1136.1L110.4,1160.8M110.4,1160.8L77.1,1134.2M108.5,1113.3L110.4,1160.8M77.1,1134.2L139.9,1136.1M139.9,1094.2L170.0,1071.0M170.0,1071.0L202.5,1094.8M202.5,1094.8L174.2,1116.0M174.2,1116.0L139.9,1094.2M170.0,1071.0L174.2,1116.0M139.9,1094.2L202.5,1094.8M139.9,1136.1L174.2,1116.0M174.2,1116.0L203.3,1141.0M203.3,1141.0L173.8,1162.7M173.8,1162.7L139.9,1136.1M174.2,1116.0L173.8,1162.7M139.9,1136.1L203.3,1141.0M202.5,1094.8L233.3,1074.4M233.3,1074.4L270.0,1094.6M270.0,1094.6L232.2,1119.0M232.2,1119.0L202.5,1094.8M233.3,1074.4L232.2,1119.0M202.5,1094.8L270.0,1094.6M203.3,1141.0L232.2,1119.0M232.2,1119.0L273.2,1141.0M273.2,1141.0L234.4,1163.2M234.4,1163.2L203.3,1141.0M232.2,1119.0L234.4,1163.2M203.3,1141.0L273.2,1141.0M270.0,1094.6L297.0,1075.0M297.0,1075.0L333.8,1095.5M333.8,1095.5L297.7,1119.5M297.7,1119.5L270.0,1094.6M297.0,1075.0L297.7,1119.5M270.0,1094.6L333.8,1095.5M273.2,1141.0L297.7,1119.5M297.7,1119.5L336.5,1141.0M336.5,1141.0L298.3,1163.2M298.3,1163.2L273.2,1141.0M297.7,1119.5L298.3,1163.2M273.2,1141.0L336.5,1141.0M333.8,1095.5L363.1,1077.0M363.1,1077.0L396.7,1097.5M396.7,1097.5L364.0,1119.5M364.0,1119.5L333.8,1095.5M363.1,1077.0L364.0,1119.5M333.8,1095.5L396.7,1097.5M336.5,1141.0L364.0,1119.5M364.0,1119.5L397.5,1142.0M397.5,1142.0L364.2,1166.5M364.2,1166.5L336.5,1141.0M364.0,1119.5L364.2,1166.5M336.5,1141.0L397.5,1142.0M396.7,1097.5L423.4,1073.8M423.4,1073.8L456.5,1093.6M456.5,1093.6L427.4,1121.4M427.4,1121.4L396.7,1097.5M423.4,1073.8L427.4,1121.4M396.7,1097.5L456.5,1093.6M397.5,1142.0L427.4,1121.4M427.4,1121.4L459.1,1142.5M459.1,1142.5L427.4,1166.3M427.4,1166.3L397.5,1142.0M427.4,1121.4L427.4,1166.3M397.5,1142.0L459.1,1142.5M456.5,1093.6L490.8,1072.5M490.8,1072.5L523.8,1098.9M523.8,1098.9L489.5,1118.7M489.5,1118.7L456.5,1093.6M490.8,1072.5L489.5,1118.7M456.5,1093.6L523.8,1098.9M459.1,1142.5L489.5,1118.7M489.5,1118.7L523.8,1141.2M523.8,1141.2L493.5,1163.6M493.5,1163.6L459.1,1142.5M489.5,1118.7L493.5,1163.6M459.1,1142.5L523.8,1141.2M523.8,1098.9L554.2,1073.8M554.2,1073.8L588.6,1093.6M588.6,1093.6L556.9,1118.7M556.9,1118.7L523.8,1098.9M554.2,1073.8L556.9,1118.7M523.8,1098.9L588.6,1093.6M523.8,1141.2L556.9,1118.7M556.9,1118.7L591.2,1143.8M591.2,1143.8L555.6,1162.3M555.6,1162.3L523.8,1141.2M556.9,1118.7L555.6,1162.3M523.8,1141.2L591.2,1143.8M588.6,1093.6L623.2,1072.5M623.2,1072.5L652.0,1100.3M652.0,1100.3L617.9,1118.3M617.9,1118.3L588.6,1093.6M623.2,1072.5L617.9,1118.3M588.6,1093.6L652.0,1100.3M591.2,1143.8L617.9,1118.3M617.9,1118.3L655.6,1138.0M655.6,1138.0L625.0,1162.3M625.0,1162.3L591.2,1143.8M617.9,1118.3L625.0,1162.3M591.2,1143.8L655.6,1138.0M652.0,1100.3L682.5,1075.2M682.5,1075.2L715.7,1095.6M715.7,1095.6L686.1,1120.0M686.1,1120.0L652.0,1100.3M682.5,1075.2L686.1,1120.0M652.0,1100.3L715.7,1095.6M655.6,1138.0L686.1,1120.0M686.1,1120.0L718.5,1144.3M718.5,1144.3L683.4,1166.8M683.4,1166.8L655.6,1138.0M686.1,1120.0L683.4,1166.8M655.6,1138.0L718.5,1144.3M715.7,1095.6L749.4,1076.0M749.4,1076.0L778.5,1102.0M778.5,1102.0L745.6,1120.4M745.6,1120.4L715.7,1095.6M749.4,1076.0L745.6,1120.4M715.7,1095.6L778.5,1102.0M718.5,1144.3L745.6,1120.4M745.6,1120.4L778.5,1140.4M778.5,1140.4L749.4,1164.1M749.4,1164.1L718.5,1144.3M745.6,1120.4L749.4,1164.1M718.5,1144.3L778.5,1140.4M778.5,1102.0L807.6,1077.2M807.6,1077.2L839.4,1094.7M839.4,1094.7L811.4,1121.3M811.4,1121.3L778.5,1102.0M807.6,1077.2L811.4,1121.3M778.5,1102.0L839.4,1094.7M778.5,1140.4L811.4,1121.3M811.4,1121.3L839.4,1144.2M839.4,1144.2L808.0,1164.1M808.0,1164.1L778.5,1140.4M811.4,1121.3L808.0,1164.1M778.5,1140.4L839.4,1144.2M625.0,1162.3L620.5,1210.0L630.4,1255.8M683.4,1166.8L687.0,1209.0L683.4,1255.8" stroke="#fff" stroke-width="2.2" fill="none" stroke-linejoin="round"/>
<line x1="364.2" y1="1030.5" x2="364.2" y2="1292.5" stroke="#000" stroke-width="2.2" stroke-dasharray="5 3.5"/>
<rect x="83.4" y="1042.2" width="150" height="7.4" fill="#000"/>
<text x="292.5" y="1061.5" font-size="27.5" text-anchor="start" fill="#000" >STO</text>
<text x="383.5" y="1061.5" font-size="27.5" text-anchor="start" fill="#000" >LAO</text>
<defs><radialGradient id="gSr" cx="0.5" cy="0.5" r="0.55" fx="0.38" fy="0.3"><stop offset="0" stop-color="#ffffff"/><stop offset="0.12" stop-color="#ff5050"/><stop offset="0.55" stop-color="#dd0000"/><stop offset="1" stop-color="#700000"/></radialGradient></defs>
<defs><radialGradient id="gLa" cx="0.5" cy="0.5" r="0.55" fx="0.38" fy="0.3"><stop offset="0" stop-color="#ffffff"/><stop offset="0.12" stop-color="#5050ff"/><stop offset="0.55" stop-color="#0000cc"/><stop offset="1" stop-color="#000060"/></radialGradient></defs>
<defs><radialGradient id="gTi" cx="0.5" cy="0.5" r="0.55" fx="0.38" fy="0.3"><stop offset="0" stop-color="#ffffff"/><stop offset="0.12" stop-color="#40c040"/><stop offset="0.55" stop-color="#087a08"/><stop offset="1" stop-color="#003000"/></radialGradient></defs>
<defs><radialGradient id="gO" cx="0.5" cy="0.5" r="0.55" fx="0.38" fy="0.3"><stop offset="0" stop-color="#ffffff"/><stop offset="0.12" stop-color="#a0ffff"/><stop offset="0.55" stop-color="#20d0d0"/><stop offset="1" stop-color="#0a7070"/></radialGradient></defs>
<defs><radialGradient id="gAl" cx="0.5" cy="0.5" r="0.55" fx="0.38" fy="0.3"><stop offset="0" stop-color="#ffffff"/><stop offset="0.12" stop-color="#ffff80"/><stop offset="0.55" stop-color="#e0d000"/><stop offset="1" stop-color="#807000"/></radialGradient></defs>
<circle cx="623.2" cy="1072.5" r="6" fill="url(#gO)"/>
<circle cx="617.9" cy="1118.3" r="6" fill="url(#gO)"/>
<circle cx="625.0" cy="1162.3" r="6" fill="url(#gO)"/>
<circle cx="620.5" cy="1210.0" r="6" fill="url(#gO)"/>
<circle cx="630.4" cy="1255.8" r="6" fill="url(#gO)"/>
<circle cx="682.5" cy="1075.2" r="6" fill="url(#gO)"/>
<circle cx="686.1" cy="1120.0" r="6" fill="url(#gO)"/>
<circle cx="683.4" cy="1166.8" r="6" fill="url(#gO)"/>
<circle cx="687.0" cy="1209.0" r="6" fill="url(#gO)"/>
<circle cx="683.4" cy="1255.8" r="6" fill="url(#gO)"/>
<circle cx="77.1" cy="1179.8" r="14" fill="#e2c8cc" filter="url(#bl1)"/>
<circle cx="77.1" cy="1179.8" r="10.5" fill="url(#gSr)"/>
<circle cx="139.9" cy="1179.8" r="14" fill="#e2c8cc" filter="url(#bl1)"/>
<circle cx="139.9" cy="1179.8" r="10.5" fill="url(#gSr)"/>
<circle cx="77.1" cy="1225.1" r="14" fill="#e2c8cc" filter="url(#bl1)"/>
<circle cx="77.1" cy="1225.1" r="10.5" fill="url(#gSr)"/>
<circle cx="139.9" cy="1225.1" r="14" fill="#e2c8cc" filter="url(#bl1)"/>
<circle cx="139.9" cy="1225.1" r="10.5" fill="url(#gSr)"/>
<circle cx="77.1" cy="1269.3" r="14" fill="#e2c8cc" filter="url(#bl1)"/>
<circle cx="77.1" cy="1269.3" r="10.5" fill="url(#gSr)"/>
<circle cx="139.9" cy="1269.3" r="14" fill="#e2c8cc" filter="url(#bl1)"/>
<circle cx="139.9" cy="1269.3" r="10.5" fill="url(#gSr)"/>
<circle cx="108.5" cy="1225.1" r="8" fill="url(#gTi)"/>
<circle cx="108.5" cy="1204.2" r="6" fill="url(#gO)"/>
<circle cx="109.7" cy="1248.4" r="6" fill="url(#gO)"/>
<rect x="77.1" y="1179.8" width="63.9" height="88.3" fill="none" stroke="#d8d8d8" stroke-width="1.6"/>
<circle cx="781.4" cy="1185.7" r="13.5" fill="#c8c4e4" filter="url(#bl1)"/>
<circle cx="781.4" cy="1185.7" r="10.8" fill="url(#gLa)"/>
<circle cx="842.4" cy="1185.7" r="13.5" fill="#c8c4e4" filter="url(#bl1)"/>
<circle cx="842.4" cy="1185.7" r="10.8" fill="url(#gLa)"/>
<circle cx="781.4" cy="1231.5" r="13.5" fill="#c8c4e4" filter="url(#bl1)"/>
<circle cx="781.4" cy="1231.5" r="10.8" fill="url(#gLa)"/>
<circle cx="842.4" cy="1231.5" r="13.5" fill="#c8c4e4" filter="url(#bl1)"/>
<circle cx="842.4" cy="1231.5" r="10.8" fill="url(#gLa)"/>
<circle cx="781.4" cy="1275" r="13.5" fill="#c8c4e4" filter="url(#bl1)"/>
<circle cx="781.4" cy="1275.0" r="10.8" fill="url(#gLa)"/>
<circle cx="842.4" cy="1275" r="13.5" fill="#c8c4e4" filter="url(#bl1)"/>
<circle cx="842.4" cy="1275.0" r="10.8" fill="url(#gLa)"/>
<circle cx="811.9" cy="1232.6" r="7.6" fill="url(#gAl)"/>
<circle cx="815.1" cy="1209.7" r="5.7" fill="url(#gO)"/>
<circle cx="811.9" cy="1255.4" r="5.7" fill="url(#gO)"/>
<rect x="780.3" y="1185.7" width="62.1" height="88.3" fill="none" stroke="#d8d8d8" stroke-width="1.6"/>
<line x1="188.7" y1="1218.0" x2="188.7" y2="1256.0" stroke="#000" stroke-width="2.6" />
<polygon points="188.7,1209.0 182.0,1221.0 195.4,1221.0" fill="#000" stroke="none" stroke-width="1.8"/>
<polygon points="188.7,1264.5 182.0,1252.5 195.4,1252.5" fill="#000" stroke="none" stroke-width="1.8"/>
<line x1="188.7" y1="1236.7" x2="228.0" y2="1236.7" stroke="#000" stroke-width="2.6" />
<polygon points="238.0,1236.7 225.0,1230.0 225.0,1243.4" fill="#000" stroke="none" stroke-width="1.8"/>
<text x="198.5" y="1225.5" font-size="27.5" text-anchor="start" fill="#000" font-style="italic">b</text>
<text x="240.5" y="1245.5" font-size="27.5" text-anchor="start" fill="#000" font-style="italic">c</text>
<text x="198.5" y="1268.5" font-size="27.5" text-anchor="start" fill="#000" font-style="italic">a</text>
<rect x="57.5" y="1030.5" width="802.5" height="262.0" fill="none" stroke="#000" stroke-width="3"/>
<circle cx="886.6" cy="1102.9" r="6" fill="url(#gO)"/>
<text x="901.0" y="1112.5" font-size="27.5" text-anchor="start" fill="#000" >O</text>
<circle cx="885.5" cy="1146.5" r="7.5" fill="url(#gAl)"/>
<text x="902.0" y="1156.0" font-size="27.5" text-anchor="start" fill="#000" >Al</text>
<circle cx="885.5" cy="1190.0" r="7.5" fill="url(#gTi)"/>
<text x="902.0" y="1199.0" font-size="27.5" text-anchor="start" fill="#000" >Ti</text>
<circle cx="884.8" cy="1233.6" r="10.3" fill="url(#gSr)"/>
<text x="902.0" y="1242.5" font-size="27.5" text-anchor="start" fill="#000" >Sr</text>
<circle cx="884.8" cy="1277.2" r="10.3" fill="url(#gLa)"/>
<text x="902.0" y="1286.0" font-size="27.5" text-anchor="start" fill="#000" >La</text>
</svg></body></html>
